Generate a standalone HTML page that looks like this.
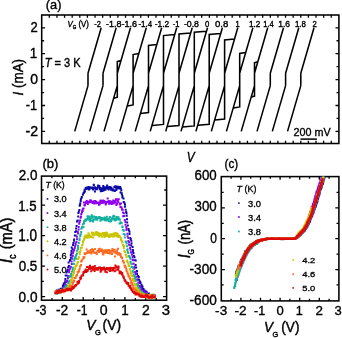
<!DOCTYPE html>
<html><head><meta charset="utf-8"><style>
html,body{margin:0;padding:0;background:#fff;width:342px;height:338px;overflow:hidden}
svg{display:block;will-change:transform}
text{font-family:"Liberation Sans", sans-serif;fill:#000;stroke:#000;stroke-width:0.38px}
</style></head><body>
<svg width="342" height="338" viewBox="0 0 342 338">
<rect x="41.7" y="15.0" width="297.2" height="128.5" fill="none" stroke="#000" stroke-width="1.55"/>
<path d="M41.7,131.40h3.4M338.9,131.40h-3.4M41.7,118.45h2.4M338.9,118.45h-2.4M41.7,105.50h3.4M338.9,105.50h-3.4M41.7,92.55h2.4M338.9,92.55h-2.4M41.7,79.60h3.4M338.9,79.60h-3.4M41.7,66.65h2.4M338.9,66.65h-2.4M41.7,53.70h3.4M338.9,53.70h-3.4M41.7,40.75h2.4M338.9,40.75h-2.4M41.7,27.80h3.4M338.9,27.80h-3.4M49.32,15.0v2.8M49.32,143.5v-2.8M56.94,15.0v2.8M56.94,143.5v-2.8M64.56,15.0v2.8M64.56,143.5v-2.8M72.18,15.0v2.8M72.18,143.5v-2.8M79.80,15.0v2.8M79.80,143.5v-2.8M87.42,15.0v2.8M87.42,143.5v-2.8M95.04,15.0v2.8M95.04,143.5v-2.8M102.66,15.0v2.8M102.66,143.5v-2.8M110.28,15.0v2.8M110.28,143.5v-2.8M117.90,15.0v2.8M117.90,143.5v-2.8M125.52,15.0v2.8M125.52,143.5v-2.8M133.14,15.0v2.8M133.14,143.5v-2.8M140.76,15.0v2.8M140.76,143.5v-2.8M148.38,15.0v2.8M148.38,143.5v-2.8M156.00,15.0v2.8M156.00,143.5v-2.8M163.62,15.0v2.8M163.62,143.5v-2.8M171.24,15.0v2.8M171.24,143.5v-2.8M178.86,15.0v2.8M178.86,143.5v-2.8M186.48,15.0v2.8M186.48,143.5v-2.8M194.10,15.0v2.8M194.10,143.5v-2.8M201.72,15.0v2.8M201.72,143.5v-2.8M209.34,15.0v2.8M209.34,143.5v-2.8M216.96,15.0v2.8M216.96,143.5v-2.8M224.58,15.0v2.8M224.58,143.5v-2.8M232.20,15.0v2.8M232.20,143.5v-2.8M239.82,15.0v2.8M239.82,143.5v-2.8M247.44,15.0v2.8M247.44,143.5v-2.8M255.06,15.0v2.8M255.06,143.5v-2.8M262.68,15.0v2.8M262.68,143.5v-2.8M270.30,15.0v2.8M270.30,143.5v-2.8M277.92,15.0v2.8M277.92,143.5v-2.8M285.54,15.0v2.8M285.54,143.5v-2.8M293.16,15.0v2.8M293.16,143.5v-2.8M300.78,15.0v2.8M300.78,143.5v-2.8M308.40,15.0v2.8M308.40,143.5v-2.8M316.02,15.0v2.8M316.02,143.5v-2.8M323.64,15.0v2.8M323.64,143.5v-2.8M331.26,15.0v2.8M331.26,143.5v-2.8" stroke="#000" stroke-width="1.3" fill="none"/>
<path d="M300.5,139.1H316.9" stroke="#000" stroke-width="1.5"/>
<path d="M101.19,27.7L88.00,73.2M74.72,131.4L88.00,85.6M88.00,73.2V85.6M116.19,27.7L103.00,73.2M89.72,131.4L103.00,85.6M103.00,73.2V85.6M130.50,27.7L117.30,73.2M104.02,131.4L117.30,85.6M120.66,60.60L117.30,61.60V97.20L113.94,98.20M146.29,27.7L133.10,73.2M119.82,131.4L133.10,85.6M138.49,53.60L133.10,54.60V104.90L127.50,105.90M161.69,27.7L148.50,73.2M135.22,131.4L148.50,85.6M156.56,44.40L148.50,45.40V112.60L140.67,113.60M176.69,27.7L163.50,73.2M150.22,131.4L163.50,85.6M174.40,34.60L163.50,35.60V124.40L152.25,125.40M192.19,27.7L179.00,73.2M165.72,131.4L179.00,85.6M190.37,33.00L179.00,34.00V125.60L167.40,126.60M207.50,27.7L194.30,73.2M181.02,131.4L194.30,85.6M206.16,31.30L194.30,32.30V125.90L182.61,126.90M222.39,27.7L209.20,73.2M195.92,131.4L209.20,85.6M220.45,33.40L209.20,34.40V124.30L197.98,125.30M237.79,27.7L224.60,73.2M211.32,131.4L224.60,85.6M234.23,39.00L224.60,40.00V119.10L214.88,120.10M252.89,27.7L239.70,73.2M226.42,131.4L239.70,85.6M245.41,52.50L239.70,53.50V106.90L233.52,107.90M267.69,27.7L254.50,73.2M241.22,131.4L254.50,85.6M257.52,61.80L254.50,62.80V96.10L251.46,97.10M283.50,27.7L270.30,73.2M257.02,131.4L270.30,85.6M270.30,73.2V85.6M298.80,27.7L285.60,73.2M272.32,131.4L285.60,85.6M285.60,73.2V85.6M314.00,27.7L300.80,73.2M287.52,131.4L300.80,85.6M300.80,73.2V85.6" stroke="#000" stroke-width="1.55" fill="none" stroke-linejoin="miter"/>
<rect x="41.5" y="176.1" width="125.1" height="124.1" fill="none" stroke="#000" stroke-width="1.55"/>
<path d="M51.92,176.1v2.2M51.92,300.2v-2.2M62.35,176.1v3.2M62.35,300.2v-3.2M72.78,176.1v2.2M72.78,300.2v-2.2M83.20,176.1v3.2M83.20,300.2v-3.2M93.62,176.1v2.2M93.62,300.2v-2.2M104.05,176.1v3.2M104.05,300.2v-3.2M114.48,176.1v2.2M114.48,300.2v-2.2M124.90,176.1v3.2M124.90,300.2v-3.2M135.32,176.1v2.2M135.32,300.2v-2.2M145.75,176.1v3.2M145.75,300.2v-3.2M156.18,176.1v2.2M156.18,300.2v-2.2M41.5,296.55h3.6M166.6,296.55h-3.6M41.5,281.32h2.4M166.6,281.32h-2.4M41.5,266.10h3.6M166.6,266.10h-3.6M41.5,250.88h2.4M166.6,250.88h-2.4M41.5,235.65h3.6M166.6,235.65h-3.6M41.5,220.43h2.4M166.6,220.43h-2.4M41.5,205.20h3.6M166.6,205.20h-3.6M41.5,189.98h2.4M166.6,189.98h-2.4" stroke="#000" stroke-width="1.3" fill="none"/>
<circle cx="47.5" cy="198.90" r="0.95" fill="#0a0aa6"/>
<circle cx="47.5" cy="213.02" r="0.95" fill="#9000f0"/>
<circle cx="47.5" cy="227.14" r="0.95" fill="#12b09e"/>
<circle cx="47.5" cy="241.26" r="0.95" fill="#c8c400"/>
<circle cx="47.5" cy="255.38" r="0.95" fill="#ff6a22"/>
<circle cx="47.5" cy="269.50" r="0.95" fill="#dd0808"/>
<path fill="#0a0aa6" d="M54.8 291.2h2.0v2.0h-2.0zM55.1 291.9h2.0v2.0h-2.0zM55.2 291.2h2.0v2.0h-2.0zM55.8 289.5h2.0v2.0h-2.0zM56.3 290.8h2.0v2.0h-2.0zM56.5 289.8h2.0v2.0h-2.0zM56.7 290.0h2.0v2.0h-2.0zM57.3 290.5h2.0v2.0h-2.0zM57.4 291.0h2.0v2.0h-2.0zM58.2 290.9h2.0v2.0h-2.0zM58.6 289.4h2.0v2.0h-2.0zM58.7 288.9h2.0v2.0h-2.0zM59.5 288.6h2.0v2.0h-2.0zM59.7 287.7h2.0v2.0h-2.0zM59.8 288.1h2.0v2.0h-2.0zM60.2 287.8h2.0v2.0h-2.0zM61.4 287.8h2.0v2.0h-2.0zM61.8 287.6h2.0v2.0h-2.0zM61.9 284.9h2.0v2.0h-2.0zM62.5 283.9h2.0v2.0h-2.0zM62.8 282.6h2.0v2.0h-2.0zM63.1 282.9h2.0v2.0h-2.0zM63.6 282.3h2.0v2.0h-2.0zM64.3 281.0h2.0v2.0h-2.0zM64.2 280.2h2.0v2.0h-2.0zM64.4 278.0h2.0v2.0h-2.0zM64.7 274.4h2.0v2.0h-2.0zM65.6 274.4h2.0v2.0h-2.0zM65.6 271.4h2.0v2.0h-2.0zM66.4 270.0h2.0v2.0h-2.0zM66.8 269.0h2.0v2.0h-2.0zM67.1 266.5h2.0v2.0h-2.0zM67.9 265.1h2.0v2.0h-2.0zM67.6 261.6h2.0v2.0h-2.0zM68.9 259.7h2.0v2.0h-2.0zM69.1 259.0h2.0v2.0h-2.0zM69.9 256.8h2.0v2.0h-2.0zM69.8 254.2h2.0v2.0h-2.0zM70.3 252.3h2.0v2.0h-2.0zM70.5 250.1h2.0v2.0h-2.0zM70.7 246.4h2.0v2.0h-2.0zM71.5 248.3h2.0v2.0h-2.0zM72.1 243.9h2.0v2.0h-2.0zM72.4 242.1h2.0v2.0h-2.0zM73.1 239.8h2.0v2.0h-2.0zM73.1 238.5h2.0v2.0h-2.0zM73.8 234.5h2.0v2.0h-2.0zM74.6 234.5h2.0v2.0h-2.0zM74.3 231.1h2.0v2.0h-2.0zM75.0 230.3h2.0v2.0h-2.0zM75.1 227.6h2.0v2.0h-2.0zM75.6 225.0h2.0v2.0h-2.0zM76.0 220.4h2.0v2.0h-2.0zM76.7 219.4h2.0v2.0h-2.0zM77.2 215.4h2.0v2.0h-2.0zM77.4 212.1h2.0v2.0h-2.0zM77.8 210.7h2.0v2.0h-2.0zM78.4 209.0h2.0v2.0h-2.0zM78.7 204.8h2.0v2.0h-2.0zM79.0 203.8h2.0v2.0h-2.0zM79.3 202.3h2.0v2.0h-2.0zM79.7 200.1h2.0v2.0h-2.0zM79.9 198.3h2.0v2.0h-2.0zM80.8 195.9h2.0v2.0h-2.0zM80.6 196.7h2.0v2.0h-2.0zM81.9 193.8h2.0v2.0h-2.0zM81.9 193.5h2.0v2.0h-2.0zM82.6 192.0h2.0v2.0h-2.0zM83.1 191.5h2.0v2.0h-2.0zM83.5 190.0h2.0v2.0h-2.0zM83.6 188.8h2.0v2.0h-2.0zM83.9 190.4h2.0v2.0h-2.0zM84.7 188.0h2.0v2.0h-2.0zM84.7 186.9h2.0v2.0h-2.0zM85.6 186.7h2.0v2.0h-2.0zM85.6 187.5h2.0v2.0h-2.0zM86.4 187.8h2.0v2.0h-2.0zM86.3 186.5h2.0v2.0h-2.0zM86.9 186.7h2.0v2.0h-2.0zM87.7 188.4h2.0v2.0h-2.0zM87.6 186.1h2.0v2.0h-2.0zM88.4 187.2h2.0v2.0h-2.0zM88.6 188.2h2.0v2.0h-2.0zM88.6 186.3h2.0v2.0h-2.0zM89.7 186.8h2.0v2.0h-2.0zM89.6 186.5h2.0v2.0h-2.0zM90.1 186.8h2.0v2.0h-2.0zM90.9 186.4h2.0v2.0h-2.0zM91.0 187.0h2.0v2.0h-2.0zM91.8 188.1h2.0v2.0h-2.0zM92.1 188.6h2.0v2.0h-2.0zM92.3 186.5h2.0v2.0h-2.0zM92.9 183.8h2.0v2.0h-2.0zM92.7 184.1h2.0v2.0h-2.0zM93.9 190.5h2.0v2.0h-2.0zM94.0 186.3h2.0v2.0h-2.0zM94.0 187.3h2.0v2.0h-2.0zM94.7 188.2h2.0v2.0h-2.0zM95.6 187.6h2.0v2.0h-2.0zM95.8 187.2h2.0v2.0h-2.0zM96.1 188.3h2.0v2.0h-2.0zM96.5 187.1h2.0v2.0h-2.0zM96.8 185.4h2.0v2.0h-2.0zM97.2 184.5h2.0v2.0h-2.0zM97.6 185.7h2.0v2.0h-2.0zM98.3 184.9h2.0v2.0h-2.0zM98.9 186.7h2.0v2.0h-2.0zM98.8 188.2h2.0v2.0h-2.0zM99.8 190.2h2.0v2.0h-2.0zM99.8 188.3h2.0v2.0h-2.0zM100.8 187.3h2.0v2.0h-2.0zM100.8 189.8h2.0v2.0h-2.0zM101.3 187.8h2.0v2.0h-2.0zM101.5 189.9h2.0v2.0h-2.0zM102.4 186.0h2.0v2.0h-2.0zM102.2 184.9h2.0v2.0h-2.0zM102.8 187.2h2.0v2.0h-2.0zM102.9 189.3h2.0v2.0h-2.0zM103.7 186.2h2.0v2.0h-2.0zM104.4 187.5h2.0v2.0h-2.0zM104.6 188.7h2.0v2.0h-2.0zM104.9 187.3h2.0v2.0h-2.0zM105.4 186.6h2.0v2.0h-2.0zM105.8 186.9h2.0v2.0h-2.0zM106.1 184.4h2.0v2.0h-2.0zM106.7 185.8h2.0v2.0h-2.0zM107.2 187.8h2.0v2.0h-2.0zM107.7 188.5h2.0v2.0h-2.0zM107.7 188.5h2.0v2.0h-2.0zM108.5 186.8h2.0v2.0h-2.0zM108.9 185.9h2.0v2.0h-2.0zM108.9 187.6h2.0v2.0h-2.0zM109.6 186.5h2.0v2.0h-2.0zM110.2 188.7h2.0v2.0h-2.0zM110.1 187.0h2.0v2.0h-2.0zM110.4 186.6h2.0v2.0h-2.0zM111.3 188.6h2.0v2.0h-2.0zM111.6 189.5h2.0v2.0h-2.0zM112.2 189.2h2.0v2.0h-2.0zM112.5 188.3h2.0v2.0h-2.0zM112.8 189.5h2.0v2.0h-2.0zM113.4 185.9h2.0v2.0h-2.0zM113.9 190.0h2.0v2.0h-2.0zM114.0 186.0h2.0v2.0h-2.0zM114.3 185.2h2.0v2.0h-2.0zM115.2 187.4h2.0v2.0h-2.0zM115.7 185.4h2.0v2.0h-2.0zM115.3 188.9h2.0v2.0h-2.0zM115.8 186.7h2.0v2.0h-2.0zM116.3 187.5h2.0v2.0h-2.0zM117.2 185.7h2.0v2.0h-2.0zM117.4 186.5h2.0v2.0h-2.0zM117.8 187.2h2.0v2.0h-2.0zM118.3 187.0h2.0v2.0h-2.0zM118.6 187.6h2.0v2.0h-2.0zM119.2 186.1h2.0v2.0h-2.0zM119.9 187.5h2.0v2.0h-2.0zM119.5 191.5h2.0v2.0h-2.0zM120.3 189.3h2.0v2.0h-2.0zM120.7 192.3h2.0v2.0h-2.0zM120.9 193.6h2.0v2.0h-2.0zM121.5 195.2h2.0v2.0h-2.0zM121.4 196.4h2.0v2.0h-2.0zM122.5 197.4h2.0v2.0h-2.0zM122.7 201.1h2.0v2.0h-2.0zM123.4 201.7h2.0v2.0h-2.0zM124.0 203.6h2.0v2.0h-2.0zM123.9 205.8h2.0v2.0h-2.0zM124.7 208.7h2.0v2.0h-2.0zM125.2 211.1h2.0v2.0h-2.0zM125.5 212.3h2.0v2.0h-2.0zM125.7 214.7h2.0v2.0h-2.0zM126.0 218.3h2.0v2.0h-2.0zM126.2 221.6h2.0v2.0h-2.0zM126.8 224.5h2.0v2.0h-2.0zM127.5 228.0h2.0v2.0h-2.0zM127.8 229.2h2.0v2.0h-2.0zM128.5 230.7h2.0v2.0h-2.0zM128.5 233.1h2.0v2.0h-2.0zM129.3 237.1h2.0v2.0h-2.0zM129.7 237.9h2.0v2.0h-2.0zM130.3 239.8h2.0v2.0h-2.0zM130.5 242.2h2.0v2.0h-2.0zM130.2 244.5h2.0v2.0h-2.0zM131.6 246.1h2.0v2.0h-2.0zM131.9 249.1h2.0v2.0h-2.0zM131.9 250.6h2.0v2.0h-2.0zM132.5 252.2h2.0v2.0h-2.0zM132.9 255.1h2.0v2.0h-2.0zM133.5 256.2h2.0v2.0h-2.0zM134.1 259.3h2.0v2.0h-2.0zM134.7 259.5h2.0v2.0h-2.0zM134.6 264.0h2.0v2.0h-2.0zM135.0 266.5h2.0v2.0h-2.0zM135.1 266.6h2.0v2.0h-2.0zM135.8 270.1h2.0v2.0h-2.0zM136.0 270.4h2.0v2.0h-2.0zM136.0 273.0h2.0v2.0h-2.0zM137.1 274.9h2.0v2.0h-2.0zM137.8 275.9h2.0v2.0h-2.0zM137.3 278.4h2.0v2.0h-2.0zM138.1 278.8h2.0v2.0h-2.0zM138.9 280.5h2.0v2.0h-2.0zM139.5 281.5h2.0v2.0h-2.0zM139.1 281.9h2.0v2.0h-2.0zM140.5 283.8h2.0v2.0h-2.0zM140.6 285.0h2.0v2.0h-2.0zM140.7 285.7h2.0v2.0h-2.0zM141.5 285.4h2.0v2.0h-2.0zM141.8 287.7h2.0v2.0h-2.0zM141.9 289.2h2.0v2.0h-2.0zM142.5 288.0h2.0v2.0h-2.0zM143.0 289.9h2.0v2.0h-2.0zM143.6 289.4h2.0v2.0h-2.0zM143.6 289.4h2.0v2.0h-2.0zM144.1 290.9h2.0v2.0h-2.0zM144.9 291.2h2.0v2.0h-2.0zM145.3 290.4h2.0v2.0h-2.0zM145.3 291.6h2.0v2.0h-2.0zM145.7 291.5h2.0v2.0h-2.0zM145.8 292.3h2.0v2.0h-2.0zM147.0 293.0h2.0v2.0h-2.0zM146.7 293.7h2.0v2.0h-2.0zM147.9 293.4h2.0v2.0h-2.0zM147.8 292.5h2.0v2.0h-2.0zM148.3 294.1h2.0v2.0h-2.0zM148.7 294.7h2.0v2.0h-2.0zM148.8 294.6h2.0v2.0h-2.0zM149.5 294.9h2.0v2.0h-2.0zM149.7 295.2h2.0v2.0h-2.0zM150.9 294.0h2.0v2.0h-2.0zM150.7 294.9h2.0v2.0h-2.0zM151.2 294.4h2.0v2.0h-2.0zM152.0 295.4h2.0v2.0h-2.0zM151.9 295.7h2.0v2.0h-2.0zM152.2 295.5h2.0v2.0h-2.0zM153.0 295.3h2.0v2.0h-2.0zM153.5 294.1h2.0v2.0h-2.0zM153.4 295.2h2.0v2.0h-2.0z"/>
<path fill="#9000f0" d="M54.2 291.4h2.0v2.0h-2.0zM55.1 291.4h2.0v2.0h-2.0zM55.3 291.1h2.0v2.0h-2.0zM55.7 291.7h2.0v2.0h-2.0zM55.9 290.9h2.0v2.0h-2.0zM56.8 291.3h2.0v2.0h-2.0zM56.9 292.0h2.0v2.0h-2.0zM57.8 291.5h2.0v2.0h-2.0zM57.9 290.1h2.0v2.0h-2.0zM58.3 290.1h2.0v2.0h-2.0zM58.2 290.0h2.0v2.0h-2.0zM59.2 289.9h2.0v2.0h-2.0zM59.7 290.9h2.0v2.0h-2.0zM59.5 289.1h2.0v2.0h-2.0zM60.2 289.6h2.0v2.0h-2.0zM60.8 289.4h2.0v2.0h-2.0zM61.1 289.6h2.0v2.0h-2.0zM61.7 288.2h2.0v2.0h-2.0zM61.9 288.0h2.0v2.0h-2.0zM61.9 287.0h2.0v2.0h-2.0zM62.7 286.1h2.0v2.0h-2.0zM63.1 287.0h2.0v2.0h-2.0zM63.1 286.7h2.0v2.0h-2.0zM63.9 284.8h2.0v2.0h-2.0zM64.3 283.3h2.0v2.0h-2.0zM64.7 284.0h2.0v2.0h-2.0zM65.3 280.6h2.0v2.0h-2.0zM65.5 281.0h2.0v2.0h-2.0zM66.1 280.0h2.0v2.0h-2.0zM66.9 277.5h2.0v2.0h-2.0zM67.0 275.6h2.0v2.0h-2.0zM67.2 275.4h2.0v2.0h-2.0zM67.6 274.9h2.0v2.0h-2.0zM68.1 271.2h2.0v2.0h-2.0zM68.3 269.5h2.0v2.0h-2.0zM69.1 267.4h2.0v2.0h-2.0zM69.6 266.1h2.0v2.0h-2.0zM69.8 265.8h2.0v2.0h-2.0zM70.8 262.9h2.0v2.0h-2.0zM70.6 260.5h2.0v2.0h-2.0zM70.9 257.8h2.0v2.0h-2.0zM71.4 255.4h2.0v2.0h-2.0zM71.8 254.6h2.0v2.0h-2.0zM71.9 252.0h2.0v2.0h-2.0zM72.6 250.3h2.0v2.0h-2.0zM72.9 249.1h2.0v2.0h-2.0zM73.7 247.3h2.0v2.0h-2.0zM74.1 245.3h2.0v2.0h-2.0zM74.7 243.4h2.0v2.0h-2.0zM74.6 242.2h2.0v2.0h-2.0zM75.5 240.9h2.0v2.0h-2.0zM76.0 238.3h2.0v2.0h-2.0zM75.9 235.7h2.0v2.0h-2.0zM77.1 232.5h2.0v2.0h-2.0zM76.8 230.7h2.0v2.0h-2.0zM77.6 228.6h2.0v2.0h-2.0zM77.7 225.9h2.0v2.0h-2.0zM78.2 222.8h2.0v2.0h-2.0zM78.5 221.1h2.0v2.0h-2.0zM79.1 219.5h2.0v2.0h-2.0zM79.6 216.7h2.0v2.0h-2.0zM80.0 215.4h2.0v2.0h-2.0zM80.3 213.0h2.0v2.0h-2.0zM81.0 211.2h2.0v2.0h-2.0zM81.2 209.8h2.0v2.0h-2.0zM81.7 210.1h2.0v2.0h-2.0zM81.9 207.7h2.0v2.0h-2.0zM82.6 207.6h2.0v2.0h-2.0zM82.9 201.5h2.0v2.0h-2.0zM83.4 203.9h2.0v2.0h-2.0zM83.7 204.4h2.0v2.0h-2.0zM83.9 203.9h2.0v2.0h-2.0zM84.6 202.0h2.0v2.0h-2.0zM84.7 201.9h2.0v2.0h-2.0zM85.1 200.9h2.0v2.0h-2.0zM85.7 200.1h2.0v2.0h-2.0zM86.4 201.3h2.0v2.0h-2.0zM86.3 200.5h2.0v2.0h-2.0zM87.1 201.6h2.0v2.0h-2.0zM86.8 202.9h2.0v2.0h-2.0zM87.8 201.4h2.0v2.0h-2.0zM88.3 200.7h2.0v2.0h-2.0zM88.7 201.1h2.0v2.0h-2.0zM89.2 199.3h2.0v2.0h-2.0zM89.4 200.5h2.0v2.0h-2.0zM89.9 199.6h2.0v2.0h-2.0zM89.8 200.2h2.0v2.0h-2.0zM90.7 200.9h2.0v2.0h-2.0zM91.5 202.0h2.0v2.0h-2.0zM91.5 200.7h2.0v2.0h-2.0zM92.5 202.0h2.0v2.0h-2.0zM92.6 200.2h2.0v2.0h-2.0zM93.2 202.4h2.0v2.0h-2.0zM93.2 200.5h2.0v2.0h-2.0zM93.3 201.4h2.0v2.0h-2.0zM93.8 200.3h2.0v2.0h-2.0zM94.4 200.0h2.0v2.0h-2.0zM95.0 202.2h2.0v2.0h-2.0zM95.1 201.0h2.0v2.0h-2.0zM95.9 201.4h2.0v2.0h-2.0zM95.8 201.6h2.0v2.0h-2.0zM96.3 201.6h2.0v2.0h-2.0zM97.0 202.1h2.0v2.0h-2.0zM97.4 201.4h2.0v2.0h-2.0zM97.9 203.7h2.0v2.0h-2.0zM98.2 201.6h2.0v2.0h-2.0zM99.2 201.1h2.0v2.0h-2.0zM98.7 203.2h2.0v2.0h-2.0zM99.3 200.2h2.0v2.0h-2.0zM99.7 199.4h2.0v2.0h-2.0zM100.5 202.0h2.0v2.0h-2.0zM100.9 199.9h2.0v2.0h-2.0zM101.1 200.6h2.0v2.0h-2.0zM101.5 201.9h2.0v2.0h-2.0zM102.2 199.4h2.0v2.0h-2.0zM102.5 201.2h2.0v2.0h-2.0zM103.1 200.1h2.0v2.0h-2.0zM103.2 201.5h2.0v2.0h-2.0zM104.3 200.8h2.0v2.0h-2.0zM104.4 200.9h2.0v2.0h-2.0zM104.7 203.5h2.0v2.0h-2.0zM104.7 203.3h2.0v2.0h-2.0zM105.3 202.2h2.0v2.0h-2.0zM105.9 201.0h2.0v2.0h-2.0zM106.1 201.0h2.0v2.0h-2.0zM106.7 197.5h2.0v2.0h-2.0zM107.5 200.3h2.0v2.0h-2.0zM107.6 199.9h2.0v2.0h-2.0zM108.3 200.8h2.0v2.0h-2.0zM108.0 202.8h2.0v2.0h-2.0zM108.2 201.1h2.0v2.0h-2.0zM109.4 202.4h2.0v2.0h-2.0zM109.6 201.9h2.0v2.0h-2.0zM109.6 200.3h2.0v2.0h-2.0zM110.2 200.9h2.0v2.0h-2.0zM110.7 202.9h2.0v2.0h-2.0zM111.1 201.4h2.0v2.0h-2.0zM111.8 202.2h2.0v2.0h-2.0zM112.2 199.6h2.0v2.0h-2.0zM112.2 201.4h2.0v2.0h-2.0zM112.6 202.5h2.0v2.0h-2.0zM113.5 201.0h2.0v2.0h-2.0zM113.7 200.0h2.0v2.0h-2.0zM114.1 201.8h2.0v2.0h-2.0zM114.7 201.1h2.0v2.0h-2.0zM114.8 199.1h2.0v2.0h-2.0zM114.8 198.2h2.0v2.0h-2.0zM115.4 203.9h2.0v2.0h-2.0zM116.1 202.8h2.0v2.0h-2.0zM116.4 198.3h2.0v2.0h-2.0zM116.9 199.7h2.0v2.0h-2.0zM117.2 201.1h2.0v2.0h-2.0zM117.8 198.3h2.0v2.0h-2.0zM118.8 203.1h2.0v2.0h-2.0zM118.8 202.5h2.0v2.0h-2.0zM118.9 203.6h2.0v2.0h-2.0zM119.5 206.0h2.0v2.0h-2.0zM120.0 202.6h2.0v2.0h-2.0zM120.6 206.4h2.0v2.0h-2.0zM121.1 208.7h2.0v2.0h-2.0zM121.0 208.5h2.0v2.0h-2.0zM121.7 208.7h2.0v2.0h-2.0zM122.1 211.5h2.0v2.0h-2.0zM122.8 212.3h2.0v2.0h-2.0zM122.2 215.3h2.0v2.0h-2.0zM123.2 214.9h2.0v2.0h-2.0zM123.8 218.9h2.0v2.0h-2.0zM124.4 221.0h2.0v2.0h-2.0zM124.5 223.8h2.0v2.0h-2.0zM125.3 226.0h2.0v2.0h-2.0zM125.6 227.7h2.0v2.0h-2.0zM125.5 229.1h2.0v2.0h-2.0zM126.4 232.8h2.0v2.0h-2.0zM126.6 235.2h2.0v2.0h-2.0zM127.3 237.1h2.0v2.0h-2.0zM127.4 240.0h2.0v2.0h-2.0zM127.9 241.1h2.0v2.0h-2.0zM128.0 243.4h2.0v2.0h-2.0zM128.6 244.2h2.0v2.0h-2.0zM129.1 247.0h2.0v2.0h-2.0zM129.6 248.8h2.0v2.0h-2.0zM130.0 251.2h2.0v2.0h-2.0zM130.5 251.4h2.0v2.0h-2.0zM130.9 253.7h2.0v2.0h-2.0zM131.6 256.1h2.0v2.0h-2.0zM131.7 258.6h2.0v2.0h-2.0zM132.1 259.3h2.0v2.0h-2.0zM132.2 262.8h2.0v2.0h-2.0zM132.6 262.8h2.0v2.0h-2.0zM133.4 265.9h2.0v2.0h-2.0zM133.3 267.8h2.0v2.0h-2.0zM134.1 271.0h2.0v2.0h-2.0zM134.5 271.9h2.0v2.0h-2.0zM135.0 273.0h2.0v2.0h-2.0zM135.0 275.7h2.0v2.0h-2.0zM135.6 275.7h2.0v2.0h-2.0zM135.7 278.6h2.0v2.0h-2.0zM136.3 278.8h2.0v2.0h-2.0zM137.2 281.4h2.0v2.0h-2.0zM137.6 281.8h2.0v2.0h-2.0zM137.2 284.3h2.0v2.0h-2.0zM138.2 284.9h2.0v2.0h-2.0zM138.9 285.5h2.0v2.0h-2.0zM138.9 285.6h2.0v2.0h-2.0zM139.5 286.3h2.0v2.0h-2.0zM140.2 287.9h2.0v2.0h-2.0zM140.6 289.6h2.0v2.0h-2.0zM140.3 288.3h2.0v2.0h-2.0zM141.2 289.6h2.0v2.0h-2.0zM141.5 290.8h2.0v2.0h-2.0zM142.1 290.9h2.0v2.0h-2.0zM141.9 291.2h2.0v2.0h-2.0zM143.1 290.3h2.0v2.0h-2.0zM143.5 292.2h2.0v2.0h-2.0zM143.3 290.6h2.0v2.0h-2.0zM144.0 292.7h2.0v2.0h-2.0zM144.5 292.2h2.0v2.0h-2.0zM145.3 293.9h2.0v2.0h-2.0zM145.6 293.3h2.0v2.0h-2.0zM145.6 291.7h2.0v2.0h-2.0zM146.4 293.9h2.0v2.0h-2.0zM146.8 293.9h2.0v2.0h-2.0zM147.7 294.1h2.0v2.0h-2.0zM147.5 293.9h2.0v2.0h-2.0zM148.0 294.5h2.0v2.0h-2.0zM148.2 295.9h2.0v2.0h-2.0zM148.4 294.2h2.0v2.0h-2.0zM149.1 294.8h2.0v2.0h-2.0zM150.2 295.2h2.0v2.0h-2.0zM150.0 294.4h2.0v2.0h-2.0zM150.4 295.6h2.0v2.0h-2.0zM150.8 295.3h2.0v2.0h-2.0zM151.8 295.0h2.0v2.0h-2.0zM152.1 294.2h2.0v2.0h-2.0zM152.8 294.2h2.0v2.0h-2.0zM152.1 295.8h2.0v2.0h-2.0zM152.9 295.2h2.0v2.0h-2.0zM153.1 295.4h2.0v2.0h-2.0zM154.1 295.0h2.0v2.0h-2.0z"/>
<path fill="#12b09e" d="M54.4 291.2h2.0v2.0h-2.0zM54.8 290.4h2.0v2.0h-2.0zM55.4 291.5h2.0v2.0h-2.0zM56.2 292.8h2.0v2.0h-2.0zM56.3 291.2h2.0v2.0h-2.0zM56.7 290.8h2.0v2.0h-2.0zM57.4 291.9h2.0v2.0h-2.0zM57.5 290.4h2.0v2.0h-2.0zM57.5 288.4h2.0v2.0h-2.0zM58.2 290.1h2.0v2.0h-2.0zM59.1 291.6h2.0v2.0h-2.0zM59.1 291.6h2.0v2.0h-2.0zM59.5 290.4h2.0v2.0h-2.0zM60.2 290.9h2.0v2.0h-2.0zM60.0 289.9h2.0v2.0h-2.0zM60.8 290.8h2.0v2.0h-2.0zM61.3 290.6h2.0v2.0h-2.0zM61.4 289.3h2.0v2.0h-2.0zM61.7 290.7h2.0v2.0h-2.0zM62.3 288.8h2.0v2.0h-2.0zM62.7 287.5h2.0v2.0h-2.0zM63.4 288.3h2.0v2.0h-2.0zM63.7 288.2h2.0v2.0h-2.0zM64.0 287.0h2.0v2.0h-2.0zM64.4 286.9h2.0v2.0h-2.0zM64.9 285.1h2.0v2.0h-2.0zM64.6 285.4h2.0v2.0h-2.0zM65.4 285.7h2.0v2.0h-2.0zM66.0 284.7h2.0v2.0h-2.0zM66.5 284.5h2.0v2.0h-2.0zM67.2 282.0h2.0v2.0h-2.0zM67.7 281.8h2.0v2.0h-2.0zM68.0 280.7h2.0v2.0h-2.0zM68.5 279.8h2.0v2.0h-2.0zM68.6 276.1h2.0v2.0h-2.0zM68.7 275.4h2.0v2.0h-2.0zM70.1 275.4h2.0v2.0h-2.0zM70.0 273.5h2.0v2.0h-2.0zM70.3 273.1h2.0v2.0h-2.0zM71.0 270.8h2.0v2.0h-2.0zM71.8 269.0h2.0v2.0h-2.0zM71.6 267.8h2.0v2.0h-2.0zM71.9 266.8h2.0v2.0h-2.0zM72.4 262.8h2.0v2.0h-2.0zM72.9 263.0h2.0v2.0h-2.0zM73.3 259.7h2.0v2.0h-2.0zM73.3 258.1h2.0v2.0h-2.0zM74.2 256.1h2.0v2.0h-2.0zM75.0 257.5h2.0v2.0h-2.0zM75.0 254.8h2.0v2.0h-2.0zM75.2 254.3h2.0v2.0h-2.0zM75.9 252.6h2.0v2.0h-2.0zM75.9 249.8h2.0v2.0h-2.0zM76.9 248.2h2.0v2.0h-2.0zM77.1 246.6h2.0v2.0h-2.0zM77.0 244.7h2.0v2.0h-2.0zM77.8 241.9h2.0v2.0h-2.0zM78.5 239.2h2.0v2.0h-2.0zM78.6 237.6h2.0v2.0h-2.0zM79.2 234.9h2.0v2.0h-2.0zM79.5 233.6h2.0v2.0h-2.0zM79.8 233.3h2.0v2.0h-2.0zM80.2 231.1h2.0v2.0h-2.0zM80.3 227.8h2.0v2.0h-2.0zM81.0 226.4h2.0v2.0h-2.0zM81.5 225.7h2.0v2.0h-2.0zM81.8 223.2h2.0v2.0h-2.0zM82.5 226.3h2.0v2.0h-2.0zM83.0 222.5h2.0v2.0h-2.0zM82.9 220.4h2.0v2.0h-2.0zM83.7 220.0h2.0v2.0h-2.0zM84.1 219.7h2.0v2.0h-2.0zM84.4 218.6h2.0v2.0h-2.0zM85.2 218.8h2.0v2.0h-2.0zM85.3 219.6h2.0v2.0h-2.0zM85.5 219.1h2.0v2.0h-2.0zM86.2 218.1h2.0v2.0h-2.0zM86.5 215.3h2.0v2.0h-2.0zM87.1 216.2h2.0v2.0h-2.0zM86.6 217.4h2.0v2.0h-2.0zM87.8 217.4h2.0v2.0h-2.0zM88.3 219.1h2.0v2.0h-2.0zM88.4 215.4h2.0v2.0h-2.0zM89.3 218.3h2.0v2.0h-2.0zM89.2 220.2h2.0v2.0h-2.0zM90.2 217.1h2.0v2.0h-2.0zM90.5 215.8h2.0v2.0h-2.0zM90.8 214.2h2.0v2.0h-2.0zM91.1 219.4h2.0v2.0h-2.0zM91.7 216.6h2.0v2.0h-2.0zM92.1 220.4h2.0v2.0h-2.0zM92.4 218.7h2.0v2.0h-2.0zM92.8 215.4h2.0v2.0h-2.0zM93.2 218.5h2.0v2.0h-2.0zM94.2 218.5h2.0v2.0h-2.0zM94.3 216.3h2.0v2.0h-2.0zM94.3 218.5h2.0v2.0h-2.0zM94.4 217.2h2.0v2.0h-2.0zM95.0 216.0h2.0v2.0h-2.0zM95.8 217.4h2.0v2.0h-2.0zM96.3 218.7h2.0v2.0h-2.0zM97.1 216.5h2.0v2.0h-2.0zM97.5 217.0h2.0v2.0h-2.0zM97.4 216.9h2.0v2.0h-2.0zM97.7 216.3h2.0v2.0h-2.0zM98.4 217.3h2.0v2.0h-2.0zM98.7 215.9h2.0v2.0h-2.0zM99.4 219.7h2.0v2.0h-2.0zM99.4 217.3h2.0v2.0h-2.0zM100.1 218.7h2.0v2.0h-2.0zM100.5 217.0h2.0v2.0h-2.0zM101.1 217.7h2.0v2.0h-2.0zM101.3 217.9h2.0v2.0h-2.0zM101.9 217.2h2.0v2.0h-2.0zM101.9 218.5h2.0v2.0h-2.0zM102.3 217.9h2.0v2.0h-2.0zM102.5 218.5h2.0v2.0h-2.0zM103.6 216.4h2.0v2.0h-2.0zM103.9 219.0h2.0v2.0h-2.0zM103.9 219.2h2.0v2.0h-2.0zM104.5 218.0h2.0v2.0h-2.0zM104.4 216.9h2.0v2.0h-2.0zM105.4 219.5h2.0v2.0h-2.0zM106.3 217.9h2.0v2.0h-2.0zM106.0 217.9h2.0v2.0h-2.0zM105.9 215.8h2.0v2.0h-2.0zM107.7 220.3h2.0v2.0h-2.0zM107.4 218.4h2.0v2.0h-2.0zM107.6 217.8h2.0v2.0h-2.0zM107.9 217.8h2.0v2.0h-2.0zM108.9 216.1h2.0v2.0h-2.0zM108.9 216.6h2.0v2.0h-2.0zM109.4 220.4h2.0v2.0h-2.0zM110.0 219.1h2.0v2.0h-2.0zM110.1 219.9h2.0v2.0h-2.0zM110.9 217.3h2.0v2.0h-2.0zM110.9 217.4h2.0v2.0h-2.0zM112.1 218.5h2.0v2.0h-2.0zM111.8 216.2h2.0v2.0h-2.0zM112.4 214.8h2.0v2.0h-2.0zM112.6 217.6h2.0v2.0h-2.0zM113.3 215.3h2.0v2.0h-2.0zM113.5 217.7h2.0v2.0h-2.0zM114.1 219.4h2.0v2.0h-2.0zM114.9 217.5h2.0v2.0h-2.0zM114.8 218.9h2.0v2.0h-2.0zM115.6 216.1h2.0v2.0h-2.0zM116.1 218.5h2.0v2.0h-2.0zM116.4 216.9h2.0v2.0h-2.0zM116.8 217.0h2.0v2.0h-2.0zM117.0 218.2h2.0v2.0h-2.0zM117.5 216.3h2.0v2.0h-2.0zM118.1 217.9h2.0v2.0h-2.0zM118.4 218.5h2.0v2.0h-2.0zM118.6 222.6h2.0v2.0h-2.0zM118.9 218.7h2.0v2.0h-2.0zM119.6 221.3h2.0v2.0h-2.0zM120.2 222.1h2.0v2.0h-2.0zM120.3 222.2h2.0v2.0h-2.0zM120.7 222.3h2.0v2.0h-2.0zM121.3 225.5h2.0v2.0h-2.0zM121.6 226.0h2.0v2.0h-2.0zM121.9 228.7h2.0v2.0h-2.0zM122.6 229.2h2.0v2.0h-2.0zM122.8 229.7h2.0v2.0h-2.0zM122.7 233.0h2.0v2.0h-2.0zM123.9 233.8h2.0v2.0h-2.0zM123.9 236.5h2.0v2.0h-2.0zM124.7 240.4h2.0v2.0h-2.0zM125.3 241.3h2.0v2.0h-2.0zM125.7 242.4h2.0v2.0h-2.0zM126.1 245.3h2.0v2.0h-2.0zM126.6 248.3h2.0v2.0h-2.0zM126.3 249.0h2.0v2.0h-2.0zM126.8 250.9h2.0v2.0h-2.0zM127.3 252.1h2.0v2.0h-2.0zM127.8 254.9h2.0v2.0h-2.0zM128.3 255.6h2.0v2.0h-2.0zM129.0 256.4h2.0v2.0h-2.0zM129.5 258.0h2.0v2.0h-2.0zM129.5 261.6h2.0v2.0h-2.0zM129.6 260.8h2.0v2.0h-2.0zM130.4 263.3h2.0v2.0h-2.0zM130.6 265.9h2.0v2.0h-2.0zM131.1 266.0h2.0v2.0h-2.0zM132.2 267.0h2.0v2.0h-2.0zM131.7 269.8h2.0v2.0h-2.0zM132.3 271.5h2.0v2.0h-2.0zM132.8 274.1h2.0v2.0h-2.0zM133.2 274.9h2.0v2.0h-2.0zM134.0 275.4h2.0v2.0h-2.0zM134.0 277.2h2.0v2.0h-2.0zM134.5 278.7h2.0v2.0h-2.0zM134.7 280.1h2.0v2.0h-2.0zM135.6 283.7h2.0v2.0h-2.0zM135.7 283.1h2.0v2.0h-2.0zM136.2 283.9h2.0v2.0h-2.0zM137.0 285.3h2.0v2.0h-2.0zM137.1 285.8h2.0v2.0h-2.0zM137.4 287.3h2.0v2.0h-2.0zM137.8 287.0h2.0v2.0h-2.0zM138.1 287.8h2.0v2.0h-2.0zM138.4 288.5h2.0v2.0h-2.0zM138.9 289.8h2.0v2.0h-2.0zM139.8 290.0h2.0v2.0h-2.0zM139.7 290.3h2.0v2.0h-2.0zM140.6 290.8h2.0v2.0h-2.0zM140.9 290.7h2.0v2.0h-2.0zM141.1 292.4h2.0v2.0h-2.0zM141.5 292.4h2.0v2.0h-2.0zM142.0 292.1h2.0v2.0h-2.0zM142.6 292.9h2.0v2.0h-2.0zM142.8 293.5h2.0v2.0h-2.0zM143.0 293.1h2.0v2.0h-2.0zM143.4 294.0h2.0v2.0h-2.0zM144.1 294.3h2.0v2.0h-2.0zM144.6 293.9h2.0v2.0h-2.0zM144.7 293.7h2.0v2.0h-2.0zM145.7 292.8h2.0v2.0h-2.0zM145.6 295.3h2.0v2.0h-2.0zM146.3 295.0h2.0v2.0h-2.0zM146.6 294.3h2.0v2.0h-2.0zM147.8 296.7h2.0v2.0h-2.0zM147.7 294.3h2.0v2.0h-2.0zM147.9 295.5h2.0v2.0h-2.0zM148.2 294.3h2.0v2.0h-2.0zM148.7 294.2h2.0v2.0h-2.0zM149.1 294.0h2.0v2.0h-2.0zM149.1 294.1h2.0v2.0h-2.0zM150.1 294.2h2.0v2.0h-2.0zM150.6 295.6h2.0v2.0h-2.0zM151.0 295.5h2.0v2.0h-2.0zM151.5 294.7h2.0v2.0h-2.0zM152.0 293.8h2.0v2.0h-2.0zM152.2 293.7h2.0v2.0h-2.0zM152.6 295.4h2.0v2.0h-2.0zM152.6 295.5h2.0v2.0h-2.0zM153.0 295.4h2.0v2.0h-2.0zM153.6 295.7h2.0v2.0h-2.0z"/>
<path fill="#c8c400" d="M54.2 291.8h2.0v2.0h-2.0zM54.9 291.2h2.0v2.0h-2.0zM55.5 290.3h2.0v2.0h-2.0zM55.6 290.5h2.0v2.0h-2.0zM55.8 291.3h2.0v2.0h-2.0zM56.7 291.7h2.0v2.0h-2.0zM56.9 291.1h2.0v2.0h-2.0zM57.8 291.3h2.0v2.0h-2.0zM58.1 290.8h2.0v2.0h-2.0zM58.5 290.7h2.0v2.0h-2.0zM58.3 291.3h2.0v2.0h-2.0zM59.0 289.7h2.0v2.0h-2.0zM59.7 290.3h2.0v2.0h-2.0zM60.0 289.9h2.0v2.0h-2.0zM60.1 291.2h2.0v2.0h-2.0zM60.9 290.2h2.0v2.0h-2.0zM61.2 289.7h2.0v2.0h-2.0zM61.6 290.6h2.0v2.0h-2.0zM61.8 289.2h2.0v2.0h-2.0zM62.6 290.2h2.0v2.0h-2.0zM62.9 288.5h2.0v2.0h-2.0zM63.0 289.5h2.0v2.0h-2.0zM63.4 289.4h2.0v2.0h-2.0zM64.2 289.0h2.0v2.0h-2.0zM64.8 288.6h2.0v2.0h-2.0zM64.6 289.5h2.0v2.0h-2.0zM65.6 287.4h2.0v2.0h-2.0zM65.8 288.7h2.0v2.0h-2.0zM66.1 288.4h2.0v2.0h-2.0zM66.8 287.0h2.0v2.0h-2.0zM66.7 287.4h2.0v2.0h-2.0zM67.3 285.8h2.0v2.0h-2.0zM67.5 284.4h2.0v2.0h-2.0zM67.6 285.0h2.0v2.0h-2.0zM69.0 282.9h2.0v2.0h-2.0zM69.0 282.5h2.0v2.0h-2.0zM69.1 283.3h2.0v2.0h-2.0zM70.4 281.1h2.0v2.0h-2.0zM70.2 278.9h2.0v2.0h-2.0zM70.9 278.1h2.0v2.0h-2.0zM70.9 276.9h2.0v2.0h-2.0zM71.8 276.3h2.0v2.0h-2.0zM71.9 274.1h2.0v2.0h-2.0zM72.5 271.5h2.0v2.0h-2.0zM73.0 272.2h2.0v2.0h-2.0zM73.2 270.0h2.0v2.0h-2.0zM73.9 268.0h2.0v2.0h-2.0zM74.2 267.9h2.0v2.0h-2.0zM74.4 266.1h2.0v2.0h-2.0zM74.8 264.9h2.0v2.0h-2.0zM75.5 264.4h2.0v2.0h-2.0zM75.7 264.0h2.0v2.0h-2.0zM76.3 262.5h2.0v2.0h-2.0zM77.0 260.9h2.0v2.0h-2.0zM76.8 258.0h2.0v2.0h-2.0zM77.3 257.7h2.0v2.0h-2.0zM78.0 256.2h2.0v2.0h-2.0zM78.8 253.3h2.0v2.0h-2.0zM78.3 251.2h2.0v2.0h-2.0zM79.0 251.1h2.0v2.0h-2.0zM79.5 249.3h2.0v2.0h-2.0zM79.8 247.1h2.0v2.0h-2.0zM80.9 246.5h2.0v2.0h-2.0zM81.3 244.1h2.0v2.0h-2.0zM81.5 243.6h2.0v2.0h-2.0zM81.9 240.8h2.0v2.0h-2.0zM82.1 241.3h2.0v2.0h-2.0zM82.1 240.2h2.0v2.0h-2.0zM83.0 238.7h2.0v2.0h-2.0zM83.2 238.1h2.0v2.0h-2.0zM83.5 236.1h2.0v2.0h-2.0zM84.3 235.6h2.0v2.0h-2.0zM84.6 234.5h2.0v2.0h-2.0zM84.8 236.5h2.0v2.0h-2.0zM85.5 235.3h2.0v2.0h-2.0zM85.8 236.8h2.0v2.0h-2.0zM86.3 236.1h2.0v2.0h-2.0zM86.6 234.4h2.0v2.0h-2.0zM87.4 232.3h2.0v2.0h-2.0zM87.4 235.1h2.0v2.0h-2.0zM87.8 236.5h2.0v2.0h-2.0zM88.4 234.7h2.0v2.0h-2.0zM88.7 233.8h2.0v2.0h-2.0zM89.0 235.3h2.0v2.0h-2.0zM89.5 235.3h2.0v2.0h-2.0zM90.0 236.0h2.0v2.0h-2.0zM91.0 232.1h2.0v2.0h-2.0zM91.1 231.5h2.0v2.0h-2.0zM91.6 232.5h2.0v2.0h-2.0zM91.7 233.7h2.0v2.0h-2.0zM91.9 236.4h2.0v2.0h-2.0zM92.0 232.0h2.0v2.0h-2.0zM92.8 233.2h2.0v2.0h-2.0zM93.3 234.2h2.0v2.0h-2.0zM93.4 233.6h2.0v2.0h-2.0zM93.6 233.8h2.0v2.0h-2.0zM94.5 231.5h2.0v2.0h-2.0zM94.7 232.4h2.0v2.0h-2.0zM95.6 231.0h2.0v2.0h-2.0zM95.8 233.2h2.0v2.0h-2.0zM96.0 233.1h2.0v2.0h-2.0zM96.5 233.9h2.0v2.0h-2.0zM97.4 233.1h2.0v2.0h-2.0zM97.5 232.0h2.0v2.0h-2.0zM97.8 232.7h2.0v2.0h-2.0zM97.9 234.4h2.0v2.0h-2.0zM98.4 235.5h2.0v2.0h-2.0zM99.0 233.8h2.0v2.0h-2.0zM99.8 233.0h2.0v2.0h-2.0zM99.9 232.7h2.0v2.0h-2.0zM100.3 234.3h2.0v2.0h-2.0zM100.5 232.8h2.0v2.0h-2.0zM101.1 235.8h2.0v2.0h-2.0zM101.9 232.1h2.0v2.0h-2.0zM101.5 232.8h2.0v2.0h-2.0zM102.6 233.9h2.0v2.0h-2.0zM103.3 232.1h2.0v2.0h-2.0zM103.4 235.0h2.0v2.0h-2.0zM103.6 235.9h2.0v2.0h-2.0zM104.3 234.2h2.0v2.0h-2.0zM104.1 233.4h2.0v2.0h-2.0zM105.0 233.8h2.0v2.0h-2.0zM105.2 231.5h2.0v2.0h-2.0zM105.6 234.9h2.0v2.0h-2.0zM106.1 232.2h2.0v2.0h-2.0zM106.7 233.5h2.0v2.0h-2.0zM107.3 234.9h2.0v2.0h-2.0zM107.9 236.0h2.0v2.0h-2.0zM107.6 234.6h2.0v2.0h-2.0zM108.0 234.7h2.0v2.0h-2.0zM108.5 234.9h2.0v2.0h-2.0zM109.1 235.4h2.0v2.0h-2.0zM109.4 233.2h2.0v2.0h-2.0zM109.7 233.4h2.0v2.0h-2.0zM110.3 233.3h2.0v2.0h-2.0zM110.8 235.2h2.0v2.0h-2.0zM111.0 233.9h2.0v2.0h-2.0zM111.7 233.7h2.0v2.0h-2.0zM111.9 235.5h2.0v2.0h-2.0zM112.4 232.8h2.0v2.0h-2.0zM113.4 232.5h2.0v2.0h-2.0zM113.4 235.5h2.0v2.0h-2.0zM114.0 234.2h2.0v2.0h-2.0zM113.8 232.8h2.0v2.0h-2.0zM114.5 232.1h2.0v2.0h-2.0zM114.9 234.1h2.0v2.0h-2.0zM115.1 233.4h2.0v2.0h-2.0zM116.1 234.2h2.0v2.0h-2.0zM116.0 235.2h2.0v2.0h-2.0zM116.4 232.6h2.0v2.0h-2.0zM117.1 234.3h2.0v2.0h-2.0zM117.4 235.7h2.0v2.0h-2.0zM117.8 236.1h2.0v2.0h-2.0zM118.3 234.8h2.0v2.0h-2.0zM118.8 235.4h2.0v2.0h-2.0zM118.8 235.4h2.0v2.0h-2.0zM119.9 237.2h2.0v2.0h-2.0zM119.9 238.5h2.0v2.0h-2.0zM120.2 239.0h2.0v2.0h-2.0zM120.8 239.7h2.0v2.0h-2.0zM121.4 241.4h2.0v2.0h-2.0zM121.3 241.6h2.0v2.0h-2.0zM122.0 244.0h2.0v2.0h-2.0zM122.6 246.2h2.0v2.0h-2.0zM123.1 245.1h2.0v2.0h-2.0zM122.8 247.3h2.0v2.0h-2.0zM123.4 250.0h2.0v2.0h-2.0zM124.1 250.9h2.0v2.0h-2.0zM124.6 253.5h2.0v2.0h-2.0zM125.3 254.6h2.0v2.0h-2.0zM125.6 256.0h2.0v2.0h-2.0zM126.1 259.6h2.0v2.0h-2.0zM125.8 259.7h2.0v2.0h-2.0zM126.5 261.0h2.0v2.0h-2.0zM127.3 262.5h2.0v2.0h-2.0zM127.6 264.7h2.0v2.0h-2.0zM127.6 264.0h2.0v2.0h-2.0zM128.1 265.0h2.0v2.0h-2.0zM128.9 267.8h2.0v2.0h-2.0zM128.7 268.6h2.0v2.0h-2.0zM129.7 270.5h2.0v2.0h-2.0zM129.8 271.7h2.0v2.0h-2.0zM130.4 272.7h2.0v2.0h-2.0zM130.5 274.6h2.0v2.0h-2.0zM131.5 275.1h2.0v2.0h-2.0zM131.7 278.6h2.0v2.0h-2.0zM131.8 277.4h2.0v2.0h-2.0zM132.1 278.3h2.0v2.0h-2.0zM133.3 279.8h2.0v2.0h-2.0zM132.6 280.6h2.0v2.0h-2.0zM133.5 282.8h2.0v2.0h-2.0zM134.5 283.6h2.0v2.0h-2.0zM134.9 284.5h2.0v2.0h-2.0zM134.7 287.0h2.0v2.0h-2.0zM135.5 287.2h2.0v2.0h-2.0zM135.6 286.8h2.0v2.0h-2.0zM136.4 288.9h2.0v2.0h-2.0zM136.8 289.8h2.0v2.0h-2.0zM137.0 290.0h2.0v2.0h-2.0zM137.4 288.5h2.0v2.0h-2.0zM137.7 290.6h2.0v2.0h-2.0zM138.7 290.8h2.0v2.0h-2.0zM138.4 291.0h2.0v2.0h-2.0zM139.5 291.5h2.0v2.0h-2.0zM139.5 292.8h2.0v2.0h-2.0zM139.8 293.1h2.0v2.0h-2.0zM140.0 293.4h2.0v2.0h-2.0zM140.8 292.6h2.0v2.0h-2.0zM140.9 294.9h2.0v2.0h-2.0zM141.3 294.0h2.0v2.0h-2.0zM142.0 293.6h2.0v2.0h-2.0zM142.1 293.6h2.0v2.0h-2.0zM142.8 294.5h2.0v2.0h-2.0zM143.2 294.5h2.0v2.0h-2.0zM143.7 294.9h2.0v2.0h-2.0zM143.9 293.3h2.0v2.0h-2.0zM144.6 295.9h2.0v2.0h-2.0zM145.2 295.5h2.0v2.0h-2.0zM145.8 294.2h2.0v2.0h-2.0zM145.4 294.9h2.0v2.0h-2.0zM146.4 293.9h2.0v2.0h-2.0zM146.7 294.2h2.0v2.0h-2.0zM147.1 295.4h2.0v2.0h-2.0zM147.7 296.5h2.0v2.0h-2.0zM147.7 295.7h2.0v2.0h-2.0zM148.1 295.0h2.0v2.0h-2.0zM148.6 294.7h2.0v2.0h-2.0zM149.4 293.6h2.0v2.0h-2.0zM149.6 294.9h2.0v2.0h-2.0zM149.8 295.4h2.0v2.0h-2.0zM150.2 296.9h2.0v2.0h-2.0zM150.7 296.1h2.0v2.0h-2.0zM150.7 295.4h2.0v2.0h-2.0zM151.5 296.4h2.0v2.0h-2.0zM152.3 295.8h2.0v2.0h-2.0zM152.4 293.6h2.0v2.0h-2.0zM152.9 295.0h2.0v2.0h-2.0zM153.7 295.3h2.0v2.0h-2.0zM153.9 295.4h2.0v2.0h-2.0z"/>
<path fill="#ff6a22" d="M54.3 291.4h2.0v2.0h-2.0zM54.8 290.5h2.0v2.0h-2.0zM55.0 290.2h2.0v2.0h-2.0zM56.1 290.8h2.0v2.0h-2.0zM56.2 291.5h2.0v2.0h-2.0zM56.7 289.9h2.0v2.0h-2.0zM56.9 291.5h2.0v2.0h-2.0zM57.2 290.6h2.0v2.0h-2.0zM57.8 291.1h2.0v2.0h-2.0zM58.6 291.6h2.0v2.0h-2.0zM58.6 291.1h2.0v2.0h-2.0zM59.4 290.5h2.0v2.0h-2.0zM60.0 290.8h2.0v2.0h-2.0zM60.1 289.0h2.0v2.0h-2.0zM60.0 291.3h2.0v2.0h-2.0zM60.8 290.4h2.0v2.0h-2.0zM61.5 289.7h2.0v2.0h-2.0zM61.6 289.7h2.0v2.0h-2.0zM61.5 289.7h2.0v2.0h-2.0zM62.0 289.1h2.0v2.0h-2.0zM62.6 291.3h2.0v2.0h-2.0zM62.9 290.1h2.0v2.0h-2.0zM63.7 289.8h2.0v2.0h-2.0zM64.2 289.1h2.0v2.0h-2.0zM64.5 289.8h2.0v2.0h-2.0zM64.8 288.4h2.0v2.0h-2.0zM64.8 289.3h2.0v2.0h-2.0zM66.2 288.9h2.0v2.0h-2.0zM66.1 288.4h2.0v2.0h-2.0zM66.9 287.9h2.0v2.0h-2.0zM66.7 287.6h2.0v2.0h-2.0zM67.6 289.2h2.0v2.0h-2.0zM67.9 287.7h2.0v2.0h-2.0zM68.4 288.9h2.0v2.0h-2.0zM69.0 286.1h2.0v2.0h-2.0zM69.2 285.1h2.0v2.0h-2.0zM69.9 286.4h2.0v2.0h-2.0zM69.3 285.2h2.0v2.0h-2.0zM70.4 286.4h2.0v2.0h-2.0zM71.2 285.0h2.0v2.0h-2.0zM71.5 282.7h2.0v2.0h-2.0zM71.5 283.3h2.0v2.0h-2.0zM71.9 281.7h2.0v2.0h-2.0zM72.5 280.9h2.0v2.0h-2.0zM72.9 279.9h2.0v2.0h-2.0zM72.5 280.0h2.0v2.0h-2.0zM73.3 279.5h2.0v2.0h-2.0zM73.7 277.0h2.0v2.0h-2.0zM74.6 277.0h2.0v2.0h-2.0zM75.2 275.1h2.0v2.0h-2.0zM75.7 274.3h2.0v2.0h-2.0zM76.0 274.1h2.0v2.0h-2.0zM76.1 273.9h2.0v2.0h-2.0zM76.7 271.7h2.0v2.0h-2.0zM76.8 271.3h2.0v2.0h-2.0zM76.8 271.0h2.0v2.0h-2.0zM78.2 270.5h2.0v2.0h-2.0zM77.8 269.4h2.0v2.0h-2.0zM78.6 268.1h2.0v2.0h-2.0zM78.9 265.7h2.0v2.0h-2.0zM79.5 265.1h2.0v2.0h-2.0zM80.0 263.9h2.0v2.0h-2.0zM80.1 260.5h2.0v2.0h-2.0zM80.6 260.3h2.0v2.0h-2.0zM80.8 259.6h2.0v2.0h-2.0zM81.6 258.2h2.0v2.0h-2.0zM82.6 256.3h2.0v2.0h-2.0zM82.7 257.1h2.0v2.0h-2.0zM82.7 256.1h2.0v2.0h-2.0zM83.4 256.3h2.0v2.0h-2.0zM83.6 252.2h2.0v2.0h-2.0zM83.9 253.1h2.0v2.0h-2.0zM84.2 253.2h2.0v2.0h-2.0zM84.4 252.3h2.0v2.0h-2.0zM85.6 248.4h2.0v2.0h-2.0zM85.6 252.3h2.0v2.0h-2.0zM86.2 251.8h2.0v2.0h-2.0zM87.1 250.5h2.0v2.0h-2.0zM86.5 251.3h2.0v2.0h-2.0zM87.5 250.2h2.0v2.0h-2.0zM88.0 251.8h2.0v2.0h-2.0zM88.0 250.9h2.0v2.0h-2.0zM88.3 250.8h2.0v2.0h-2.0zM89.5 251.2h2.0v2.0h-2.0zM89.6 248.9h2.0v2.0h-2.0zM90.0 250.4h2.0v2.0h-2.0zM90.4 252.4h2.0v2.0h-2.0zM90.6 251.7h2.0v2.0h-2.0zM91.0 248.3h2.0v2.0h-2.0zM91.6 250.5h2.0v2.0h-2.0zM91.9 249.1h2.0v2.0h-2.0zM92.5 249.9h2.0v2.0h-2.0zM92.7 250.9h2.0v2.0h-2.0zM93.5 252.1h2.0v2.0h-2.0zM94.0 251.9h2.0v2.0h-2.0zM93.9 248.1h2.0v2.0h-2.0zM94.2 252.0h2.0v2.0h-2.0zM95.3 251.4h2.0v2.0h-2.0zM95.1 251.8h2.0v2.0h-2.0zM95.8 253.0h2.0v2.0h-2.0zM96.5 250.0h2.0v2.0h-2.0zM96.6 250.2h2.0v2.0h-2.0zM97.7 250.7h2.0v2.0h-2.0zM97.6 248.3h2.0v2.0h-2.0zM97.8 251.1h2.0v2.0h-2.0zM98.2 250.7h2.0v2.0h-2.0zM98.5 249.9h2.0v2.0h-2.0zM98.8 247.8h2.0v2.0h-2.0zM99.7 249.6h2.0v2.0h-2.0zM100.3 249.2h2.0v2.0h-2.0zM100.4 250.1h2.0v2.0h-2.0zM101.1 248.4h2.0v2.0h-2.0zM101.4 250.6h2.0v2.0h-2.0zM101.7 252.4h2.0v2.0h-2.0zM102.3 253.6h2.0v2.0h-2.0zM102.7 251.5h2.0v2.0h-2.0zM102.7 249.9h2.0v2.0h-2.0zM103.7 249.3h2.0v2.0h-2.0zM104.2 251.8h2.0v2.0h-2.0zM103.9 250.0h2.0v2.0h-2.0zM104.6 250.9h2.0v2.0h-2.0zM104.7 249.5h2.0v2.0h-2.0zM105.5 251.1h2.0v2.0h-2.0zM106.3 250.2h2.0v2.0h-2.0zM106.4 249.3h2.0v2.0h-2.0zM106.4 251.9h2.0v2.0h-2.0zM107.0 252.1h2.0v2.0h-2.0zM107.9 249.6h2.0v2.0h-2.0zM107.7 249.1h2.0v2.0h-2.0zM108.8 250.6h2.0v2.0h-2.0zM108.8 250.3h2.0v2.0h-2.0zM108.8 252.5h2.0v2.0h-2.0zM109.5 251.2h2.0v2.0h-2.0zM109.9 249.8h2.0v2.0h-2.0zM111.0 253.0h2.0v2.0h-2.0zM110.4 250.0h2.0v2.0h-2.0zM111.4 248.1h2.0v2.0h-2.0zM111.6 250.8h2.0v2.0h-2.0zM111.5 249.8h2.0v2.0h-2.0zM112.5 249.1h2.0v2.0h-2.0zM112.7 249.5h2.0v2.0h-2.0zM113.7 251.4h2.0v2.0h-2.0zM114.0 255.4h2.0v2.0h-2.0zM113.7 248.8h2.0v2.0h-2.0zM114.4 250.9h2.0v2.0h-2.0zM114.6 251.3h2.0v2.0h-2.0zM115.4 252.5h2.0v2.0h-2.0zM115.9 250.9h2.0v2.0h-2.0zM116.1 249.4h2.0v2.0h-2.0zM117.0 247.7h2.0v2.0h-2.0zM117.0 253.4h2.0v2.0h-2.0zM117.6 251.9h2.0v2.0h-2.0zM118.3 253.2h2.0v2.0h-2.0zM118.8 252.7h2.0v2.0h-2.0zM119.2 253.9h2.0v2.0h-2.0zM119.3 252.8h2.0v2.0h-2.0zM119.6 253.5h2.0v2.0h-2.0zM119.9 255.4h2.0v2.0h-2.0zM120.3 256.1h2.0v2.0h-2.0zM121.0 256.8h2.0v2.0h-2.0zM121.1 257.2h2.0v2.0h-2.0zM121.9 259.7h2.0v2.0h-2.0zM121.9 260.1h2.0v2.0h-2.0zM122.4 260.4h2.0v2.0h-2.0zM122.9 261.8h2.0v2.0h-2.0zM123.5 264.5h2.0v2.0h-2.0zM123.9 264.6h2.0v2.0h-2.0zM124.0 265.8h2.0v2.0h-2.0zM124.6 266.1h2.0v2.0h-2.0zM125.1 267.6h2.0v2.0h-2.0zM125.6 268.8h2.0v2.0h-2.0zM125.6 269.9h2.0v2.0h-2.0zM126.5 271.6h2.0v2.0h-2.0zM126.5 272.4h2.0v2.0h-2.0zM127.3 273.2h2.0v2.0h-2.0zM127.4 274.7h2.0v2.0h-2.0zM127.7 275.4h2.0v2.0h-2.0zM128.1 275.5h2.0v2.0h-2.0zM128.8 277.0h2.0v2.0h-2.0zM129.2 277.8h2.0v2.0h-2.0zM129.4 278.6h2.0v2.0h-2.0zM130.2 281.9h2.0v2.0h-2.0zM130.3 280.0h2.0v2.0h-2.0zM131.0 282.2h2.0v2.0h-2.0zM131.2 283.7h2.0v2.0h-2.0zM131.8 284.3h2.0v2.0h-2.0zM132.4 284.9h2.0v2.0h-2.0zM132.3 286.5h2.0v2.0h-2.0zM132.9 287.7h2.0v2.0h-2.0zM133.2 287.5h2.0v2.0h-2.0zM133.5 287.7h2.0v2.0h-2.0zM134.6 289.9h2.0v2.0h-2.0zM134.3 289.6h2.0v2.0h-2.0zM135.0 289.3h2.0v2.0h-2.0zM135.5 291.2h2.0v2.0h-2.0zM136.0 290.2h2.0v2.0h-2.0zM136.6 291.5h2.0v2.0h-2.0zM136.6 292.5h2.0v2.0h-2.0zM136.8 291.9h2.0v2.0h-2.0zM137.6 292.1h2.0v2.0h-2.0zM138.0 292.1h2.0v2.0h-2.0zM138.0 291.6h2.0v2.0h-2.0zM138.6 293.5h2.0v2.0h-2.0zM139.3 293.4h2.0v2.0h-2.0zM139.8 294.4h2.0v2.0h-2.0zM140.0 293.1h2.0v2.0h-2.0zM140.5 295.0h2.0v2.0h-2.0zM140.6 293.9h2.0v2.0h-2.0zM141.1 294.8h2.0v2.0h-2.0zM141.7 295.4h2.0v2.0h-2.0zM142.1 293.7h2.0v2.0h-2.0zM142.5 295.2h2.0v2.0h-2.0zM143.3 294.8h2.0v2.0h-2.0zM143.4 295.2h2.0v2.0h-2.0zM144.0 295.3h2.0v2.0h-2.0zM144.3 295.7h2.0v2.0h-2.0zM144.7 295.4h2.0v2.0h-2.0zM144.9 296.2h2.0v2.0h-2.0zM145.6 294.4h2.0v2.0h-2.0zM146.4 296.0h2.0v2.0h-2.0zM146.2 294.9h2.0v2.0h-2.0zM146.4 295.6h2.0v2.0h-2.0zM147.4 294.2h2.0v2.0h-2.0zM147.2 294.3h2.0v2.0h-2.0zM147.4 296.8h2.0v2.0h-2.0zM148.2 296.5h2.0v2.0h-2.0zM148.3 296.3h2.0v2.0h-2.0zM149.0 295.1h2.0v2.0h-2.0zM149.8 295.2h2.0v2.0h-2.0zM149.8 296.1h2.0v2.0h-2.0zM150.0 294.6h2.0v2.0h-2.0zM150.5 295.8h2.0v2.0h-2.0zM151.1 295.7h2.0v2.0h-2.0zM151.5 295.4h2.0v2.0h-2.0zM151.8 294.7h2.0v2.0h-2.0zM152.6 295.6h2.0v2.0h-2.0zM152.7 296.2h2.0v2.0h-2.0zM153.2 295.6h2.0v2.0h-2.0zM153.5 295.0h2.0v2.0h-2.0z"/>
<path fill="#dd0808" d="M54.6 292.5h2.0v2.0h-2.0zM54.7 291.9h2.0v2.0h-2.0zM55.6 291.5h2.0v2.0h-2.0zM55.8 290.6h2.0v2.0h-2.0zM56.0 290.9h2.0v2.0h-2.0zM56.8 289.8h2.0v2.0h-2.0zM57.2 291.6h2.0v2.0h-2.0zM57.2 291.9h2.0v2.0h-2.0zM58.2 291.3h2.0v2.0h-2.0zM58.2 289.3h2.0v2.0h-2.0zM59.0 291.0h2.0v2.0h-2.0zM59.4 291.0h2.0v2.0h-2.0zM59.7 291.2h2.0v2.0h-2.0zM60.3 291.0h2.0v2.0h-2.0zM60.1 290.3h2.0v2.0h-2.0zM60.1 290.2h2.0v2.0h-2.0zM61.3 290.1h2.0v2.0h-2.0zM61.3 288.4h2.0v2.0h-2.0zM62.3 289.2h2.0v2.0h-2.0zM62.3 289.4h2.0v2.0h-2.0zM62.6 289.8h2.0v2.0h-2.0zM62.9 289.6h2.0v2.0h-2.0zM63.7 290.1h2.0v2.0h-2.0zM63.7 290.3h2.0v2.0h-2.0zM64.6 289.6h2.0v2.0h-2.0zM65.0 289.0h2.0v2.0h-2.0zM65.3 288.2h2.0v2.0h-2.0zM65.5 288.4h2.0v2.0h-2.0zM66.3 288.8h2.0v2.0h-2.0zM66.4 287.8h2.0v2.0h-2.0zM67.0 287.7h2.0v2.0h-2.0zM67.0 289.3h2.0v2.0h-2.0zM67.7 288.2h2.0v2.0h-2.0zM68.3 288.2h2.0v2.0h-2.0zM68.7 288.1h2.0v2.0h-2.0zM69.0 289.1h2.0v2.0h-2.0zM69.6 288.5h2.0v2.0h-2.0zM70.1 288.9h2.0v2.0h-2.0zM70.0 289.6h2.0v2.0h-2.0zM70.8 287.4h2.0v2.0h-2.0zM71.4 286.2h2.0v2.0h-2.0zM71.3 288.1h2.0v2.0h-2.0zM72.0 287.1h2.0v2.0h-2.0zM72.3 286.2h2.0v2.0h-2.0zM72.6 286.9h2.0v2.0h-2.0zM73.0 286.0h2.0v2.0h-2.0zM73.8 285.6h2.0v2.0h-2.0zM73.8 285.1h2.0v2.0h-2.0zM74.7 284.1h2.0v2.0h-2.0zM74.8 284.6h2.0v2.0h-2.0zM75.1 284.6h2.0v2.0h-2.0zM75.4 283.7h2.0v2.0h-2.0zM76.6 282.8h2.0v2.0h-2.0zM76.5 281.0h2.0v2.0h-2.0zM77.0 281.0h2.0v2.0h-2.0zM76.9 280.8h2.0v2.0h-2.0zM77.5 280.4h2.0v2.0h-2.0zM78.2 280.1h2.0v2.0h-2.0zM78.0 281.8h2.0v2.0h-2.0zM79.4 278.2h2.0v2.0h-2.0zM79.2 277.1h2.0v2.0h-2.0zM80.1 277.2h2.0v2.0h-2.0zM79.8 276.3h2.0v2.0h-2.0zM80.6 274.7h2.0v2.0h-2.0zM80.7 274.5h2.0v2.0h-2.0zM81.9 274.6h2.0v2.0h-2.0zM82.1 273.4h2.0v2.0h-2.0zM82.4 271.2h2.0v2.0h-2.0zM82.8 271.7h2.0v2.0h-2.0zM83.3 270.6h2.0v2.0h-2.0zM84.1 270.3h2.0v2.0h-2.0zM84.4 269.4h2.0v2.0h-2.0zM84.4 271.0h2.0v2.0h-2.0zM84.7 268.4h2.0v2.0h-2.0zM85.3 271.1h2.0v2.0h-2.0zM85.8 269.4h2.0v2.0h-2.0zM86.0 266.1h2.0v2.0h-2.0zM86.5 269.9h2.0v2.0h-2.0zM86.9 268.9h2.0v2.0h-2.0zM87.6 266.2h2.0v2.0h-2.0zM87.8 267.3h2.0v2.0h-2.0zM88.2 266.4h2.0v2.0h-2.0zM88.7 265.3h2.0v2.0h-2.0zM89.3 268.0h2.0v2.0h-2.0zM89.0 264.7h2.0v2.0h-2.0zM89.6 267.2h2.0v2.0h-2.0zM90.2 270.3h2.0v2.0h-2.0zM90.3 266.6h2.0v2.0h-2.0zM91.6 268.5h2.0v2.0h-2.0zM91.5 266.0h2.0v2.0h-2.0zM92.0 266.9h2.0v2.0h-2.0zM92.2 268.7h2.0v2.0h-2.0zM92.7 266.0h2.0v2.0h-2.0zM93.1 268.1h2.0v2.0h-2.0zM93.6 270.1h2.0v2.0h-2.0zM93.8 265.1h2.0v2.0h-2.0zM94.8 268.0h2.0v2.0h-2.0zM94.9 267.2h2.0v2.0h-2.0zM95.4 267.0h2.0v2.0h-2.0zM95.5 268.0h2.0v2.0h-2.0zM95.7 268.6h2.0v2.0h-2.0zM96.5 267.7h2.0v2.0h-2.0zM96.6 268.8h2.0v2.0h-2.0zM96.9 268.7h2.0v2.0h-2.0zM97.5 267.0h2.0v2.0h-2.0zM98.0 266.6h2.0v2.0h-2.0zM98.8 266.9h2.0v2.0h-2.0zM99.0 266.6h2.0v2.0h-2.0zM99.6 270.8h2.0v2.0h-2.0zM99.5 268.9h2.0v2.0h-2.0zM100.4 269.6h2.0v2.0h-2.0zM100.8 267.0h2.0v2.0h-2.0zM101.4 266.9h2.0v2.0h-2.0zM101.6 268.4h2.0v2.0h-2.0zM101.9 268.3h2.0v2.0h-2.0zM102.5 268.1h2.0v2.0h-2.0zM102.9 268.6h2.0v2.0h-2.0zM103.2 266.6h2.0v2.0h-2.0zM103.4 267.1h2.0v2.0h-2.0zM104.5 269.1h2.0v2.0h-2.0zM104.8 268.1h2.0v2.0h-2.0zM104.3 270.8h2.0v2.0h-2.0zM105.3 268.0h2.0v2.0h-2.0zM105.9 271.3h2.0v2.0h-2.0zM106.0 267.0h2.0v2.0h-2.0zM106.7 267.0h2.0v2.0h-2.0zM106.9 267.8h2.0v2.0h-2.0zM107.3 266.9h2.0v2.0h-2.0zM107.5 268.7h2.0v2.0h-2.0zM108.6 267.8h2.0v2.0h-2.0zM108.5 268.6h2.0v2.0h-2.0zM109.0 269.9h2.0v2.0h-2.0zM109.5 266.7h2.0v2.0h-2.0zM110.2 267.0h2.0v2.0h-2.0zM110.2 269.2h2.0v2.0h-2.0zM110.7 267.0h2.0v2.0h-2.0zM111.2 269.5h2.0v2.0h-2.0zM111.9 267.3h2.0v2.0h-2.0zM112.1 269.2h2.0v2.0h-2.0zM111.7 267.2h2.0v2.0h-2.0zM112.8 266.8h2.0v2.0h-2.0zM113.7 270.3h2.0v2.0h-2.0zM113.7 267.3h2.0v2.0h-2.0zM114.4 264.4h2.0v2.0h-2.0zM114.5 269.4h2.0v2.0h-2.0zM115.2 265.4h2.0v2.0h-2.0zM115.3 265.6h2.0v2.0h-2.0zM115.6 266.2h2.0v2.0h-2.0zM116.3 268.4h2.0v2.0h-2.0zM116.7 268.5h2.0v2.0h-2.0zM117.1 268.7h2.0v2.0h-2.0zM117.6 265.6h2.0v2.0h-2.0zM117.5 267.4h2.0v2.0h-2.0zM118.5 270.3h2.0v2.0h-2.0zM118.6 272.2h2.0v2.0h-2.0zM119.4 270.7h2.0v2.0h-2.0zM119.4 272.0h2.0v2.0h-2.0zM120.0 271.2h2.0v2.0h-2.0zM120.6 273.0h2.0v2.0h-2.0zM121.1 271.9h2.0v2.0h-2.0zM121.3 272.7h2.0v2.0h-2.0zM121.5 274.0h2.0v2.0h-2.0zM122.1 275.5h2.0v2.0h-2.0zM122.7 276.2h2.0v2.0h-2.0zM122.7 275.8h2.0v2.0h-2.0zM122.9 276.9h2.0v2.0h-2.0zM123.5 278.7h2.0v2.0h-2.0zM123.9 279.8h2.0v2.0h-2.0zM124.3 279.5h2.0v2.0h-2.0zM124.6 280.6h2.0v2.0h-2.0zM125.5 282.1h2.0v2.0h-2.0zM126.1 281.6h2.0v2.0h-2.0zM126.1 282.7h2.0v2.0h-2.0zM127.0 281.9h2.0v2.0h-2.0zM127.2 282.3h2.0v2.0h-2.0zM127.6 284.7h2.0v2.0h-2.0zM127.3 282.9h2.0v2.0h-2.0zM128.8 284.7h2.0v2.0h-2.0zM128.7 286.4h2.0v2.0h-2.0zM129.2 284.8h2.0v2.0h-2.0zM129.7 286.8h2.0v2.0h-2.0zM130.1 287.7h2.0v2.0h-2.0zM130.6 288.2h2.0v2.0h-2.0zM130.7 289.3h2.0v2.0h-2.0zM130.6 289.2h2.0v2.0h-2.0zM131.5 289.2h2.0v2.0h-2.0zM131.7 290.8h2.0v2.0h-2.0zM132.2 290.9h2.0v2.0h-2.0zM133.3 290.8h2.0v2.0h-2.0zM133.1 292.1h2.0v2.0h-2.0zM133.6 292.2h2.0v2.0h-2.0zM133.6 292.0h2.0v2.0h-2.0zM134.5 292.3h2.0v2.0h-2.0zM134.5 293.4h2.0v2.0h-2.0zM135.6 292.6h2.0v2.0h-2.0zM135.9 293.3h2.0v2.0h-2.0zM136.2 293.1h2.0v2.0h-2.0zM136.3 293.3h2.0v2.0h-2.0zM136.4 293.4h2.0v2.0h-2.0zM137.8 293.3h2.0v2.0h-2.0zM137.6 293.4h2.0v2.0h-2.0zM138.4 294.6h2.0v2.0h-2.0zM138.8 295.2h2.0v2.0h-2.0zM139.5 294.7h2.0v2.0h-2.0zM139.4 295.1h2.0v2.0h-2.0zM140.2 294.4h2.0v2.0h-2.0zM140.0 295.1h2.0v2.0h-2.0zM140.4 296.0h2.0v2.0h-2.0zM140.9 295.0h2.0v2.0h-2.0zM141.3 295.2h2.0v2.0h-2.0zM142.2 295.5h2.0v2.0h-2.0zM142.7 296.1h2.0v2.0h-2.0zM142.7 295.3h2.0v2.0h-2.0zM143.3 295.6h2.0v2.0h-2.0zM143.5 296.0h2.0v2.0h-2.0zM143.6 295.2h2.0v2.0h-2.0zM144.8 293.6h2.0v2.0h-2.0zM145.5 294.5h2.0v2.0h-2.0zM145.4 294.9h2.0v2.0h-2.0zM145.9 295.6h2.0v2.0h-2.0zM146.0 294.4h2.0v2.0h-2.0zM146.5 294.2h2.0v2.0h-2.0zM147.4 296.3h2.0v2.0h-2.0zM147.6 295.9h2.0v2.0h-2.0zM148.1 296.5h2.0v2.0h-2.0zM148.6 295.9h2.0v2.0h-2.0zM148.5 296.7h2.0v2.0h-2.0zM149.2 296.2h2.0v2.0h-2.0zM149.5 296.2h2.0v2.0h-2.0zM149.8 295.5h2.0v2.0h-2.0zM150.4 295.4h2.0v2.0h-2.0zM151.0 296.7h2.0v2.0h-2.0zM151.0 296.3h2.0v2.0h-2.0zM151.4 294.3h2.0v2.0h-2.0zM152.2 295.6h2.0v2.0h-2.0zM152.4 296.0h2.0v2.0h-2.0zM152.8 295.8h2.0v2.0h-2.0zM153.6 296.4h2.0v2.0h-2.0zM153.9 295.5h2.0v2.0h-2.0z"/>
<rect x="221.3" y="176.6" width="117.59999999999997" height="124.29999999999998" fill="none" stroke="#000" stroke-width="1.55"/>
<path d="M231.10,176.6v2.2M231.10,300.9v-2.2M240.90,176.6v3.2M240.90,300.9v-3.2M250.70,176.6v2.2M250.70,300.9v-2.2M260.50,176.6v3.2M260.50,300.9v-3.2M270.30,176.6v2.2M270.30,300.9v-2.2M280.10,176.6v3.2M280.10,300.9v-3.2M289.90,176.6v2.2M289.90,300.9v-2.2M299.70,176.6v3.2M299.70,300.9v-3.2M309.50,176.6v2.2M309.50,300.9v-2.2M319.30,176.6v3.2M319.30,300.9v-3.2M329.10,176.6v2.2M329.10,300.9v-2.2M221.3,284.96h2.4M338.9,284.96h-2.4M221.3,269.54h3.6M338.9,269.54h-3.6M221.3,254.12h2.4M338.9,254.12h-2.4M221.3,238.70h3.6M338.9,238.70h-3.6M221.3,223.28h2.4M338.9,223.28h-2.4M221.3,207.86h3.6M338.9,207.86h-3.6M221.3,192.44h2.4M338.9,192.44h-2.4" stroke="#000" stroke-width="1.3" fill="none"/>
<circle cx="238.9" cy="203.1" r="0.95" fill="#0a0aa6"/>
<circle cx="238.9" cy="217.0" r="0.95" fill="#9000f0"/>
<circle cx="238.9" cy="231.5" r="0.95" fill="#12b09e"/>
<circle cx="293.2" cy="260.1" r="0.95" fill="#c8c400"/>
<circle cx="293.2" cy="274.2" r="0.95" fill="#ff6a22"/>
<circle cx="293.2" cy="287.9" r="0.95" fill="#dd0808"/>
<path fill="#0a0aa6" d="M234.9 273.5h1.9v1.9h-1.9zM235.3 273.1h1.9v1.9h-1.9zM235.4 272.7h1.9v1.9h-1.9zM235.1 272.7h1.9v1.9h-1.9zM236.0 272.6h1.9v1.9h-1.9zM235.5 272.1h1.9v1.9h-1.9zM235.9 271.4h1.9v1.9h-1.9zM235.3 270.8h1.9v1.9h-1.9zM235.8 270.6h1.9v1.9h-1.9zM235.9 271.1h1.9v1.9h-1.9zM236.0 269.9h1.9v1.9h-1.9zM236.2 270.3h1.9v1.9h-1.9zM236.8 269.8h1.9v1.9h-1.9zM236.4 269.0h1.9v1.9h-1.9zM236.3 268.6h1.9v1.9h-1.9zM236.9 268.8h1.9v1.9h-1.9zM236.9 267.9h1.9v1.9h-1.9zM236.9 267.7h1.9v1.9h-1.9zM237.4 267.7h1.9v1.9h-1.9zM237.1 267.4h1.9v1.9h-1.9zM237.3 267.1h1.9v1.9h-1.9zM237.3 266.9h1.9v1.9h-1.9zM237.5 266.8h1.9v1.9h-1.9zM237.8 266.5h1.9v1.9h-1.9zM237.6 265.9h1.9v1.9h-1.9zM237.3 265.3h1.9v1.9h-1.9zM237.9 264.4h1.9v1.9h-1.9zM238.4 265.4h1.9v1.9h-1.9zM238.3 265.7h1.9v1.9h-1.9zM237.9 264.5h1.9v1.9h-1.9zM238.5 264.0h1.9v1.9h-1.9zM238.9 264.4h1.9v1.9h-1.9zM238.8 263.3h1.9v1.9h-1.9zM238.9 263.5h1.9v1.9h-1.9zM239.0 262.6h1.9v1.9h-1.9zM238.8 263.3h1.9v1.9h-1.9zM239.2 262.6h1.9v1.9h-1.9zM239.3 261.3h1.9v1.9h-1.9zM239.8 261.5h1.9v1.9h-1.9zM239.2 262.0h1.9v1.9h-1.9zM240.0 262.0h1.9v1.9h-1.9zM239.6 261.0h1.9v1.9h-1.9zM240.0 261.1h1.9v1.9h-1.9zM239.5 261.3h1.9v1.9h-1.9zM239.6 260.6h1.9v1.9h-1.9zM240.3 260.5h1.9v1.9h-1.9zM240.4 260.3h1.9v1.9h-1.9zM240.5 259.3h1.9v1.9h-1.9zM240.4 260.0h1.9v1.9h-1.9zM240.2 259.5h1.9v1.9h-1.9zM240.7 258.2h1.9v1.9h-1.9zM240.7 258.8h1.9v1.9h-1.9zM240.3 258.8h1.9v1.9h-1.9zM241.5 258.0h1.9v1.9h-1.9zM241.2 257.9h1.9v1.9h-1.9zM241.6 257.2h1.9v1.9h-1.9zM241.4 257.5h1.9v1.9h-1.9zM241.2 257.2h1.9v1.9h-1.9zM241.7 257.2h1.9v1.9h-1.9zM241.6 256.6h1.9v1.9h-1.9zM242.1 256.3h1.9v1.9h-1.9zM241.8 256.5h1.9v1.9h-1.9zM242.2 255.9h1.9v1.9h-1.9zM242.3 255.8h1.9v1.9h-1.9zM242.5 255.0h1.9v1.9h-1.9zM242.8 255.0h1.9v1.9h-1.9zM242.7 254.9h1.9v1.9h-1.9zM242.5 254.6h1.9v1.9h-1.9zM243.0 253.7h1.9v1.9h-1.9zM243.0 254.0h1.9v1.9h-1.9zM243.3 253.7h1.9v1.9h-1.9zM243.3 253.9h1.9v1.9h-1.9zM243.1 253.1h1.9v1.9h-1.9zM243.4 253.4h1.9v1.9h-1.9zM244.0 253.0h1.9v1.9h-1.9zM243.7 252.5h1.9v1.9h-1.9zM243.9 253.2h1.9v1.9h-1.9zM244.0 252.1h1.9v1.9h-1.9zM244.5 252.1h1.9v1.9h-1.9zM244.2 251.6h1.9v1.9h-1.9zM244.6 251.6h1.9v1.9h-1.9zM244.0 250.6h1.9v1.9h-1.9zM244.7 251.1h1.9v1.9h-1.9zM244.8 251.3h1.9v1.9h-1.9zM245.2 251.5h1.9v1.9h-1.9zM244.7 250.6h1.9v1.9h-1.9zM244.8 250.9h1.9v1.9h-1.9zM244.8 250.7h1.9v1.9h-1.9zM244.8 250.7h1.9v1.9h-1.9zM245.7 249.4h1.9v1.9h-1.9zM245.5 249.7h1.9v1.9h-1.9zM245.2 250.1h1.9v1.9h-1.9zM245.5 250.0h1.9v1.9h-1.9zM246.0 250.1h1.9v1.9h-1.9zM245.9 249.6h1.9v1.9h-1.9zM246.1 248.9h1.9v1.9h-1.9zM246.5 248.9h1.9v1.9h-1.9zM246.2 248.8h1.9v1.9h-1.9zM246.1 249.0h1.9v1.9h-1.9zM247.0 247.8h1.9v1.9h-1.9zM246.7 248.1h1.9v1.9h-1.9zM246.6 248.4h1.9v1.9h-1.9zM247.4 248.0h1.9v1.9h-1.9zM247.0 248.4h1.9v1.9h-1.9zM247.1 247.3h1.9v1.9h-1.9zM247.1 247.7h1.9v1.9h-1.9zM247.4 247.3h1.9v1.9h-1.9zM247.4 247.2h1.9v1.9h-1.9zM247.6 247.6h1.9v1.9h-1.9zM247.7 246.3h1.9v1.9h-1.9zM248.3 246.7h1.9v1.9h-1.9zM248.0 246.6h1.9v1.9h-1.9zM248.1 245.5h1.9v1.9h-1.9zM248.2 246.7h1.9v1.9h-1.9zM248.6 245.7h1.9v1.9h-1.9zM248.4 246.1h1.9v1.9h-1.9zM249.1 245.9h1.9v1.9h-1.9zM248.7 245.4h1.9v1.9h-1.9zM248.7 245.3h1.9v1.9h-1.9zM248.9 245.0h1.9v1.9h-1.9zM248.9 244.9h1.9v1.9h-1.9zM249.4 245.5h1.9v1.9h-1.9zM249.2 245.0h1.9v1.9h-1.9zM249.6 245.1h1.9v1.9h-1.9zM249.4 243.8h1.9v1.9h-1.9zM249.2 245.1h1.9v1.9h-1.9zM249.7 244.4h1.9v1.9h-1.9zM249.4 244.9h1.9v1.9h-1.9zM249.7 244.6h1.9v1.9h-1.9zM250.1 244.2h1.9v1.9h-1.9zM249.9 244.5h1.9v1.9h-1.9zM250.0 244.0h1.9v1.9h-1.9zM250.4 244.6h1.9v1.9h-1.9zM250.5 244.2h1.9v1.9h-1.9zM250.8 243.0h1.9v1.9h-1.9zM250.6 243.8h1.9v1.9h-1.9zM250.7 244.2h1.9v1.9h-1.9zM250.9 244.0h1.9v1.9h-1.9zM251.4 243.6h1.9v1.9h-1.9zM251.4 244.2h1.9v1.9h-1.9zM251.6 243.5h1.9v1.9h-1.9zM251.1 243.1h1.9v1.9h-1.9zM251.6 243.5h1.9v1.9h-1.9zM251.8 243.2h1.9v1.9h-1.9zM251.6 243.4h1.9v1.9h-1.9zM252.2 243.0h1.9v1.9h-1.9zM252.1 243.3h1.9v1.9h-1.9zM252.1 243.1h1.9v1.9h-1.9zM252.6 242.5h1.9v1.9h-1.9zM252.4 242.4h1.9v1.9h-1.9zM252.3 241.9h1.9v1.9h-1.9zM252.8 243.5h1.9v1.9h-1.9zM252.7 243.1h1.9v1.9h-1.9zM253.2 242.2h1.9v1.9h-1.9zM253.3 242.1h1.9v1.9h-1.9zM252.6 242.6h1.9v1.9h-1.9zM253.2 242.0h1.9v1.9h-1.9zM253.6 242.4h1.9v1.9h-1.9zM253.5 242.1h1.9v1.9h-1.9zM253.7 241.5h1.9v1.9h-1.9zM254.0 241.6h1.9v1.9h-1.9zM254.0 242.1h1.9v1.9h-1.9zM254.3 240.9h1.9v1.9h-1.9zM254.0 241.4h1.9v1.9h-1.9zM254.1 241.4h1.9v1.9h-1.9zM254.5 241.4h1.9v1.9h-1.9zM255.2 241.4h1.9v1.9h-1.9zM254.8 240.9h1.9v1.9h-1.9zM254.8 241.0h1.9v1.9h-1.9zM255.2 240.6h1.9v1.9h-1.9zM255.1 240.6h1.9v1.9h-1.9zM254.9 241.1h1.9v1.9h-1.9zM255.4 240.9h1.9v1.9h-1.9zM256.0 241.2h1.9v1.9h-1.9zM255.7 240.7h1.9v1.9h-1.9zM255.7 240.5h1.9v1.9h-1.9zM255.6 240.7h1.9v1.9h-1.9zM256.2 240.7h1.9v1.9h-1.9zM256.7 240.1h1.9v1.9h-1.9zM256.5 240.2h1.9v1.9h-1.9zM256.9 240.1h1.9v1.9h-1.9zM257.1 240.8h1.9v1.9h-1.9zM257.3 240.7h1.9v1.9h-1.9zM257.0 240.0h1.9v1.9h-1.9zM256.7 240.0h1.9v1.9h-1.9zM256.8 239.6h1.9v1.9h-1.9zM257.7 240.1h1.9v1.9h-1.9zM257.2 240.4h1.9v1.9h-1.9zM257.3 239.5h1.9v1.9h-1.9zM258.1 240.2h1.9v1.9h-1.9zM257.8 239.9h1.9v1.9h-1.9zM257.6 239.9h1.9v1.9h-1.9zM258.0 239.9h1.9v1.9h-1.9zM258.1 239.5h1.9v1.9h-1.9zM258.5 239.7h1.9v1.9h-1.9zM258.4 239.2h1.9v1.9h-1.9zM258.7 239.9h1.9v1.9h-1.9zM258.9 239.1h1.9v1.9h-1.9zM258.9 239.5h1.9v1.9h-1.9zM259.4 239.4h1.9v1.9h-1.9zM259.0 239.8h1.9v1.9h-1.9zM258.9 239.2h1.9v1.9h-1.9zM259.1 239.6h1.9v1.9h-1.9zM259.3 239.5h1.9v1.9h-1.9zM259.4 239.6h1.9v1.9h-1.9zM259.9 239.1h1.9v1.9h-1.9zM260.0 239.3h1.9v1.9h-1.9zM260.0 239.0h1.9v1.9h-1.9zM260.6 239.2h1.9v1.9h-1.9zM260.1 239.2h1.9v1.9h-1.9zM260.4 238.8h1.9v1.9h-1.9zM260.8 238.7h1.9v1.9h-1.9zM260.8 238.6h1.9v1.9h-1.9zM260.4 239.3h1.9v1.9h-1.9zM260.5 239.0h1.9v1.9h-1.9zM261.1 239.3h1.9v1.9h-1.9zM261.6 239.2h1.9v1.9h-1.9zM261.4 239.2h1.9v1.9h-1.9zM261.6 238.6h1.9v1.9h-1.9zM261.6 238.7h1.9v1.9h-1.9zM262.3 239.1h1.9v1.9h-1.9zM261.6 239.2h1.9v1.9h-1.9zM261.6 238.9h1.9v1.9h-1.9zM261.7 238.7h1.9v1.9h-1.9zM262.2 238.5h1.9v1.9h-1.9zM262.4 238.9h1.9v1.9h-1.9zM262.8 238.9h1.9v1.9h-1.9zM262.6 238.8h1.9v1.9h-1.9zM262.4 238.5h1.9v1.9h-1.9zM263.1 238.4h1.9v1.9h-1.9zM262.7 238.8h1.9v1.9h-1.9zM263.0 238.3h1.9v1.9h-1.9zM263.0 238.4h1.9v1.9h-1.9zM262.9 238.4h1.9v1.9h-1.9zM263.5 238.4h1.9v1.9h-1.9zM263.5 238.3h1.9v1.9h-1.9zM263.6 238.5h1.9v1.9h-1.9zM263.8 238.3h1.9v1.9h-1.9zM263.8 238.5h1.9v1.9h-1.9zM263.9 238.1h1.9v1.9h-1.9zM264.3 238.4h1.9v1.9h-1.9zM264.2 238.2h1.9v1.9h-1.9zM264.7 238.5h1.9v1.9h-1.9zM264.6 238.2h1.9v1.9h-1.9zM264.8 238.5h1.9v1.9h-1.9zM264.6 238.3h1.9v1.9h-1.9zM264.3 238.1h1.9v1.9h-1.9zM265.1 238.2h1.9v1.9h-1.9zM264.8 238.2h1.9v1.9h-1.9zM265.4 238.2h1.9v1.9h-1.9zM265.3 238.0h1.9v1.9h-1.9zM265.4 238.1h1.9v1.9h-1.9zM265.6 238.0h1.9v1.9h-1.9zM265.9 238.2h1.9v1.9h-1.9zM265.9 238.2h1.9v1.9h-1.9zM265.5 238.4h1.9v1.9h-1.9zM265.9 237.9h1.9v1.9h-1.9zM266.3 238.1h1.9v1.9h-1.9zM266.4 237.7h1.9v1.9h-1.9zM266.4 237.7h1.9v1.9h-1.9zM266.8 237.8h1.9v1.9h-1.9zM266.1 237.7h1.9v1.9h-1.9zM266.9 237.7h1.9v1.9h-1.9zM267.1 237.6h1.9v1.9h-1.9zM267.0 238.0h1.9v1.9h-1.9zM267.2 237.7h1.9v1.9h-1.9zM267.1 238.0h1.9v1.9h-1.9zM267.6 237.9h1.9v1.9h-1.9zM267.7 237.8h1.9v1.9h-1.9zM267.7 237.8h1.9v1.9h-1.9zM267.7 237.9h1.9v1.9h-1.9zM267.7 238.1h1.9v1.9h-1.9zM268.2 237.7h1.9v1.9h-1.9zM268.5 238.0h1.9v1.9h-1.9zM268.3 237.6h1.9v1.9h-1.9zM268.4 237.8h1.9v1.9h-1.9zM268.3 237.5h1.9v1.9h-1.9zM268.4 237.8h1.9v1.9h-1.9zM268.7 237.9h1.9v1.9h-1.9zM268.5 237.9h1.9v1.9h-1.9zM268.8 237.8h1.9v1.9h-1.9zM269.1 238.0h1.9v1.9h-1.9zM269.3 237.7h1.9v1.9h-1.9zM269.4 237.5h1.9v1.9h-1.9zM269.4 237.8h1.9v1.9h-1.9zM269.6 237.7h1.9v1.9h-1.9zM269.7 237.8h1.9v1.9h-1.9zM269.9 237.6h1.9v1.9h-1.9zM270.1 237.8h1.9v1.9h-1.9zM269.7 237.7h1.9v1.9h-1.9zM270.4 238.0h1.9v1.9h-1.9zM270.2 237.6h1.9v1.9h-1.9zM270.3 237.9h1.9v1.9h-1.9zM270.8 237.8h1.9v1.9h-1.9zM270.5 238.0h1.9v1.9h-1.9zM270.8 237.6h1.9v1.9h-1.9zM270.8 237.9h1.9v1.9h-1.9zM270.9 237.8h1.9v1.9h-1.9zM270.9 237.8h1.9v1.9h-1.9zM271.6 237.9h1.9v1.9h-1.9zM271.2 237.6h1.9v1.9h-1.9zM271.8 237.9h1.9v1.9h-1.9zM271.2 238.0h1.9v1.9h-1.9zM271.6 237.7h1.9v1.9h-1.9zM271.8 237.5h1.9v1.9h-1.9zM271.6 238.0h1.9v1.9h-1.9zM271.9 237.8h1.9v1.9h-1.9zM272.5 237.8h1.9v1.9h-1.9zM272.2 237.8h1.9v1.9h-1.9zM272.8 237.8h1.9v1.9h-1.9zM272.4 238.0h1.9v1.9h-1.9zM273.0 237.6h1.9v1.9h-1.9zM272.8 238.1h1.9v1.9h-1.9zM272.5 237.5h1.9v1.9h-1.9zM273.1 237.7h1.9v1.9h-1.9zM272.7 238.0h1.9v1.9h-1.9zM273.2 237.8h1.9v1.9h-1.9zM273.6 237.8h1.9v1.9h-1.9zM273.2 238.1h1.9v1.9h-1.9zM273.8 237.8h1.9v1.9h-1.9zM273.6 237.6h1.9v1.9h-1.9zM274.0 237.6h1.9v1.9h-1.9zM274.4 237.5h1.9v1.9h-1.9zM274.2 237.6h1.9v1.9h-1.9zM273.9 237.9h1.9v1.9h-1.9zM274.3 237.9h1.9v1.9h-1.9zM274.1 237.7h1.9v1.9h-1.9zM274.4 237.8h1.9v1.9h-1.9zM274.8 237.7h1.9v1.9h-1.9zM274.5 237.8h1.9v1.9h-1.9zM274.4 237.7h1.9v1.9h-1.9zM275.3 237.7h1.9v1.9h-1.9zM275.3 237.7h1.9v1.9h-1.9zM275.0 237.8h1.9v1.9h-1.9zM275.4 237.7h1.9v1.9h-1.9zM275.5 238.0h1.9v1.9h-1.9zM275.6 237.8h1.9v1.9h-1.9zM275.5 237.9h1.9v1.9h-1.9zM275.6 237.8h1.9v1.9h-1.9zM275.8 237.9h1.9v1.9h-1.9zM276.1 237.9h1.9v1.9h-1.9zM276.2 237.8h1.9v1.9h-1.9zM276.7 237.6h1.9v1.9h-1.9zM276.1 237.9h1.9v1.9h-1.9zM276.5 237.8h1.9v1.9h-1.9zM276.0 237.7h1.9v1.9h-1.9zM277.0 237.8h1.9v1.9h-1.9zM276.8 237.7h1.9v1.9h-1.9zM276.8 237.7h1.9v1.9h-1.9zM277.1 237.5h1.9v1.9h-1.9zM277.5 237.6h1.9v1.9h-1.9zM277.6 237.9h1.9v1.9h-1.9zM277.2 237.7h1.9v1.9h-1.9zM277.6 237.9h1.9v1.9h-1.9zM277.4 237.8h1.9v1.9h-1.9zM278.0 237.7h1.9v1.9h-1.9zM278.0 237.7h1.9v1.9h-1.9zM277.9 237.6h1.9v1.9h-1.9zM277.9 237.9h1.9v1.9h-1.9zM278.4 237.8h1.9v1.9h-1.9zM278.2 237.8h1.9v1.9h-1.9zM278.7 237.6h1.9v1.9h-1.9zM278.3 237.6h1.9v1.9h-1.9zM278.7 237.8h1.9v1.9h-1.9zM279.3 237.9h1.9v1.9h-1.9zM278.3 237.8h1.9v1.9h-1.9zM279.0 237.9h1.9v1.9h-1.9zM278.9 237.5h1.9v1.9h-1.9zM279.0 237.8h1.9v1.9h-1.9zM279.3 237.8h1.9v1.9h-1.9zM280.0 237.6h1.9v1.9h-1.9zM279.5 237.8h1.9v1.9h-1.9zM280.0 237.6h1.9v1.9h-1.9zM279.9 237.6h1.9v1.9h-1.9zM280.4 237.9h1.9v1.9h-1.9zM280.6 238.0h1.9v1.9h-1.9zM280.4 237.9h1.9v1.9h-1.9zM280.5 237.8h1.9v1.9h-1.9zM280.4 237.7h1.9v1.9h-1.9zM280.7 237.8h1.9v1.9h-1.9zM281.0 237.8h1.9v1.9h-1.9zM280.9 238.0h1.9v1.9h-1.9zM280.8 237.6h1.9v1.9h-1.9zM281.7 237.6h1.9v1.9h-1.9zM281.0 238.0h1.9v1.9h-1.9zM281.3 237.7h1.9v1.9h-1.9zM281.4 237.7h1.9v1.9h-1.9zM281.3 237.5h1.9v1.9h-1.9zM281.4 237.6h1.9v1.9h-1.9zM281.6 237.6h1.9v1.9h-1.9zM282.1 237.8h1.9v1.9h-1.9zM281.8 238.0h1.9v1.9h-1.9zM282.6 237.5h1.9v1.9h-1.9zM282.0 238.0h1.9v1.9h-1.9zM282.4 237.7h1.9v1.9h-1.9zM282.4 237.7h1.9v1.9h-1.9zM282.8 237.8h1.9v1.9h-1.9zM282.7 237.7h1.9v1.9h-1.9zM282.7 237.9h1.9v1.9h-1.9zM282.8 237.7h1.9v1.9h-1.9zM283.1 237.8h1.9v1.9h-1.9zM282.9 238.2h1.9v1.9h-1.9zM283.5 238.0h1.9v1.9h-1.9zM283.1 237.5h1.9v1.9h-1.9zM283.6 237.7h1.9v1.9h-1.9zM283.4 238.0h1.9v1.9h-1.9zM283.5 237.5h1.9v1.9h-1.9zM284.4 237.8h1.9v1.9h-1.9zM283.7 237.9h1.9v1.9h-1.9zM283.9 237.7h1.9v1.9h-1.9zM284.2 237.7h1.9v1.9h-1.9zM284.8 237.6h1.9v1.9h-1.9zM284.3 237.6h1.9v1.9h-1.9zM284.6 237.6h1.9v1.9h-1.9zM284.7 238.0h1.9v1.9h-1.9zM285.3 237.7h1.9v1.9h-1.9zM285.0 237.7h1.9v1.9h-1.9zM285.0 237.9h1.9v1.9h-1.9zM284.7 237.6h1.9v1.9h-1.9zM285.1 237.6h1.9v1.9h-1.9zM285.3 237.8h1.9v1.9h-1.9zM285.5 238.2h1.9v1.9h-1.9zM286.0 237.6h1.9v1.9h-1.9zM285.7 237.7h1.9v1.9h-1.9zM285.9 237.8h1.9v1.9h-1.9zM286.2 237.8h1.9v1.9h-1.9zM286.5 237.7h1.9v1.9h-1.9zM286.3 237.8h1.9v1.9h-1.9zM286.4 237.8h1.9v1.9h-1.9zM286.6 237.9h1.9v1.9h-1.9zM286.7 237.8h1.9v1.9h-1.9zM286.6 237.7h1.9v1.9h-1.9zM287.1 237.9h1.9v1.9h-1.9zM286.9 238.0h1.9v1.9h-1.9zM287.0 238.0h1.9v1.9h-1.9zM287.4 237.8h1.9v1.9h-1.9zM287.4 237.7h1.9v1.9h-1.9zM287.3 237.7h1.9v1.9h-1.9zM287.7 237.8h1.9v1.9h-1.9zM287.6 237.8h1.9v1.9h-1.9zM287.5 237.7h1.9v1.9h-1.9zM287.6 237.9h1.9v1.9h-1.9zM288.2 237.7h1.9v1.9h-1.9zM288.0 238.0h1.9v1.9h-1.9zM288.3 237.6h1.9v1.9h-1.9zM288.2 237.7h1.9v1.9h-1.9zM288.4 237.6h1.9v1.9h-1.9zM288.7 237.7h1.9v1.9h-1.9zM289.2 237.9h1.9v1.9h-1.9zM288.4 237.6h1.9v1.9h-1.9zM288.9 237.5h1.9v1.9h-1.9zM288.7 238.0h1.9v1.9h-1.9zM289.0 237.6h1.9v1.9h-1.9zM289.4 237.8h1.9v1.9h-1.9zM289.4 237.9h1.9v1.9h-1.9zM289.4 237.9h1.9v1.9h-1.9zM290.0 237.7h1.9v1.9h-1.9zM289.8 237.7h1.9v1.9h-1.9zM289.8 237.6h1.9v1.9h-1.9zM290.0 237.6h1.9v1.9h-1.9zM289.9 237.6h1.9v1.9h-1.9zM290.3 237.6h1.9v1.9h-1.9zM290.6 237.5h1.9v1.9h-1.9zM290.2 237.7h1.9v1.9h-1.9zM290.5 237.6h1.9v1.9h-1.9zM291.3 237.7h1.9v1.9h-1.9zM290.5 237.8h1.9v1.9h-1.9zM291.4 238.0h1.9v1.9h-1.9zM291.0 237.7h1.9v1.9h-1.9zM291.7 237.8h1.9v1.9h-1.9zM291.4 237.5h1.9v1.9h-1.9zM291.3 237.8h1.9v1.9h-1.9zM291.0 237.8h1.9v1.9h-1.9zM291.6 237.7h1.9v1.9h-1.9zM291.8 237.8h1.9v1.9h-1.9zM292.2 237.5h1.9v1.9h-1.9zM292.2 237.7h1.9v1.9h-1.9zM292.1 237.8h1.9v1.9h-1.9zM292.2 237.9h1.9v1.9h-1.9zM292.2 237.8h1.9v1.9h-1.9zM292.4 237.4h1.9v1.9h-1.9zM292.3 237.9h1.9v1.9h-1.9zM292.7 237.8h1.9v1.9h-1.9zM292.9 237.6h1.9v1.9h-1.9zM293.7 237.9h1.9v1.9h-1.9zM292.9 237.7h1.9v1.9h-1.9zM293.3 237.3h1.9v1.9h-1.9zM293.0 237.8h1.9v1.9h-1.9zM293.8 237.8h1.9v1.9h-1.9zM293.4 237.6h1.9v1.9h-1.9zM293.8 237.5h1.9v1.9h-1.9zM293.8 237.5h1.9v1.9h-1.9zM293.5 237.0h1.9v1.9h-1.9zM294.0 237.7h1.9v1.9h-1.9zM294.0 237.2h1.9v1.9h-1.9zM294.4 237.1h1.9v1.9h-1.9zM294.6 237.1h1.9v1.9h-1.9zM294.5 237.0h1.9v1.9h-1.9zM294.9 237.3h1.9v1.9h-1.9zM295.3 237.0h1.9v1.9h-1.9zM294.8 237.0h1.9v1.9h-1.9zM295.4 236.7h1.9v1.9h-1.9zM295.5 237.3h1.9v1.9h-1.9zM295.8 236.4h1.9v1.9h-1.9zM295.6 236.3h1.9v1.9h-1.9zM295.5 237.1h1.9v1.9h-1.9zM295.9 236.3h1.9v1.9h-1.9zM296.2 236.1h1.9v1.9h-1.9zM296.7 236.5h1.9v1.9h-1.9zM296.4 236.4h1.9v1.9h-1.9zM296.8 236.2h1.9v1.9h-1.9zM296.2 235.8h1.9v1.9h-1.9zM297.3 235.7h1.9v1.9h-1.9zM296.9 235.5h1.9v1.9h-1.9zM297.3 235.5h1.9v1.9h-1.9zM297.2 235.8h1.9v1.9h-1.9zM297.2 235.6h1.9v1.9h-1.9zM297.8 235.4h1.9v1.9h-1.9zM298.0 235.2h1.9v1.9h-1.9zM298.0 235.6h1.9v1.9h-1.9zM298.1 235.1h1.9v1.9h-1.9zM298.2 234.5h1.9v1.9h-1.9zM298.6 234.3h1.9v1.9h-1.9zM298.8 234.9h1.9v1.9h-1.9zM298.9 234.4h1.9v1.9h-1.9zM298.6 234.1h1.9v1.9h-1.9zM299.7 233.8h1.9v1.9h-1.9zM299.4 234.1h1.9v1.9h-1.9zM299.4 233.5h1.9v1.9h-1.9zM299.2 233.7h1.9v1.9h-1.9zM299.7 233.6h1.9v1.9h-1.9zM300.0 233.2h1.9v1.9h-1.9zM299.6 233.5h1.9v1.9h-1.9zM300.0 232.4h1.9v1.9h-1.9zM300.4 233.3h1.9v1.9h-1.9zM300.6 232.9h1.9v1.9h-1.9zM300.5 232.4h1.9v1.9h-1.9zM300.1 233.2h1.9v1.9h-1.9zM300.4 231.7h1.9v1.9h-1.9zM300.5 232.3h1.9v1.9h-1.9zM300.7 231.8h1.9v1.9h-1.9zM301.1 232.1h1.9v1.9h-1.9zM301.4 231.8h1.9v1.9h-1.9zM301.6 232.0h1.9v1.9h-1.9zM301.3 231.6h1.9v1.9h-1.9zM301.6 231.6h1.9v1.9h-1.9zM301.1 231.4h1.9v1.9h-1.9zM301.4 231.3h1.9v1.9h-1.9zM301.4 231.2h1.9v1.9h-1.9zM302.4 230.8h1.9v1.9h-1.9zM302.5 230.8h1.9v1.9h-1.9zM301.9 230.8h1.9v1.9h-1.9zM302.7 230.1h1.9v1.9h-1.9zM302.2 231.2h1.9v1.9h-1.9zM302.4 230.5h1.9v1.9h-1.9zM302.1 230.4h1.9v1.9h-1.9zM302.3 229.9h1.9v1.9h-1.9zM303.1 229.3h1.9v1.9h-1.9zM302.8 230.6h1.9v1.9h-1.9zM303.3 229.9h1.9v1.9h-1.9zM303.4 229.7h1.9v1.9h-1.9zM303.6 228.9h1.9v1.9h-1.9zM303.7 229.2h1.9v1.9h-1.9zM303.4 229.1h1.9v1.9h-1.9zM303.1 229.1h1.9v1.9h-1.9zM303.5 229.5h1.9v1.9h-1.9zM303.7 229.4h1.9v1.9h-1.9zM304.2 229.5h1.9v1.9h-1.9zM304.2 228.6h1.9v1.9h-1.9zM303.9 228.0h1.9v1.9h-1.9zM304.3 227.8h1.9v1.9h-1.9zM304.4 227.8h1.9v1.9h-1.9zM304.5 228.2h1.9v1.9h-1.9zM304.7 227.8h1.9v1.9h-1.9zM304.9 228.0h1.9v1.9h-1.9zM304.8 227.2h1.9v1.9h-1.9zM304.9 227.0h1.9v1.9h-1.9zM305.2 227.0h1.9v1.9h-1.9zM305.4 226.0h1.9v1.9h-1.9zM305.1 226.4h1.9v1.9h-1.9zM305.7 226.5h1.9v1.9h-1.9zM305.9 226.5h1.9v1.9h-1.9zM305.7 225.6h1.9v1.9h-1.9zM305.6 225.9h1.9v1.9h-1.9zM305.5 225.9h1.9v1.9h-1.9zM306.5 225.7h1.9v1.9h-1.9zM306.6 225.6h1.9v1.9h-1.9zM306.3 225.7h1.9v1.9h-1.9zM306.3 225.3h1.9v1.9h-1.9zM306.0 224.5h1.9v1.9h-1.9zM306.4 224.4h1.9v1.9h-1.9zM306.6 224.0h1.9v1.9h-1.9zM307.2 223.7h1.9v1.9h-1.9zM307.2 223.8h1.9v1.9h-1.9zM307.1 222.4h1.9v1.9h-1.9zM306.8 222.5h1.9v1.9h-1.9zM307.5 223.6h1.9v1.9h-1.9zM307.6 222.2h1.9v1.9h-1.9zM307.9 222.5h1.9v1.9h-1.9zM307.5 222.2h1.9v1.9h-1.9zM307.9 221.4h1.9v1.9h-1.9zM308.0 221.8h1.9v1.9h-1.9zM308.3 221.6h1.9v1.9h-1.9zM308.1 220.8h1.9v1.9h-1.9zM308.6 221.2h1.9v1.9h-1.9zM308.9 220.9h1.9v1.9h-1.9zM308.5 220.0h1.9v1.9h-1.9zM309.2 220.0h1.9v1.9h-1.9zM309.2 219.8h1.9v1.9h-1.9zM308.6 219.3h1.9v1.9h-1.9zM309.2 219.8h1.9v1.9h-1.9zM309.2 219.4h1.9v1.9h-1.9zM309.6 218.5h1.9v1.9h-1.9zM309.5 218.6h1.9v1.9h-1.9zM309.1 218.5h1.9v1.9h-1.9zM309.7 217.5h1.9v1.9h-1.9zM309.6 217.4h1.9v1.9h-1.9zM309.7 217.4h1.9v1.9h-1.9zM310.2 216.9h1.9v1.9h-1.9zM310.0 217.3h1.9v1.9h-1.9zM310.3 216.7h1.9v1.9h-1.9zM309.9 216.5h1.9v1.9h-1.9zM310.3 216.2h1.9v1.9h-1.9zM310.5 216.2h1.9v1.9h-1.9zM310.7 215.9h1.9v1.9h-1.9zM310.8 215.1h1.9v1.9h-1.9zM310.7 215.5h1.9v1.9h-1.9zM311.2 215.2h1.9v1.9h-1.9zM311.4 214.4h1.9v1.9h-1.9zM311.0 214.2h1.9v1.9h-1.9zM311.5 213.6h1.9v1.9h-1.9zM311.1 213.8h1.9v1.9h-1.9zM311.2 213.0h1.9v1.9h-1.9zM311.1 212.4h1.9v1.9h-1.9zM312.3 212.7h1.9v1.9h-1.9zM312.0 212.3h1.9v1.9h-1.9zM311.9 211.6h1.9v1.9h-1.9zM312.8 211.3h1.9v1.9h-1.9zM312.3 210.7h1.9v1.9h-1.9zM312.5 211.1h1.9v1.9h-1.9zM312.5 210.6h1.9v1.9h-1.9zM312.8 210.3h1.9v1.9h-1.9zM312.8 209.9h1.9v1.9h-1.9zM312.7 210.3h1.9v1.9h-1.9zM313.2 208.5h1.9v1.9h-1.9zM313.8 208.4h1.9v1.9h-1.9zM313.4 208.4h1.9v1.9h-1.9zM313.3 208.4h1.9v1.9h-1.9zM313.6 207.6h1.9v1.9h-1.9zM313.5 206.6h1.9v1.9h-1.9zM313.7 207.6h1.9v1.9h-1.9zM314.0 206.5h1.9v1.9h-1.9zM313.9 205.9h1.9v1.9h-1.9zM314.1 205.7h1.9v1.9h-1.9zM314.2 205.6h1.9v1.9h-1.9zM314.6 205.4h1.9v1.9h-1.9zM314.3 205.3h1.9v1.9h-1.9zM314.8 205.9h1.9v1.9h-1.9zM314.5 204.5h1.9v1.9h-1.9zM314.5 204.5h1.9v1.9h-1.9zM315.2 204.4h1.9v1.9h-1.9zM315.2 204.0h1.9v1.9h-1.9zM314.9 203.1h1.9v1.9h-1.9zM315.3 203.2h1.9v1.9h-1.9zM315.5 202.8h1.9v1.9h-1.9zM315.2 201.1h1.9v1.9h-1.9zM316.1 201.4h1.9v1.9h-1.9zM316.0 201.7h1.9v1.9h-1.9zM316.3 201.1h1.9v1.9h-1.9zM316.1 200.2h1.9v1.9h-1.9zM316.6 200.1h1.9v1.9h-1.9zM316.0 200.1h1.9v1.9h-1.9zM316.6 198.3h1.9v1.9h-1.9zM316.0 198.8h1.9v1.9h-1.9zM317.0 198.1h1.9v1.9h-1.9zM316.3 198.7h1.9v1.9h-1.9zM316.4 198.1h1.9v1.9h-1.9zM316.7 197.6h1.9v1.9h-1.9zM317.2 197.0h1.9v1.9h-1.9zM317.4 196.3h1.9v1.9h-1.9zM317.3 195.7h1.9v1.9h-1.9zM317.4 195.3h1.9v1.9h-1.9zM317.7 195.6h1.9v1.9h-1.9zM317.6 194.8h1.9v1.9h-1.9zM317.9 194.5h1.9v1.9h-1.9zM317.4 193.9h1.9v1.9h-1.9zM318.0 193.6h1.9v1.9h-1.9zM318.4 193.8h1.9v1.9h-1.9zM318.1 193.1h1.9v1.9h-1.9zM318.6 193.0h1.9v1.9h-1.9zM318.7 192.3h1.9v1.9h-1.9zM318.8 191.7h1.9v1.9h-1.9zM318.7 191.3h1.9v1.9h-1.9zM318.9 191.1h1.9v1.9h-1.9zM318.9 190.1h1.9v1.9h-1.9zM319.1 189.5h1.9v1.9h-1.9zM319.2 189.7h1.9v1.9h-1.9zM319.2 189.5h1.9v1.9h-1.9zM319.5 188.7h1.9v1.9h-1.9zM319.0 188.9h1.9v1.9h-1.9zM320.0 188.3h1.9v1.9h-1.9zM319.4 188.5h1.9v1.9h-1.9zM320.0 187.4h1.9v1.9h-1.9zM319.4 187.5h1.9v1.9h-1.9zM320.7 186.8h1.9v1.9h-1.9zM320.1 186.5h1.9v1.9h-1.9zM320.5 186.0h1.9v1.9h-1.9zM320.3 185.5h1.9v1.9h-1.9zM320.7 185.1h1.9v1.9h-1.9zM320.4 185.6h1.9v1.9h-1.9zM320.7 183.3h1.9v1.9h-1.9zM321.0 184.5h1.9v1.9h-1.9zM320.9 183.6h1.9v1.9h-1.9zM321.4 183.4h1.9v1.9h-1.9zM321.6 183.4h1.9v1.9h-1.9zM321.4 183.7h1.9v1.9h-1.9zM321.7 181.8h1.9v1.9h-1.9zM321.9 182.6h1.9v1.9h-1.9zM322.0 182.9h1.9v1.9h-1.9zM322.1 182.0h1.9v1.9h-1.9zM322.0 180.9h1.9v1.9h-1.9zM322.0 180.7h1.9v1.9h-1.9zM322.4 180.6h1.9v1.9h-1.9zM322.6 180.3h1.9v1.9h-1.9zM322.2 179.0h1.9v1.9h-1.9zM322.6 179.9h1.9v1.9h-1.9zM322.6 178.7h1.9v1.9h-1.9zM322.7 179.1h1.9v1.9h-1.9zM323.1 178.0h1.9v1.9h-1.9zM323.1 177.8h1.9v1.9h-1.9zM323.1 177.9h1.9v1.9h-1.9zM323.3 177.5h1.9v1.9h-1.9zM323.0 177.3h1.9v1.9h-1.9zM323.6 176.5h1.9v1.9h-1.9z"/>
<path fill="#9000f0" d="M234.8 279.0h1.9v1.9h-1.9zM236.0 279.1h1.9v1.9h-1.9zM234.9 279.2h1.9v1.9h-1.9zM235.7 277.7h1.9v1.9h-1.9zM235.9 277.3h1.9v1.9h-1.9zM235.5 277.0h1.9v1.9h-1.9zM236.1 276.8h1.9v1.9h-1.9zM236.3 276.1h1.9v1.9h-1.9zM236.3 275.4h1.9v1.9h-1.9zM236.6 276.2h1.9v1.9h-1.9zM236.4 275.3h1.9v1.9h-1.9zM237.3 274.0h1.9v1.9h-1.9zM236.4 275.3h1.9v1.9h-1.9zM237.2 274.4h1.9v1.9h-1.9zM236.8 273.4h1.9v1.9h-1.9zM237.0 273.4h1.9v1.9h-1.9zM237.1 272.4h1.9v1.9h-1.9zM237.0 272.7h1.9v1.9h-1.9zM237.4 272.2h1.9v1.9h-1.9zM237.1 271.7h1.9v1.9h-1.9zM237.7 271.6h1.9v1.9h-1.9zM238.0 270.9h1.9v1.9h-1.9zM238.2 270.5h1.9v1.9h-1.9zM238.2 270.9h1.9v1.9h-1.9zM238.4 269.7h1.9v1.9h-1.9zM238.3 269.8h1.9v1.9h-1.9zM238.8 269.4h1.9v1.9h-1.9zM238.5 268.7h1.9v1.9h-1.9zM238.2 268.8h1.9v1.9h-1.9zM238.6 267.8h1.9v1.9h-1.9zM239.1 267.9h1.9v1.9h-1.9zM239.4 267.7h1.9v1.9h-1.9zM239.0 268.0h1.9v1.9h-1.9zM239.2 267.6h1.9v1.9h-1.9zM239.6 266.2h1.9v1.9h-1.9zM239.1 266.2h1.9v1.9h-1.9zM239.8 266.0h1.9v1.9h-1.9zM240.2 266.4h1.9v1.9h-1.9zM240.1 265.9h1.9v1.9h-1.9zM240.2 265.7h1.9v1.9h-1.9zM240.1 265.1h1.9v1.9h-1.9zM239.9 264.9h1.9v1.9h-1.9zM240.0 263.9h1.9v1.9h-1.9zM240.4 264.2h1.9v1.9h-1.9zM240.4 264.4h1.9v1.9h-1.9zM240.9 264.5h1.9v1.9h-1.9zM240.6 263.8h1.9v1.9h-1.9zM241.0 263.7h1.9v1.9h-1.9zM241.0 262.8h1.9v1.9h-1.9zM240.9 262.7h1.9v1.9h-1.9zM241.5 262.6h1.9v1.9h-1.9zM241.1 261.8h1.9v1.9h-1.9zM241.9 261.9h1.9v1.9h-1.9zM242.0 261.4h1.9v1.9h-1.9zM241.5 260.6h1.9v1.9h-1.9zM242.1 260.6h1.9v1.9h-1.9zM241.9 261.1h1.9v1.9h-1.9zM242.1 260.5h1.9v1.9h-1.9zM241.8 260.8h1.9v1.9h-1.9zM242.2 260.5h1.9v1.9h-1.9zM242.2 260.3h1.9v1.9h-1.9zM242.6 259.4h1.9v1.9h-1.9zM242.2 259.7h1.9v1.9h-1.9zM242.2 259.6h1.9v1.9h-1.9zM242.8 259.2h1.9v1.9h-1.9zM243.2 259.2h1.9v1.9h-1.9zM242.7 258.3h1.9v1.9h-1.9zM243.2 257.7h1.9v1.9h-1.9zM243.4 257.6h1.9v1.9h-1.9zM243.9 257.1h1.9v1.9h-1.9zM243.6 257.7h1.9v1.9h-1.9zM243.5 257.3h1.9v1.9h-1.9zM244.1 256.5h1.9v1.9h-1.9zM243.9 256.4h1.9v1.9h-1.9zM244.3 256.3h1.9v1.9h-1.9zM243.7 256.3h1.9v1.9h-1.9zM243.8 255.3h1.9v1.9h-1.9zM243.9 255.0h1.9v1.9h-1.9zM244.5 255.2h1.9v1.9h-1.9zM244.7 254.3h1.9v1.9h-1.9zM244.8 254.9h1.9v1.9h-1.9zM244.4 254.5h1.9v1.9h-1.9zM244.9 253.8h1.9v1.9h-1.9zM244.9 253.8h1.9v1.9h-1.9zM245.1 253.8h1.9v1.9h-1.9zM245.3 253.4h1.9v1.9h-1.9zM245.4 253.2h1.9v1.9h-1.9zM245.9 253.5h1.9v1.9h-1.9zM245.9 252.4h1.9v1.9h-1.9zM246.2 252.4h1.9v1.9h-1.9zM245.6 252.2h1.9v1.9h-1.9zM246.2 252.2h1.9v1.9h-1.9zM246.2 251.6h1.9v1.9h-1.9zM246.5 251.7h1.9v1.9h-1.9zM246.4 251.8h1.9v1.9h-1.9zM246.8 251.2h1.9v1.9h-1.9zM246.6 251.3h1.9v1.9h-1.9zM246.7 251.0h1.9v1.9h-1.9zM247.0 250.6h1.9v1.9h-1.9zM247.0 249.8h1.9v1.9h-1.9zM247.0 251.0h1.9v1.9h-1.9zM247.1 249.9h1.9v1.9h-1.9zM246.9 250.6h1.9v1.9h-1.9zM247.5 250.5h1.9v1.9h-1.9zM247.9 249.8h1.9v1.9h-1.9zM248.0 249.5h1.9v1.9h-1.9zM247.8 249.1h1.9v1.9h-1.9zM247.8 249.6h1.9v1.9h-1.9zM248.2 248.9h1.9v1.9h-1.9zM248.5 249.1h1.9v1.9h-1.9zM248.0 248.5h1.9v1.9h-1.9zM248.2 248.7h1.9v1.9h-1.9zM248.5 248.1h1.9v1.9h-1.9zM248.6 248.5h1.9v1.9h-1.9zM248.9 248.2h1.9v1.9h-1.9zM248.8 247.6h1.9v1.9h-1.9zM248.8 247.8h1.9v1.9h-1.9zM249.1 248.2h1.9v1.9h-1.9zM249.4 247.3h1.9v1.9h-1.9zM249.1 246.3h1.9v1.9h-1.9zM249.0 246.9h1.9v1.9h-1.9zM249.8 247.6h1.9v1.9h-1.9zM249.8 247.0h1.9v1.9h-1.9zM249.8 246.7h1.9v1.9h-1.9zM250.0 246.1h1.9v1.9h-1.9zM249.8 246.9h1.9v1.9h-1.9zM250.2 247.0h1.9v1.9h-1.9zM250.6 247.1h1.9v1.9h-1.9zM250.6 245.6h1.9v1.9h-1.9zM251.0 245.5h1.9v1.9h-1.9zM250.8 245.6h1.9v1.9h-1.9zM250.6 245.8h1.9v1.9h-1.9zM250.6 245.7h1.9v1.9h-1.9zM251.1 245.1h1.9v1.9h-1.9zM250.9 245.1h1.9v1.9h-1.9zM251.2 245.2h1.9v1.9h-1.9zM251.0 244.9h1.9v1.9h-1.9zM251.1 244.5h1.9v1.9h-1.9zM251.4 244.8h1.9v1.9h-1.9zM251.9 244.6h1.9v1.9h-1.9zM251.9 245.1h1.9v1.9h-1.9zM251.9 244.3h1.9v1.9h-1.9zM252.1 244.7h1.9v1.9h-1.9zM252.0 244.3h1.9v1.9h-1.9zM252.3 244.1h1.9v1.9h-1.9zM252.3 244.1h1.9v1.9h-1.9zM252.6 244.3h1.9v1.9h-1.9zM252.4 243.5h1.9v1.9h-1.9zM252.3 244.3h1.9v1.9h-1.9zM253.0 243.1h1.9v1.9h-1.9zM252.8 243.5h1.9v1.9h-1.9zM252.7 244.1h1.9v1.9h-1.9zM253.2 243.9h1.9v1.9h-1.9zM253.9 243.5h1.9v1.9h-1.9zM253.2 242.8h1.9v1.9h-1.9zM254.0 243.6h1.9v1.9h-1.9zM253.5 243.1h1.9v1.9h-1.9zM253.8 243.8h1.9v1.9h-1.9zM254.3 242.8h1.9v1.9h-1.9zM254.4 243.2h1.9v1.9h-1.9zM254.1 243.2h1.9v1.9h-1.9zM254.6 243.0h1.9v1.9h-1.9zM254.4 243.1h1.9v1.9h-1.9zM254.0 242.7h1.9v1.9h-1.9zM254.6 243.1h1.9v1.9h-1.9zM254.5 242.0h1.9v1.9h-1.9zM255.0 242.2h1.9v1.9h-1.9zM255.1 242.2h1.9v1.9h-1.9zM254.7 242.4h1.9v1.9h-1.9zM255.4 241.9h1.9v1.9h-1.9zM255.2 241.5h1.9v1.9h-1.9zM255.9 242.2h1.9v1.9h-1.9zM255.7 241.7h1.9v1.9h-1.9zM255.6 242.2h1.9v1.9h-1.9zM256.4 241.3h1.9v1.9h-1.9zM256.0 242.0h1.9v1.9h-1.9zM256.1 241.6h1.9v1.9h-1.9zM256.2 242.3h1.9v1.9h-1.9zM256.3 241.2h1.9v1.9h-1.9zM256.0 240.9h1.9v1.9h-1.9zM255.9 241.4h1.9v1.9h-1.9zM256.7 241.3h1.9v1.9h-1.9zM257.0 241.5h1.9v1.9h-1.9zM256.8 240.6h1.9v1.9h-1.9zM257.2 241.2h1.9v1.9h-1.9zM257.0 240.1h1.9v1.9h-1.9zM257.3 240.5h1.9v1.9h-1.9zM256.6 240.7h1.9v1.9h-1.9zM257.5 241.0h1.9v1.9h-1.9zM257.2 240.8h1.9v1.9h-1.9zM257.4 240.4h1.9v1.9h-1.9zM257.2 240.8h1.9v1.9h-1.9zM257.2 240.7h1.9v1.9h-1.9zM257.7 240.0h1.9v1.9h-1.9zM257.6 240.2h1.9v1.9h-1.9zM257.7 239.7h1.9v1.9h-1.9zM257.9 240.0h1.9v1.9h-1.9zM258.2 239.8h1.9v1.9h-1.9zM257.9 239.5h1.9v1.9h-1.9zM258.3 239.9h1.9v1.9h-1.9zM258.3 239.8h1.9v1.9h-1.9zM258.6 240.0h1.9v1.9h-1.9zM258.8 240.1h1.9v1.9h-1.9zM258.8 239.4h1.9v1.9h-1.9zM259.0 239.6h1.9v1.9h-1.9zM258.9 239.8h1.9v1.9h-1.9zM258.7 239.5h1.9v1.9h-1.9zM259.2 239.8h1.9v1.9h-1.9zM259.1 239.7h1.9v1.9h-1.9zM259.8 239.7h1.9v1.9h-1.9zM259.8 239.5h1.9v1.9h-1.9zM259.7 239.7h1.9v1.9h-1.9zM259.6 239.0h1.9v1.9h-1.9zM260.1 239.2h1.9v1.9h-1.9zM260.0 239.4h1.9v1.9h-1.9zM260.4 239.8h1.9v1.9h-1.9zM260.0 239.5h1.9v1.9h-1.9zM260.2 239.5h1.9v1.9h-1.9zM260.5 239.5h1.9v1.9h-1.9zM260.3 239.3h1.9v1.9h-1.9zM260.8 239.3h1.9v1.9h-1.9zM261.0 239.2h1.9v1.9h-1.9zM260.6 238.8h1.9v1.9h-1.9zM260.7 239.3h1.9v1.9h-1.9zM261.2 238.8h1.9v1.9h-1.9zM261.1 239.0h1.9v1.9h-1.9zM261.2 238.7h1.9v1.9h-1.9zM261.3 239.3h1.9v1.9h-1.9zM261.6 239.1h1.9v1.9h-1.9zM261.5 239.2h1.9v1.9h-1.9zM261.6 239.0h1.9v1.9h-1.9zM262.3 238.8h1.9v1.9h-1.9zM262.0 239.0h1.9v1.9h-1.9zM262.0 238.4h1.9v1.9h-1.9zM262.1 238.5h1.9v1.9h-1.9zM262.7 238.7h1.9v1.9h-1.9zM262.6 238.9h1.9v1.9h-1.9zM262.3 238.9h1.9v1.9h-1.9zM262.9 239.0h1.9v1.9h-1.9zM262.7 238.5h1.9v1.9h-1.9zM262.7 238.5h1.9v1.9h-1.9zM262.9 238.4h1.9v1.9h-1.9zM263.4 238.5h1.9v1.9h-1.9zM263.3 238.6h1.9v1.9h-1.9zM263.3 238.5h1.9v1.9h-1.9zM263.5 238.3h1.9v1.9h-1.9zM263.4 238.7h1.9v1.9h-1.9zM263.8 238.3h1.9v1.9h-1.9zM263.5 238.5h1.9v1.9h-1.9zM263.6 238.3h1.9v1.9h-1.9zM263.9 238.2h1.9v1.9h-1.9zM264.1 238.4h1.9v1.9h-1.9zM264.1 238.4h1.9v1.9h-1.9zM264.4 238.4h1.9v1.9h-1.9zM264.1 238.6h1.9v1.9h-1.9zM264.4 238.2h1.9v1.9h-1.9zM264.4 238.3h1.9v1.9h-1.9zM265.2 238.3h1.9v1.9h-1.9zM264.1 238.2h1.9v1.9h-1.9zM264.9 238.1h1.9v1.9h-1.9zM265.2 238.1h1.9v1.9h-1.9zM265.3 238.2h1.9v1.9h-1.9zM265.4 238.2h1.9v1.9h-1.9zM265.6 238.0h1.9v1.9h-1.9zM265.4 238.0h1.9v1.9h-1.9zM265.6 238.1h1.9v1.9h-1.9zM265.7 238.1h1.9v1.9h-1.9zM265.8 237.5h1.9v1.9h-1.9zM266.1 238.1h1.9v1.9h-1.9zM265.6 237.6h1.9v1.9h-1.9zM266.6 238.0h1.9v1.9h-1.9zM266.1 238.0h1.9v1.9h-1.9zM266.4 237.7h1.9v1.9h-1.9zM266.2 238.1h1.9v1.9h-1.9zM266.6 237.8h1.9v1.9h-1.9zM266.9 237.9h1.9v1.9h-1.9zM267.1 237.6h1.9v1.9h-1.9zM267.2 238.0h1.9v1.9h-1.9zM267.3 237.8h1.9v1.9h-1.9zM267.2 237.6h1.9v1.9h-1.9zM267.2 237.9h1.9v1.9h-1.9zM267.3 237.8h1.9v1.9h-1.9zM267.5 238.1h1.9v1.9h-1.9zM268.1 237.9h1.9v1.9h-1.9zM268.0 237.9h1.9v1.9h-1.9zM268.1 237.8h1.9v1.9h-1.9zM268.0 237.7h1.9v1.9h-1.9zM267.9 237.9h1.9v1.9h-1.9zM268.2 237.7h1.9v1.9h-1.9zM268.3 237.8h1.9v1.9h-1.9zM268.7 237.5h1.9v1.9h-1.9zM268.3 237.6h1.9v1.9h-1.9zM268.2 238.0h1.9v1.9h-1.9zM268.8 237.4h1.9v1.9h-1.9zM269.2 237.9h1.9v1.9h-1.9zM269.0 237.5h1.9v1.9h-1.9zM269.4 237.7h1.9v1.9h-1.9zM269.6 237.9h1.9v1.9h-1.9zM269.6 238.1h1.9v1.9h-1.9zM269.9 237.7h1.9v1.9h-1.9zM269.9 237.6h1.9v1.9h-1.9zM270.1 237.7h1.9v1.9h-1.9zM270.2 238.2h1.9v1.9h-1.9zM270.1 237.8h1.9v1.9h-1.9zM270.3 237.5h1.9v1.9h-1.9zM270.4 237.7h1.9v1.9h-1.9zM270.9 237.6h1.9v1.9h-1.9zM270.5 237.7h1.9v1.9h-1.9zM270.7 237.6h1.9v1.9h-1.9zM270.9 237.9h1.9v1.9h-1.9zM271.1 237.7h1.9v1.9h-1.9zM270.5 237.8h1.9v1.9h-1.9zM271.1 237.6h1.9v1.9h-1.9zM271.1 237.9h1.9v1.9h-1.9zM271.0 237.7h1.9v1.9h-1.9zM271.4 237.7h1.9v1.9h-1.9zM271.9 237.6h1.9v1.9h-1.9zM271.6 237.7h1.9v1.9h-1.9zM271.4 237.8h1.9v1.9h-1.9zM271.9 237.9h1.9v1.9h-1.9zM271.9 237.5h1.9v1.9h-1.9zM272.3 237.6h1.9v1.9h-1.9zM272.3 237.6h1.9v1.9h-1.9zM272.8 237.8h1.9v1.9h-1.9zM272.6 238.1h1.9v1.9h-1.9zM272.6 237.9h1.9v1.9h-1.9zM272.8 237.7h1.9v1.9h-1.9zM273.1 237.7h1.9v1.9h-1.9zM273.3 237.8h1.9v1.9h-1.9zM273.3 237.8h1.9v1.9h-1.9zM272.9 237.7h1.9v1.9h-1.9zM273.7 238.2h1.9v1.9h-1.9zM273.6 237.8h1.9v1.9h-1.9zM273.6 237.8h1.9v1.9h-1.9zM273.8 237.7h1.9v1.9h-1.9zM274.2 237.8h1.9v1.9h-1.9zM273.9 237.8h1.9v1.9h-1.9zM273.9 237.8h1.9v1.9h-1.9zM274.5 237.8h1.9v1.9h-1.9zM274.3 237.9h1.9v1.9h-1.9zM273.7 237.8h1.9v1.9h-1.9zM274.3 237.6h1.9v1.9h-1.9zM274.6 237.9h1.9v1.9h-1.9zM274.8 238.0h1.9v1.9h-1.9zM275.3 237.6h1.9v1.9h-1.9zM274.7 237.9h1.9v1.9h-1.9zM275.0 238.0h1.9v1.9h-1.9zM275.4 237.7h1.9v1.9h-1.9zM276.1 238.0h1.9v1.9h-1.9zM275.1 237.6h1.9v1.9h-1.9zM275.9 237.5h1.9v1.9h-1.9zM275.9 237.8h1.9v1.9h-1.9zM275.5 238.0h1.9v1.9h-1.9zM276.0 237.6h1.9v1.9h-1.9zM276.4 238.0h1.9v1.9h-1.9zM276.2 237.7h1.9v1.9h-1.9zM276.3 237.8h1.9v1.9h-1.9zM276.4 237.8h1.9v1.9h-1.9zM276.4 237.8h1.9v1.9h-1.9zM277.3 237.9h1.9v1.9h-1.9zM277.1 238.0h1.9v1.9h-1.9zM276.9 237.6h1.9v1.9h-1.9zM276.9 237.9h1.9v1.9h-1.9zM277.1 237.9h1.9v1.9h-1.9zM277.5 237.9h1.9v1.9h-1.9zM277.2 237.8h1.9v1.9h-1.9zM277.7 237.7h1.9v1.9h-1.9zM277.3 237.6h1.9v1.9h-1.9zM277.7 237.6h1.9v1.9h-1.9zM277.6 237.8h1.9v1.9h-1.9zM278.0 237.7h1.9v1.9h-1.9zM277.7 237.6h1.9v1.9h-1.9zM277.9 237.8h1.9v1.9h-1.9zM278.2 237.5h1.9v1.9h-1.9zM278.3 237.9h1.9v1.9h-1.9zM278.7 237.6h1.9v1.9h-1.9zM278.9 238.2h1.9v1.9h-1.9zM278.6 237.9h1.9v1.9h-1.9zM279.3 237.8h1.9v1.9h-1.9zM278.5 237.6h1.9v1.9h-1.9zM279.2 237.8h1.9v1.9h-1.9zM279.1 237.9h1.9v1.9h-1.9zM279.3 237.6h1.9v1.9h-1.9zM279.6 237.5h1.9v1.9h-1.9zM280.3 237.8h1.9v1.9h-1.9zM279.9 237.8h1.9v1.9h-1.9zM280.2 237.9h1.9v1.9h-1.9zM280.2 237.7h1.9v1.9h-1.9zM279.5 237.6h1.9v1.9h-1.9zM280.2 237.6h1.9v1.9h-1.9zM279.8 237.8h1.9v1.9h-1.9zM280.6 237.6h1.9v1.9h-1.9zM280.5 237.7h1.9v1.9h-1.9zM280.3 237.9h1.9v1.9h-1.9zM281.0 237.8h1.9v1.9h-1.9zM280.9 237.7h1.9v1.9h-1.9zM281.2 238.0h1.9v1.9h-1.9zM281.3 237.9h1.9v1.9h-1.9zM281.5 237.7h1.9v1.9h-1.9zM281.3 237.7h1.9v1.9h-1.9zM281.2 237.7h1.9v1.9h-1.9zM281.3 237.8h1.9v1.9h-1.9zM282.1 237.8h1.9v1.9h-1.9zM281.6 237.9h1.9v1.9h-1.9zM282.0 238.1h1.9v1.9h-1.9zM281.6 237.8h1.9v1.9h-1.9zM282.0 237.7h1.9v1.9h-1.9zM282.1 237.8h1.9v1.9h-1.9zM282.2 237.7h1.9v1.9h-1.9zM282.5 238.3h1.9v1.9h-1.9zM283.0 237.7h1.9v1.9h-1.9zM282.4 237.6h1.9v1.9h-1.9zM282.7 237.6h1.9v1.9h-1.9zM282.6 237.7h1.9v1.9h-1.9zM283.4 237.8h1.9v1.9h-1.9zM283.5 237.8h1.9v1.9h-1.9zM283.6 237.8h1.9v1.9h-1.9zM283.7 237.9h1.9v1.9h-1.9zM283.8 237.7h1.9v1.9h-1.9zM283.4 237.9h1.9v1.9h-1.9zM283.9 237.9h1.9v1.9h-1.9zM283.7 237.8h1.9v1.9h-1.9zM284.1 237.9h1.9v1.9h-1.9zM284.4 237.8h1.9v1.9h-1.9zM284.1 237.9h1.9v1.9h-1.9zM284.4 237.9h1.9v1.9h-1.9zM284.6 237.6h1.9v1.9h-1.9zM284.6 237.5h1.9v1.9h-1.9zM285.2 237.6h1.9v1.9h-1.9zM284.7 237.6h1.9v1.9h-1.9zM284.6 238.0h1.9v1.9h-1.9zM285.2 237.9h1.9v1.9h-1.9zM285.5 237.9h1.9v1.9h-1.9zM285.7 237.6h1.9v1.9h-1.9zM286.0 237.8h1.9v1.9h-1.9zM285.8 237.8h1.9v1.9h-1.9zM285.7 237.8h1.9v1.9h-1.9zM286.0 237.5h1.9v1.9h-1.9zM286.3 237.7h1.9v1.9h-1.9zM285.9 237.8h1.9v1.9h-1.9zM286.1 237.9h1.9v1.9h-1.9zM286.4 237.7h1.9v1.9h-1.9zM286.1 237.7h1.9v1.9h-1.9zM286.6 238.0h1.9v1.9h-1.9zM286.6 237.9h1.9v1.9h-1.9zM287.0 238.1h1.9v1.9h-1.9zM287.1 237.8h1.9v1.9h-1.9zM286.8 237.6h1.9v1.9h-1.9zM287.2 237.9h1.9v1.9h-1.9zM287.0 237.8h1.9v1.9h-1.9zM287.2 237.8h1.9v1.9h-1.9zM287.4 237.6h1.9v1.9h-1.9zM287.7 237.6h1.9v1.9h-1.9zM287.9 237.7h1.9v1.9h-1.9zM287.5 237.4h1.9v1.9h-1.9zM287.8 238.0h1.9v1.9h-1.9zM288.1 237.7h1.9v1.9h-1.9zM288.0 237.7h1.9v1.9h-1.9zM288.7 237.9h1.9v1.9h-1.9zM288.2 237.4h1.9v1.9h-1.9zM288.7 237.9h1.9v1.9h-1.9zM288.5 237.7h1.9v1.9h-1.9zM289.0 237.9h1.9v1.9h-1.9zM288.6 237.8h1.9v1.9h-1.9zM288.8 237.8h1.9v1.9h-1.9zM288.8 237.7h1.9v1.9h-1.9zM289.3 237.9h1.9v1.9h-1.9zM289.6 237.5h1.9v1.9h-1.9zM289.6 237.4h1.9v1.9h-1.9zM289.1 237.8h1.9v1.9h-1.9zM289.8 237.6h1.9v1.9h-1.9zM289.9 237.6h1.9v1.9h-1.9zM289.8 237.7h1.9v1.9h-1.9zM290.1 237.6h1.9v1.9h-1.9zM289.9 237.8h1.9v1.9h-1.9zM290.4 237.3h1.9v1.9h-1.9zM290.7 237.6h1.9v1.9h-1.9zM290.5 237.9h1.9v1.9h-1.9zM290.5 237.7h1.9v1.9h-1.9zM291.0 237.7h1.9v1.9h-1.9zM290.2 237.7h1.9v1.9h-1.9zM291.1 237.9h1.9v1.9h-1.9zM291.7 237.6h1.9v1.9h-1.9zM290.9 237.8h1.9v1.9h-1.9zM291.3 237.7h1.9v1.9h-1.9zM291.9 237.6h1.9v1.9h-1.9zM291.8 237.7h1.9v1.9h-1.9zM291.3 237.7h1.9v1.9h-1.9zM292.2 237.5h1.9v1.9h-1.9zM292.3 237.8h1.9v1.9h-1.9zM292.0 237.8h1.9v1.9h-1.9zM292.1 237.7h1.9v1.9h-1.9zM292.2 237.9h1.9v1.9h-1.9zM292.3 237.8h1.9v1.9h-1.9zM292.3 237.7h1.9v1.9h-1.9zM292.8 237.8h1.9v1.9h-1.9zM292.8 237.7h1.9v1.9h-1.9zM292.4 237.6h1.9v1.9h-1.9zM293.0 238.0h1.9v1.9h-1.9zM292.9 237.7h1.9v1.9h-1.9zM293.3 237.4h1.9v1.9h-1.9zM292.8 237.6h1.9v1.9h-1.9zM293.7 237.6h1.9v1.9h-1.9zM293.5 237.7h1.9v1.9h-1.9zM293.3 237.4h1.9v1.9h-1.9zM293.7 237.8h1.9v1.9h-1.9zM294.4 237.3h1.9v1.9h-1.9zM293.7 237.2h1.9v1.9h-1.9zM294.5 237.4h1.9v1.9h-1.9zM294.1 237.3h1.9v1.9h-1.9zM294.3 237.0h1.9v1.9h-1.9zM294.6 237.1h1.9v1.9h-1.9zM294.6 237.3h1.9v1.9h-1.9zM294.8 237.1h1.9v1.9h-1.9zM294.8 236.8h1.9v1.9h-1.9zM295.2 237.1h1.9v1.9h-1.9zM295.3 236.5h1.9v1.9h-1.9zM295.0 236.6h1.9v1.9h-1.9zM295.7 236.4h1.9v1.9h-1.9zM295.5 236.2h1.9v1.9h-1.9zM295.6 236.7h1.9v1.9h-1.9zM295.4 236.5h1.9v1.9h-1.9zM295.8 236.3h1.9v1.9h-1.9zM295.7 236.0h1.9v1.9h-1.9zM296.1 236.3h1.9v1.9h-1.9zM295.6 236.0h1.9v1.9h-1.9zM296.5 235.7h1.9v1.9h-1.9zM296.1 235.4h1.9v1.9h-1.9zM296.2 235.4h1.9v1.9h-1.9zM296.7 235.2h1.9v1.9h-1.9zM296.6 235.6h1.9v1.9h-1.9zM296.8 235.1h1.9v1.9h-1.9zM297.2 235.0h1.9v1.9h-1.9zM296.7 234.9h1.9v1.9h-1.9zM297.0 235.1h1.9v1.9h-1.9zM297.1 234.2h1.9v1.9h-1.9zM297.0 234.5h1.9v1.9h-1.9zM297.2 234.5h1.9v1.9h-1.9zM297.2 234.7h1.9v1.9h-1.9zM298.2 234.2h1.9v1.9h-1.9zM298.0 234.1h1.9v1.9h-1.9zM297.7 234.4h1.9v1.9h-1.9zM297.9 234.3h1.9v1.9h-1.9zM298.5 233.9h1.9v1.9h-1.9zM298.6 233.1h1.9v1.9h-1.9zM298.2 233.2h1.9v1.9h-1.9zM298.1 232.9h1.9v1.9h-1.9zM298.6 232.7h1.9v1.9h-1.9zM298.7 232.6h1.9v1.9h-1.9zM298.9 232.9h1.9v1.9h-1.9zM299.1 232.7h1.9v1.9h-1.9zM299.1 232.8h1.9v1.9h-1.9zM299.5 232.2h1.9v1.9h-1.9zM299.1 232.4h1.9v1.9h-1.9zM299.3 232.1h1.9v1.9h-1.9zM299.4 231.6h1.9v1.9h-1.9zM299.5 232.0h1.9v1.9h-1.9zM299.4 231.1h1.9v1.9h-1.9zM299.3 231.9h1.9v1.9h-1.9zM300.0 231.8h1.9v1.9h-1.9zM299.9 231.5h1.9v1.9h-1.9zM300.4 231.2h1.9v1.9h-1.9zM300.6 231.1h1.9v1.9h-1.9zM300.5 231.2h1.9v1.9h-1.9zM300.6 230.5h1.9v1.9h-1.9zM300.6 231.5h1.9v1.9h-1.9zM300.7 231.5h1.9v1.9h-1.9zM300.9 230.4h1.9v1.9h-1.9zM301.3 230.2h1.9v1.9h-1.9zM300.7 229.9h1.9v1.9h-1.9zM301.0 230.8h1.9v1.9h-1.9zM301.2 230.6h1.9v1.9h-1.9zM300.9 229.7h1.9v1.9h-1.9zM302.0 229.4h1.9v1.9h-1.9zM301.8 229.8h1.9v1.9h-1.9zM302.0 229.1h1.9v1.9h-1.9zM302.0 229.6h1.9v1.9h-1.9zM302.1 229.2h1.9v1.9h-1.9zM302.1 228.9h1.9v1.9h-1.9zM302.1 229.0h1.9v1.9h-1.9zM302.4 228.3h1.9v1.9h-1.9zM302.2 228.7h1.9v1.9h-1.9zM302.7 228.8h1.9v1.9h-1.9zM302.8 228.6h1.9v1.9h-1.9zM303.1 227.2h1.9v1.9h-1.9zM303.4 227.7h1.9v1.9h-1.9zM303.3 227.9h1.9v1.9h-1.9zM303.0 227.9h1.9v1.9h-1.9zM302.9 227.6h1.9v1.9h-1.9zM303.8 227.3h1.9v1.9h-1.9zM303.9 227.3h1.9v1.9h-1.9zM304.0 226.7h1.9v1.9h-1.9zM303.9 225.6h1.9v1.9h-1.9zM304.1 226.4h1.9v1.9h-1.9zM303.8 226.1h1.9v1.9h-1.9zM303.9 226.1h1.9v1.9h-1.9zM304.5 226.0h1.9v1.9h-1.9zM304.9 225.9h1.9v1.9h-1.9zM304.5 225.4h1.9v1.9h-1.9zM304.3 224.7h1.9v1.9h-1.9zM304.5 224.6h1.9v1.9h-1.9zM304.6 224.9h1.9v1.9h-1.9zM304.9 224.8h1.9v1.9h-1.9zM305.0 224.6h1.9v1.9h-1.9zM305.0 224.3h1.9v1.9h-1.9zM305.0 225.0h1.9v1.9h-1.9zM305.5 224.0h1.9v1.9h-1.9zM305.6 223.0h1.9v1.9h-1.9zM306.0 223.3h1.9v1.9h-1.9zM305.5 223.4h1.9v1.9h-1.9zM305.8 222.9h1.9v1.9h-1.9zM305.7 222.3h1.9v1.9h-1.9zM306.2 222.2h1.9v1.9h-1.9zM306.3 221.5h1.9v1.9h-1.9zM306.8 221.3h1.9v1.9h-1.9zM306.4 221.3h1.9v1.9h-1.9zM306.6 221.1h1.9v1.9h-1.9zM306.4 220.5h1.9v1.9h-1.9zM306.8 220.2h1.9v1.9h-1.9zM307.4 219.8h1.9v1.9h-1.9zM307.0 219.6h1.9v1.9h-1.9zM307.5 219.5h1.9v1.9h-1.9zM307.8 219.5h1.9v1.9h-1.9zM307.6 219.4h1.9v1.9h-1.9zM307.2 219.6h1.9v1.9h-1.9zM307.4 218.4h1.9v1.9h-1.9zM308.3 218.4h1.9v1.9h-1.9zM307.7 217.9h1.9v1.9h-1.9zM308.1 218.8h1.9v1.9h-1.9zM308.0 216.9h1.9v1.9h-1.9zM307.7 218.0h1.9v1.9h-1.9zM308.6 217.3h1.9v1.9h-1.9zM308.9 216.7h1.9v1.9h-1.9zM308.7 217.0h1.9v1.9h-1.9zM308.8 216.9h1.9v1.9h-1.9zM308.7 215.6h1.9v1.9h-1.9zM308.9 215.9h1.9v1.9h-1.9zM308.8 216.3h1.9v1.9h-1.9zM309.2 214.7h1.9v1.9h-1.9zM308.0 214.7h1.9v1.9h-1.9zM308.5 214.7h1.9v1.9h-1.9zM308.4 214.4h1.9v1.9h-1.9zM308.4 214.3h1.9v1.9h-1.9zM308.5 213.9h1.9v1.9h-1.9zM308.9 212.9h1.9v1.9h-1.9zM309.2 212.8h1.9v1.9h-1.9zM308.9 213.2h1.9v1.9h-1.9zM309.1 212.2h1.9v1.9h-1.9zM309.1 211.1h1.9v1.9h-1.9zM309.3 211.2h1.9v1.9h-1.9zM309.5 211.4h1.9v1.9h-1.9zM309.4 211.0h1.9v1.9h-1.9zM309.8 211.2h1.9v1.9h-1.9zM310.2 210.6h1.9v1.9h-1.9zM310.2 210.4h1.9v1.9h-1.9zM310.8 210.5h1.9v1.9h-1.9zM310.2 210.0h1.9v1.9h-1.9zM310.5 209.2h1.9v1.9h-1.9zM310.4 208.8h1.9v1.9h-1.9zM310.8 208.0h1.9v1.9h-1.9zM310.9 208.2h1.9v1.9h-1.9zM311.0 208.0h1.9v1.9h-1.9zM310.9 207.1h1.9v1.9h-1.9zM311.2 206.7h1.9v1.9h-1.9zM310.7 206.0h1.9v1.9h-1.9zM311.5 207.0h1.9v1.9h-1.9zM311.6 205.8h1.9v1.9h-1.9zM311.6 206.4h1.9v1.9h-1.9zM311.6 205.4h1.9v1.9h-1.9zM311.9 204.9h1.9v1.9h-1.9zM311.8 204.5h1.9v1.9h-1.9zM311.7 204.5h1.9v1.9h-1.9zM312.0 204.5h1.9v1.9h-1.9zM312.4 203.6h1.9v1.9h-1.9zM311.9 202.7h1.9v1.9h-1.9zM312.8 203.6h1.9v1.9h-1.9zM312.9 202.3h1.9v1.9h-1.9zM312.9 202.4h1.9v1.9h-1.9zM312.8 202.4h1.9v1.9h-1.9zM313.1 202.4h1.9v1.9h-1.9zM313.1 201.1h1.9v1.9h-1.9zM313.3 200.4h1.9v1.9h-1.9zM313.0 200.4h1.9v1.9h-1.9zM313.2 200.4h1.9v1.9h-1.9zM313.3 199.5h1.9v1.9h-1.9zM313.6 199.7h1.9v1.9h-1.9zM313.9 199.5h1.9v1.9h-1.9zM313.5 198.4h1.9v1.9h-1.9zM313.7 197.8h1.9v1.9h-1.9zM314.1 198.2h1.9v1.9h-1.9zM314.6 197.9h1.9v1.9h-1.9zM314.6 196.8h1.9v1.9h-1.9zM314.2 196.7h1.9v1.9h-1.9zM314.1 196.1h1.9v1.9h-1.9zM314.3 195.9h1.9v1.9h-1.9zM314.9 195.6h1.9v1.9h-1.9zM314.4 194.8h1.9v1.9h-1.9zM315.0 195.2h1.9v1.9h-1.9zM315.1 194.5h1.9v1.9h-1.9zM315.2 194.5h1.9v1.9h-1.9zM315.2 193.8h1.9v1.9h-1.9zM315.2 193.0h1.9v1.9h-1.9zM315.3 192.3h1.9v1.9h-1.9zM316.0 192.0h1.9v1.9h-1.9zM315.4 191.6h1.9v1.9h-1.9zM315.7 191.7h1.9v1.9h-1.9zM316.4 191.4h1.9v1.9h-1.9zM315.7 190.3h1.9v1.9h-1.9zM316.5 190.5h1.9v1.9h-1.9zM316.5 189.3h1.9v1.9h-1.9zM316.5 189.4h1.9v1.9h-1.9zM317.0 189.0h1.9v1.9h-1.9zM317.1 188.2h1.9v1.9h-1.9zM316.8 188.1h1.9v1.9h-1.9zM317.0 187.9h1.9v1.9h-1.9zM317.1 186.8h1.9v1.9h-1.9zM317.0 187.0h1.9v1.9h-1.9zM317.4 186.4h1.9v1.9h-1.9zM317.8 187.2h1.9v1.9h-1.9zM317.7 186.0h1.9v1.9h-1.9zM317.6 185.8h1.9v1.9h-1.9zM317.9 185.9h1.9v1.9h-1.9zM317.5 185.2h1.9v1.9h-1.9zM318.5 184.6h1.9v1.9h-1.9zM318.1 184.8h1.9v1.9h-1.9zM318.6 184.4h1.9v1.9h-1.9zM318.2 184.1h1.9v1.9h-1.9zM318.2 183.7h1.9v1.9h-1.9zM318.7 182.6h1.9v1.9h-1.9zM318.4 182.7h1.9v1.9h-1.9zM319.0 182.9h1.9v1.9h-1.9zM319.2 182.2h1.9v1.9h-1.9zM318.9 181.8h1.9v1.9h-1.9zM318.9 181.8h1.9v1.9h-1.9zM319.3 181.7h1.9v1.9h-1.9zM319.5 180.3h1.9v1.9h-1.9zM319.5 180.9h1.9v1.9h-1.9zM319.4 179.7h1.9v1.9h-1.9zM319.9 179.4h1.9v1.9h-1.9zM320.3 180.3h1.9v1.9h-1.9zM320.0 179.3h1.9v1.9h-1.9zM320.2 178.7h1.9v1.9h-1.9zM320.5 177.5h1.9v1.9h-1.9zM320.4 177.9h1.9v1.9h-1.9zM320.6 177.1h1.9v1.9h-1.9zM320.7 176.7h1.9v1.9h-1.9zM320.9 176.6h1.9v1.9h-1.9zM320.8 176.5h1.9v1.9h-1.9z"/>
<path fill="#12b09e" d="M233.3 287.1h1.9v1.9h-1.9zM233.4 286.7h1.9v1.9h-1.9zM233.2 286.3h1.9v1.9h-1.9zM233.4 286.2h1.9v1.9h-1.9zM233.8 285.3h1.9v1.9h-1.9zM234.1 284.9h1.9v1.9h-1.9zM234.3 285.2h1.9v1.9h-1.9zM234.2 283.7h1.9v1.9h-1.9zM234.1 284.5h1.9v1.9h-1.9zM234.1 284.1h1.9v1.9h-1.9zM234.5 282.7h1.9v1.9h-1.9zM234.1 283.3h1.9v1.9h-1.9zM234.7 281.7h1.9v1.9h-1.9zM234.3 281.9h1.9v1.9h-1.9zM235.0 281.1h1.9v1.9h-1.9zM234.9 280.3h1.9v1.9h-1.9zM234.9 279.9h1.9v1.9h-1.9zM234.8 279.8h1.9v1.9h-1.9zM235.3 279.2h1.9v1.9h-1.9zM234.9 278.4h1.9v1.9h-1.9zM235.7 278.5h1.9v1.9h-1.9zM235.5 278.1h1.9v1.9h-1.9zM236.0 277.7h1.9v1.9h-1.9zM236.1 277.0h1.9v1.9h-1.9zM236.1 276.8h1.9v1.9h-1.9zM235.8 276.3h1.9v1.9h-1.9zM236.1 276.2h1.9v1.9h-1.9zM236.4 275.5h1.9v1.9h-1.9zM236.8 274.5h1.9v1.9h-1.9zM236.8 274.3h1.9v1.9h-1.9zM236.5 274.7h1.9v1.9h-1.9zM236.9 274.4h1.9v1.9h-1.9zM236.9 273.6h1.9v1.9h-1.9zM237.5 273.3h1.9v1.9h-1.9zM237.6 272.8h1.9v1.9h-1.9zM237.4 272.6h1.9v1.9h-1.9zM237.7 272.4h1.9v1.9h-1.9zM237.6 271.4h1.9v1.9h-1.9zM238.2 271.7h1.9v1.9h-1.9zM237.8 270.8h1.9v1.9h-1.9zM238.3 270.1h1.9v1.9h-1.9zM237.9 270.9h1.9v1.9h-1.9zM238.4 270.1h1.9v1.9h-1.9zM238.4 270.6h1.9v1.9h-1.9zM238.4 269.1h1.9v1.9h-1.9zM238.5 268.9h1.9v1.9h-1.9zM238.9 269.0h1.9v1.9h-1.9zM239.0 267.7h1.9v1.9h-1.9zM238.8 268.5h1.9v1.9h-1.9zM238.7 268.0h1.9v1.9h-1.9zM239.0 267.2h1.9v1.9h-1.9zM239.2 267.6h1.9v1.9h-1.9zM239.2 266.9h1.9v1.9h-1.9zM239.5 266.9h1.9v1.9h-1.9zM239.6 266.5h1.9v1.9h-1.9zM239.3 266.0h1.9v1.9h-1.9zM239.6 266.7h1.9v1.9h-1.9zM239.8 266.0h1.9v1.9h-1.9zM239.8 264.8h1.9v1.9h-1.9zM240.2 264.9h1.9v1.9h-1.9zM240.3 264.8h1.9v1.9h-1.9zM240.6 264.7h1.9v1.9h-1.9zM240.1 264.0h1.9v1.9h-1.9zM240.8 263.5h1.9v1.9h-1.9zM240.5 263.5h1.9v1.9h-1.9zM240.9 263.6h1.9v1.9h-1.9zM240.9 263.2h1.9v1.9h-1.9zM241.0 262.6h1.9v1.9h-1.9zM241.4 262.5h1.9v1.9h-1.9zM241.3 262.0h1.9v1.9h-1.9zM241.5 262.4h1.9v1.9h-1.9zM240.9 261.5h1.9v1.9h-1.9zM241.7 261.6h1.9v1.9h-1.9zM242.2 261.6h1.9v1.9h-1.9zM242.4 261.3h1.9v1.9h-1.9zM242.3 261.5h1.9v1.9h-1.9zM241.8 261.1h1.9v1.9h-1.9zM242.0 260.3h1.9v1.9h-1.9zM242.6 259.9h1.9v1.9h-1.9zM241.9 259.9h1.9v1.9h-1.9zM242.1 259.3h1.9v1.9h-1.9zM242.4 259.3h1.9v1.9h-1.9zM242.7 258.7h1.9v1.9h-1.9zM242.6 258.2h1.9v1.9h-1.9zM242.9 258.4h1.9v1.9h-1.9zM243.3 258.4h1.9v1.9h-1.9zM243.6 257.7h1.9v1.9h-1.9zM243.5 258.0h1.9v1.9h-1.9zM243.5 256.5h1.9v1.9h-1.9zM243.9 257.3h1.9v1.9h-1.9zM244.0 256.9h1.9v1.9h-1.9zM243.8 256.6h1.9v1.9h-1.9zM244.3 256.8h1.9v1.9h-1.9zM244.2 256.6h1.9v1.9h-1.9zM244.4 255.9h1.9v1.9h-1.9zM244.5 256.2h1.9v1.9h-1.9zM244.6 255.4h1.9v1.9h-1.9zM244.4 254.7h1.9v1.9h-1.9zM244.9 254.5h1.9v1.9h-1.9zM245.2 254.7h1.9v1.9h-1.9zM244.7 254.5h1.9v1.9h-1.9zM245.3 254.9h1.9v1.9h-1.9zM245.2 253.5h1.9v1.9h-1.9zM245.2 253.7h1.9v1.9h-1.9zM245.6 253.3h1.9v1.9h-1.9zM245.4 253.2h1.9v1.9h-1.9zM245.3 252.9h1.9v1.9h-1.9zM245.8 253.2h1.9v1.9h-1.9zM245.8 252.2h1.9v1.9h-1.9zM246.3 252.2h1.9v1.9h-1.9zM245.6 251.6h1.9v1.9h-1.9zM246.3 251.9h1.9v1.9h-1.9zM246.4 251.8h1.9v1.9h-1.9zM247.0 251.9h1.9v1.9h-1.9zM246.5 251.1h1.9v1.9h-1.9zM246.5 251.3h1.9v1.9h-1.9zM247.0 251.1h1.9v1.9h-1.9zM247.5 250.8h1.9v1.9h-1.9zM246.8 250.7h1.9v1.9h-1.9zM247.4 249.9h1.9v1.9h-1.9zM246.9 250.3h1.9v1.9h-1.9zM247.2 250.0h1.9v1.9h-1.9zM247.6 249.7h1.9v1.9h-1.9zM247.5 249.6h1.9v1.9h-1.9zM247.6 249.5h1.9v1.9h-1.9zM247.7 249.3h1.9v1.9h-1.9zM247.9 248.8h1.9v1.9h-1.9zM248.4 249.3h1.9v1.9h-1.9zM247.9 249.2h1.9v1.9h-1.9zM248.3 248.6h1.9v1.9h-1.9zM248.5 248.5h1.9v1.9h-1.9zM248.9 248.0h1.9v1.9h-1.9zM248.5 248.0h1.9v1.9h-1.9zM249.0 248.1h1.9v1.9h-1.9zM248.9 248.1h1.9v1.9h-1.9zM249.3 247.6h1.9v1.9h-1.9zM249.0 247.5h1.9v1.9h-1.9zM249.4 247.2h1.9v1.9h-1.9zM249.6 247.1h1.9v1.9h-1.9zM249.5 247.4h1.9v1.9h-1.9zM249.6 247.0h1.9v1.9h-1.9zM249.8 246.6h1.9v1.9h-1.9zM249.9 246.6h1.9v1.9h-1.9zM250.3 246.5h1.9v1.9h-1.9zM250.1 246.3h1.9v1.9h-1.9zM250.0 246.3h1.9v1.9h-1.9zM251.0 245.8h1.9v1.9h-1.9zM250.2 245.5h1.9v1.9h-1.9zM250.9 245.9h1.9v1.9h-1.9zM251.1 245.2h1.9v1.9h-1.9zM250.7 244.9h1.9v1.9h-1.9zM251.3 245.2h1.9v1.9h-1.9zM251.3 245.8h1.9v1.9h-1.9zM251.2 246.0h1.9v1.9h-1.9zM251.4 245.8h1.9v1.9h-1.9zM251.2 244.5h1.9v1.9h-1.9zM251.6 245.3h1.9v1.9h-1.9zM250.9 244.6h1.9v1.9h-1.9zM251.7 244.1h1.9v1.9h-1.9zM252.2 244.6h1.9v1.9h-1.9zM251.8 244.1h1.9v1.9h-1.9zM251.9 244.6h1.9v1.9h-1.9zM252.2 244.5h1.9v1.9h-1.9zM252.6 244.1h1.9v1.9h-1.9zM252.6 243.9h1.9v1.9h-1.9zM252.6 244.2h1.9v1.9h-1.9zM252.6 244.0h1.9v1.9h-1.9zM252.6 244.4h1.9v1.9h-1.9zM253.0 243.8h1.9v1.9h-1.9zM253.0 242.9h1.9v1.9h-1.9zM253.5 243.1h1.9v1.9h-1.9zM253.4 243.1h1.9v1.9h-1.9zM253.6 243.6h1.9v1.9h-1.9zM253.6 243.0h1.9v1.9h-1.9zM253.3 243.4h1.9v1.9h-1.9zM253.6 243.4h1.9v1.9h-1.9zM253.8 244.0h1.9v1.9h-1.9zM253.6 243.2h1.9v1.9h-1.9zM254.0 242.6h1.9v1.9h-1.9zM254.0 243.1h1.9v1.9h-1.9zM254.0 242.7h1.9v1.9h-1.9zM254.6 243.1h1.9v1.9h-1.9zM254.6 242.3h1.9v1.9h-1.9zM254.3 242.8h1.9v1.9h-1.9zM254.7 242.0h1.9v1.9h-1.9zM255.3 242.7h1.9v1.9h-1.9zM255.1 242.1h1.9v1.9h-1.9zM255.4 242.9h1.9v1.9h-1.9zM254.9 242.3h1.9v1.9h-1.9zM255.9 242.3h1.9v1.9h-1.9zM255.4 241.8h1.9v1.9h-1.9zM255.6 241.4h1.9v1.9h-1.9zM255.8 243.0h1.9v1.9h-1.9zM256.1 241.7h1.9v1.9h-1.9zM256.2 240.9h1.9v1.9h-1.9zM256.3 242.3h1.9v1.9h-1.9zM256.3 241.6h1.9v1.9h-1.9zM256.3 241.1h1.9v1.9h-1.9zM256.2 241.5h1.9v1.9h-1.9zM256.2 241.1h1.9v1.9h-1.9zM256.5 241.4h1.9v1.9h-1.9zM256.3 241.1h1.9v1.9h-1.9zM256.8 240.9h1.9v1.9h-1.9zM256.9 240.3h1.9v1.9h-1.9zM256.9 240.3h1.9v1.9h-1.9zM257.2 240.7h1.9v1.9h-1.9zM257.4 240.4h1.9v1.9h-1.9zM257.0 240.9h1.9v1.9h-1.9zM257.5 241.2h1.9v1.9h-1.9zM257.4 240.1h1.9v1.9h-1.9zM257.6 239.9h1.9v1.9h-1.9zM257.6 240.4h1.9v1.9h-1.9zM257.9 240.5h1.9v1.9h-1.9zM257.4 240.4h1.9v1.9h-1.9zM257.8 240.4h1.9v1.9h-1.9zM258.3 239.6h1.9v1.9h-1.9zM257.9 239.5h1.9v1.9h-1.9zM258.0 239.5h1.9v1.9h-1.9zM258.3 239.7h1.9v1.9h-1.9zM258.2 239.5h1.9v1.9h-1.9zM258.5 239.5h1.9v1.9h-1.9zM259.1 239.8h1.9v1.9h-1.9zM259.0 239.2h1.9v1.9h-1.9zM258.7 239.5h1.9v1.9h-1.9zM259.1 239.8h1.9v1.9h-1.9zM259.2 239.5h1.9v1.9h-1.9zM259.1 239.6h1.9v1.9h-1.9zM258.7 240.0h1.9v1.9h-1.9zM259.9 239.7h1.9v1.9h-1.9zM259.6 239.4h1.9v1.9h-1.9zM259.8 239.6h1.9v1.9h-1.9zM260.0 239.6h1.9v1.9h-1.9zM260.2 238.7h1.9v1.9h-1.9zM259.8 239.3h1.9v1.9h-1.9zM260.0 239.2h1.9v1.9h-1.9zM260.1 239.2h1.9v1.9h-1.9zM260.1 239.3h1.9v1.9h-1.9zM260.2 239.1h1.9v1.9h-1.9zM260.4 239.1h1.9v1.9h-1.9zM260.6 239.4h1.9v1.9h-1.9zM260.8 239.2h1.9v1.9h-1.9zM260.7 238.9h1.9v1.9h-1.9zM261.2 239.6h1.9v1.9h-1.9zM260.9 238.7h1.9v1.9h-1.9zM260.7 239.3h1.9v1.9h-1.9zM261.4 239.3h1.9v1.9h-1.9zM261.3 239.0h1.9v1.9h-1.9zM261.0 239.1h1.9v1.9h-1.9zM262.1 239.0h1.9v1.9h-1.9zM262.0 239.1h1.9v1.9h-1.9zM261.9 238.6h1.9v1.9h-1.9zM262.3 238.5h1.9v1.9h-1.9zM262.4 238.9h1.9v1.9h-1.9zM262.2 238.5h1.9v1.9h-1.9zM262.3 238.8h1.9v1.9h-1.9zM262.6 238.9h1.9v1.9h-1.9zM262.2 238.7h1.9v1.9h-1.9zM262.7 239.0h1.9v1.9h-1.9zM262.7 238.5h1.9v1.9h-1.9zM263.1 238.5h1.9v1.9h-1.9zM263.1 238.5h1.9v1.9h-1.9zM263.2 238.4h1.9v1.9h-1.9zM263.1 238.9h1.9v1.9h-1.9zM263.1 238.8h1.9v1.9h-1.9zM263.4 238.5h1.9v1.9h-1.9zM263.6 238.6h1.9v1.9h-1.9zM263.8 238.5h1.9v1.9h-1.9zM263.6 238.3h1.9v1.9h-1.9zM263.9 238.2h1.9v1.9h-1.9zM264.6 238.4h1.9v1.9h-1.9zM264.2 238.0h1.9v1.9h-1.9zM264.1 238.4h1.9v1.9h-1.9zM264.5 238.3h1.9v1.9h-1.9zM264.4 238.2h1.9v1.9h-1.9zM264.4 238.6h1.9v1.9h-1.9zM265.0 238.1h1.9v1.9h-1.9zM265.1 238.3h1.9v1.9h-1.9zM265.4 238.0h1.9v1.9h-1.9zM265.3 238.2h1.9v1.9h-1.9zM265.1 238.1h1.9v1.9h-1.9zM265.1 238.2h1.9v1.9h-1.9zM265.4 238.4h1.9v1.9h-1.9zM265.7 238.0h1.9v1.9h-1.9zM265.3 238.0h1.9v1.9h-1.9zM265.9 238.2h1.9v1.9h-1.9zM265.4 237.9h1.9v1.9h-1.9zM265.5 237.8h1.9v1.9h-1.9zM266.1 237.9h1.9v1.9h-1.9zM266.2 237.7h1.9v1.9h-1.9zM266.1 237.8h1.9v1.9h-1.9zM266.2 237.8h1.9v1.9h-1.9zM266.1 238.0h1.9v1.9h-1.9zM266.7 238.0h1.9v1.9h-1.9zM266.8 237.9h1.9v1.9h-1.9zM267.1 237.9h1.9v1.9h-1.9zM267.3 237.8h1.9v1.9h-1.9zM267.1 237.9h1.9v1.9h-1.9zM267.1 238.2h1.9v1.9h-1.9zM267.2 238.1h1.9v1.9h-1.9zM267.4 237.8h1.9v1.9h-1.9zM267.8 237.7h1.9v1.9h-1.9zM268.2 237.9h1.9v1.9h-1.9zM267.7 237.7h1.9v1.9h-1.9zM267.7 237.9h1.9v1.9h-1.9zM268.1 238.0h1.9v1.9h-1.9zM268.4 237.6h1.9v1.9h-1.9zM268.5 238.1h1.9v1.9h-1.9zM268.3 237.7h1.9v1.9h-1.9zM268.9 237.5h1.9v1.9h-1.9zM269.0 237.4h1.9v1.9h-1.9zM268.7 237.7h1.9v1.9h-1.9zM269.2 237.6h1.9v1.9h-1.9zM269.8 237.7h1.9v1.9h-1.9zM269.1 237.7h1.9v1.9h-1.9zM269.3 237.7h1.9v1.9h-1.9zM269.1 237.8h1.9v1.9h-1.9zM269.6 237.9h1.9v1.9h-1.9zM269.6 237.7h1.9v1.9h-1.9zM269.6 237.7h1.9v1.9h-1.9zM270.2 238.0h1.9v1.9h-1.9zM269.9 237.8h1.9v1.9h-1.9zM269.8 237.6h1.9v1.9h-1.9zM269.6 237.6h1.9v1.9h-1.9zM270.2 237.9h1.9v1.9h-1.9zM270.5 237.7h1.9v1.9h-1.9zM270.4 237.7h1.9v1.9h-1.9zM270.7 237.7h1.9v1.9h-1.9zM270.9 238.0h1.9v1.9h-1.9zM271.2 237.9h1.9v1.9h-1.9zM270.8 237.9h1.9v1.9h-1.9zM270.9 237.6h1.9v1.9h-1.9zM271.4 237.7h1.9v1.9h-1.9zM271.6 237.8h1.9v1.9h-1.9zM271.7 237.8h1.9v1.9h-1.9zM271.8 237.7h1.9v1.9h-1.9zM271.7 237.8h1.9v1.9h-1.9zM271.8 237.6h1.9v1.9h-1.9zM271.4 237.7h1.9v1.9h-1.9zM272.0 238.0h1.9v1.9h-1.9zM272.2 238.1h1.9v1.9h-1.9zM272.5 237.7h1.9v1.9h-1.9zM272.5 237.7h1.9v1.9h-1.9zM272.8 237.8h1.9v1.9h-1.9zM272.6 237.8h1.9v1.9h-1.9zM272.7 237.8h1.9v1.9h-1.9zM272.7 237.9h1.9v1.9h-1.9zM273.0 237.9h1.9v1.9h-1.9zM273.3 237.6h1.9v1.9h-1.9zM273.4 237.8h1.9v1.9h-1.9zM273.5 237.8h1.9v1.9h-1.9zM273.4 237.5h1.9v1.9h-1.9zM273.5 237.8h1.9v1.9h-1.9zM273.2 237.6h1.9v1.9h-1.9zM273.5 237.8h1.9v1.9h-1.9zM273.7 237.7h1.9v1.9h-1.9zM274.1 237.7h1.9v1.9h-1.9zM273.7 237.9h1.9v1.9h-1.9zM274.7 238.0h1.9v1.9h-1.9zM274.2 237.7h1.9v1.9h-1.9zM275.1 237.6h1.9v1.9h-1.9zM274.8 237.8h1.9v1.9h-1.9zM275.0 237.8h1.9v1.9h-1.9zM274.7 237.7h1.9v1.9h-1.9zM275.0 237.7h1.9v1.9h-1.9zM275.4 237.8h1.9v1.9h-1.9zM275.1 237.9h1.9v1.9h-1.9zM275.1 237.6h1.9v1.9h-1.9zM275.6 237.8h1.9v1.9h-1.9zM276.0 237.8h1.9v1.9h-1.9zM276.1 237.6h1.9v1.9h-1.9zM275.4 237.8h1.9v1.9h-1.9zM275.8 237.7h1.9v1.9h-1.9zM276.4 237.9h1.9v1.9h-1.9zM275.8 237.7h1.9v1.9h-1.9zM276.1 237.8h1.9v1.9h-1.9zM276.5 237.9h1.9v1.9h-1.9zM276.2 237.8h1.9v1.9h-1.9zM276.2 237.8h1.9v1.9h-1.9zM277.2 237.9h1.9v1.9h-1.9zM277.0 237.9h1.9v1.9h-1.9zM277.0 237.8h1.9v1.9h-1.9zM277.1 237.8h1.9v1.9h-1.9zM277.1 237.7h1.9v1.9h-1.9zM277.1 237.6h1.9v1.9h-1.9zM277.6 237.7h1.9v1.9h-1.9zM277.5 238.0h1.9v1.9h-1.9zM277.8 237.5h1.9v1.9h-1.9zM278.2 237.6h1.9v1.9h-1.9zM278.2 237.8h1.9v1.9h-1.9zM277.8 237.5h1.9v1.9h-1.9zM278.0 237.8h1.9v1.9h-1.9zM278.4 237.8h1.9v1.9h-1.9zM278.6 237.9h1.9v1.9h-1.9zM278.8 238.0h1.9v1.9h-1.9zM278.8 237.9h1.9v1.9h-1.9zM278.7 237.9h1.9v1.9h-1.9zM279.0 237.9h1.9v1.9h-1.9zM279.1 237.6h1.9v1.9h-1.9zM278.9 237.8h1.9v1.9h-1.9zM279.0 238.0h1.9v1.9h-1.9zM279.7 237.8h1.9v1.9h-1.9zM279.6 237.6h1.9v1.9h-1.9zM279.5 237.8h1.9v1.9h-1.9zM279.6 237.5h1.9v1.9h-1.9zM279.9 237.9h1.9v1.9h-1.9zM280.0 237.7h1.9v1.9h-1.9zM280.3 237.6h1.9v1.9h-1.9zM280.3 238.1h1.9v1.9h-1.9zM280.1 237.9h1.9v1.9h-1.9zM280.3 237.8h1.9v1.9h-1.9zM280.4 237.8h1.9v1.9h-1.9zM280.5 237.4h1.9v1.9h-1.9zM280.9 237.8h1.9v1.9h-1.9zM280.6 237.8h1.9v1.9h-1.9zM280.7 237.9h1.9v1.9h-1.9zM281.2 237.7h1.9v1.9h-1.9zM281.4 237.9h1.9v1.9h-1.9zM281.1 237.6h1.9v1.9h-1.9zM280.9 237.8h1.9v1.9h-1.9zM282.1 237.7h1.9v1.9h-1.9zM281.2 238.1h1.9v1.9h-1.9zM281.4 237.6h1.9v1.9h-1.9zM282.0 237.7h1.9v1.9h-1.9zM282.5 237.7h1.9v1.9h-1.9zM282.0 237.6h1.9v1.9h-1.9zM282.1 237.9h1.9v1.9h-1.9zM282.3 237.8h1.9v1.9h-1.9zM282.3 237.8h1.9v1.9h-1.9zM282.7 237.6h1.9v1.9h-1.9zM283.0 237.9h1.9v1.9h-1.9zM282.7 237.4h1.9v1.9h-1.9zM283.0 237.7h1.9v1.9h-1.9zM283.5 238.0h1.9v1.9h-1.9zM283.1 237.6h1.9v1.9h-1.9zM283.4 237.7h1.9v1.9h-1.9zM283.5 237.7h1.9v1.9h-1.9zM284.1 237.8h1.9v1.9h-1.9zM283.7 237.7h1.9v1.9h-1.9zM283.6 237.4h1.9v1.9h-1.9zM284.2 237.6h1.9v1.9h-1.9zM284.3 237.5h1.9v1.9h-1.9zM283.6 237.7h1.9v1.9h-1.9zM284.4 237.8h1.9v1.9h-1.9zM284.0 238.0h1.9v1.9h-1.9zM284.7 237.8h1.9v1.9h-1.9zM283.9 237.8h1.9v1.9h-1.9zM284.1 237.7h1.9v1.9h-1.9zM285.1 237.8h1.9v1.9h-1.9zM285.1 237.8h1.9v1.9h-1.9zM285.3 237.7h1.9v1.9h-1.9zM285.0 237.8h1.9v1.9h-1.9zM286.0 237.8h1.9v1.9h-1.9zM285.0 237.5h1.9v1.9h-1.9zM285.8 237.9h1.9v1.9h-1.9zM285.8 237.5h1.9v1.9h-1.9zM285.4 237.9h1.9v1.9h-1.9zM286.2 237.6h1.9v1.9h-1.9zM286.1 237.7h1.9v1.9h-1.9zM285.9 237.6h1.9v1.9h-1.9zM286.4 238.0h1.9v1.9h-1.9zM286.7 237.9h1.9v1.9h-1.9zM286.5 237.8h1.9v1.9h-1.9zM286.5 238.0h1.9v1.9h-1.9zM286.5 237.9h1.9v1.9h-1.9zM286.8 237.8h1.9v1.9h-1.9zM286.7 237.8h1.9v1.9h-1.9zM287.1 237.6h1.9v1.9h-1.9zM287.7 237.8h1.9v1.9h-1.9zM287.3 237.7h1.9v1.9h-1.9zM287.6 238.0h1.9v1.9h-1.9zM287.5 237.9h1.9v1.9h-1.9zM287.3 237.6h1.9v1.9h-1.9zM287.8 237.7h1.9v1.9h-1.9zM287.3 238.0h1.9v1.9h-1.9zM287.8 237.6h1.9v1.9h-1.9zM288.0 237.5h1.9v1.9h-1.9zM288.8 237.8h1.9v1.9h-1.9zM288.5 237.9h1.9v1.9h-1.9zM288.5 237.8h1.9v1.9h-1.9zM288.8 237.9h1.9v1.9h-1.9zM288.7 237.6h1.9v1.9h-1.9zM288.4 237.9h1.9v1.9h-1.9zM288.7 237.6h1.9v1.9h-1.9zM288.9 237.7h1.9v1.9h-1.9zM289.4 237.7h1.9v1.9h-1.9zM289.5 238.1h1.9v1.9h-1.9zM289.1 237.8h1.9v1.9h-1.9zM289.4 237.8h1.9v1.9h-1.9zM289.5 237.8h1.9v1.9h-1.9zM289.6 237.8h1.9v1.9h-1.9zM290.1 237.8h1.9v1.9h-1.9zM289.9 237.6h1.9v1.9h-1.9zM290.2 238.0h1.9v1.9h-1.9zM290.3 238.1h1.9v1.9h-1.9zM290.7 237.7h1.9v1.9h-1.9zM290.1 237.9h1.9v1.9h-1.9zM290.6 237.7h1.9v1.9h-1.9zM290.3 237.7h1.9v1.9h-1.9zM290.9 237.5h1.9v1.9h-1.9zM290.9 238.1h1.9v1.9h-1.9zM291.1 237.6h1.9v1.9h-1.9zM291.3 237.6h1.9v1.9h-1.9zM291.4 238.0h1.9v1.9h-1.9zM291.6 237.5h1.9v1.9h-1.9zM291.8 237.4h1.9v1.9h-1.9zM291.8 237.4h1.9v1.9h-1.9zM291.6 237.8h1.9v1.9h-1.9zM291.8 237.9h1.9v1.9h-1.9zM291.8 237.9h1.9v1.9h-1.9zM292.4 237.8h1.9v1.9h-1.9zM292.1 237.7h1.9v1.9h-1.9zM292.4 238.2h1.9v1.9h-1.9zM292.6 237.4h1.9v1.9h-1.9zM292.6 237.6h1.9v1.9h-1.9zM292.6 237.9h1.9v1.9h-1.9zM292.9 237.6h1.9v1.9h-1.9zM292.7 237.5h1.9v1.9h-1.9zM293.2 237.6h1.9v1.9h-1.9zM293.3 237.4h1.9v1.9h-1.9zM293.4 237.6h1.9v1.9h-1.9zM293.4 237.2h1.9v1.9h-1.9zM293.7 237.4h1.9v1.9h-1.9zM293.2 237.7h1.9v1.9h-1.9zM293.6 237.4h1.9v1.9h-1.9zM293.7 237.5h1.9v1.9h-1.9zM294.3 237.5h1.9v1.9h-1.9zM294.6 237.1h1.9v1.9h-1.9zM294.5 237.5h1.9v1.9h-1.9zM294.6 237.2h1.9v1.9h-1.9zM294.4 237.4h1.9v1.9h-1.9zM294.7 237.4h1.9v1.9h-1.9zM294.9 236.8h1.9v1.9h-1.9zM295.5 236.4h1.9v1.9h-1.9zM295.2 237.2h1.9v1.9h-1.9zM295.5 237.0h1.9v1.9h-1.9zM295.6 236.8h1.9v1.9h-1.9zM295.5 236.3h1.9v1.9h-1.9zM295.5 236.6h1.9v1.9h-1.9zM295.9 236.1h1.9v1.9h-1.9zM296.0 236.8h1.9v1.9h-1.9zM296.0 235.9h1.9v1.9h-1.9zM295.8 236.3h1.9v1.9h-1.9zM296.4 236.2h1.9v1.9h-1.9zM296.3 235.7h1.9v1.9h-1.9zM296.6 235.8h1.9v1.9h-1.9zM296.8 236.1h1.9v1.9h-1.9zM297.2 235.7h1.9v1.9h-1.9zM296.8 235.6h1.9v1.9h-1.9zM296.7 235.9h1.9v1.9h-1.9zM297.5 235.1h1.9v1.9h-1.9zM297.5 234.7h1.9v1.9h-1.9zM297.8 234.2h1.9v1.9h-1.9zM297.5 235.2h1.9v1.9h-1.9zM297.7 235.2h1.9v1.9h-1.9zM297.9 235.2h1.9v1.9h-1.9zM298.2 234.4h1.9v1.9h-1.9zM298.2 234.2h1.9v1.9h-1.9zM298.4 234.2h1.9v1.9h-1.9zM298.0 234.1h1.9v1.9h-1.9zM299.1 234.3h1.9v1.9h-1.9zM298.6 233.9h1.9v1.9h-1.9zM298.6 233.1h1.9v1.9h-1.9zM298.7 233.6h1.9v1.9h-1.9zM299.4 232.7h1.9v1.9h-1.9zM299.5 233.7h1.9v1.9h-1.9zM299.9 232.9h1.9v1.9h-1.9zM299.9 233.8h1.9v1.9h-1.9zM299.3 232.1h1.9v1.9h-1.9zM299.1 233.6h1.9v1.9h-1.9zM299.8 232.3h1.9v1.9h-1.9zM299.9 232.5h1.9v1.9h-1.9zM300.0 231.8h1.9v1.9h-1.9zM300.1 232.7h1.9v1.9h-1.9zM300.4 231.9h1.9v1.9h-1.9zM300.2 232.1h1.9v1.9h-1.9zM300.6 231.6h1.9v1.9h-1.9zM301.0 231.6h1.9v1.9h-1.9zM301.0 231.5h1.9v1.9h-1.9zM300.8 231.6h1.9v1.9h-1.9zM301.0 231.1h1.9v1.9h-1.9zM301.5 231.5h1.9v1.9h-1.9zM301.4 230.2h1.9v1.9h-1.9zM301.2 230.6h1.9v1.9h-1.9zM301.4 231.4h1.9v1.9h-1.9zM301.7 230.8h1.9v1.9h-1.9zM301.9 229.7h1.9v1.9h-1.9zM301.8 230.6h1.9v1.9h-1.9zM302.1 230.1h1.9v1.9h-1.9zM301.8 229.2h1.9v1.9h-1.9zM302.3 230.0h1.9v1.9h-1.9zM302.1 229.7h1.9v1.9h-1.9zM302.7 229.6h1.9v1.9h-1.9zM302.9 229.2h1.9v1.9h-1.9zM302.6 229.6h1.9v1.9h-1.9zM302.5 229.1h1.9v1.9h-1.9zM303.1 229.0h1.9v1.9h-1.9zM302.9 229.3h1.9v1.9h-1.9zM303.1 228.2h1.9v1.9h-1.9zM303.1 228.5h1.9v1.9h-1.9zM303.1 228.2h1.9v1.9h-1.9zM303.5 228.1h1.9v1.9h-1.9zM303.4 229.0h1.9v1.9h-1.9zM304.3 228.2h1.9v1.9h-1.9zM303.9 227.3h1.9v1.9h-1.9zM303.7 227.9h1.9v1.9h-1.9zM303.9 228.2h1.9v1.9h-1.9zM304.5 228.2h1.9v1.9h-1.9zM304.5 227.1h1.9v1.9h-1.9zM304.6 226.4h1.9v1.9h-1.9zM305.0 226.3h1.9v1.9h-1.9zM305.1 226.8h1.9v1.9h-1.9zM305.1 225.8h1.9v1.9h-1.9zM304.8 226.2h1.9v1.9h-1.9zM304.8 225.8h1.9v1.9h-1.9zM305.1 226.2h1.9v1.9h-1.9zM305.4 225.2h1.9v1.9h-1.9zM305.5 225.9h1.9v1.9h-1.9zM305.1 226.4h1.9v1.9h-1.9zM305.5 224.9h1.9v1.9h-1.9zM305.6 225.8h1.9v1.9h-1.9zM305.5 224.5h1.9v1.9h-1.9zM305.8 224.4h1.9v1.9h-1.9zM306.4 224.3h1.9v1.9h-1.9zM306.3 224.8h1.9v1.9h-1.9zM306.1 223.8h1.9v1.9h-1.9zM306.7 223.2h1.9v1.9h-1.9zM306.7 222.5h1.9v1.9h-1.9zM306.5 222.3h1.9v1.9h-1.9zM306.6 223.0h1.9v1.9h-1.9zM306.8 223.2h1.9v1.9h-1.9zM306.8 222.4h1.9v1.9h-1.9zM307.1 221.8h1.9v1.9h-1.9zM307.7 221.8h1.9v1.9h-1.9zM307.5 221.9h1.9v1.9h-1.9zM307.2 221.4h1.9v1.9h-1.9zM307.6 221.4h1.9v1.9h-1.9zM307.9 220.7h1.9v1.9h-1.9zM308.0 219.8h1.9v1.9h-1.9zM307.8 220.0h1.9v1.9h-1.9zM308.2 219.9h1.9v1.9h-1.9zM308.8 219.2h1.9v1.9h-1.9zM308.0 219.8h1.9v1.9h-1.9zM308.0 219.4h1.9v1.9h-1.9zM308.1 219.2h1.9v1.9h-1.9zM309.1 218.7h1.9v1.9h-1.9zM308.2 219.0h1.9v1.9h-1.9zM308.9 218.2h1.9v1.9h-1.9zM308.8 217.5h1.9v1.9h-1.9zM309.2 217.7h1.9v1.9h-1.9zM308.9 217.7h1.9v1.9h-1.9zM309.0 216.7h1.9v1.9h-1.9zM309.6 217.2h1.9v1.9h-1.9zM309.6 216.4h1.9v1.9h-1.9zM309.8 216.2h1.9v1.9h-1.9zM310.2 215.2h1.9v1.9h-1.9zM309.7 215.5h1.9v1.9h-1.9zM309.7 215.8h1.9v1.9h-1.9zM310.0 214.7h1.9v1.9h-1.9zM310.1 214.3h1.9v1.9h-1.9zM310.6 214.3h1.9v1.9h-1.9zM310.5 214.0h1.9v1.9h-1.9zM311.0 213.4h1.9v1.9h-1.9zM310.9 213.4h1.9v1.9h-1.9zM310.8 212.9h1.9v1.9h-1.9zM310.6 213.1h1.9v1.9h-1.9zM310.6 213.2h1.9v1.9h-1.9zM311.4 212.4h1.9v1.9h-1.9zM311.7 212.6h1.9v1.9h-1.9zM311.2 211.2h1.9v1.9h-1.9zM311.4 211.3h1.9v1.9h-1.9zM312.0 210.9h1.9v1.9h-1.9zM311.6 210.9h1.9v1.9h-1.9zM311.8 210.0h1.9v1.9h-1.9zM312.1 210.1h1.9v1.9h-1.9zM312.3 208.4h1.9v1.9h-1.9zM312.4 209.5h1.9v1.9h-1.9zM312.5 209.2h1.9v1.9h-1.9zM312.0 208.3h1.9v1.9h-1.9zM312.7 208.5h1.9v1.9h-1.9zM312.9 207.7h1.9v1.9h-1.9zM313.4 207.0h1.9v1.9h-1.9zM313.0 206.9h1.9v1.9h-1.9zM312.7 206.7h1.9v1.9h-1.9zM313.0 206.5h1.9v1.9h-1.9zM313.1 205.7h1.9v1.9h-1.9zM313.4 205.6h1.9v1.9h-1.9zM313.8 205.6h1.9v1.9h-1.9zM313.6 204.7h1.9v1.9h-1.9zM314.0 204.8h1.9v1.9h-1.9zM314.0 204.4h1.9v1.9h-1.9zM314.1 204.3h1.9v1.9h-1.9zM314.0 202.8h1.9v1.9h-1.9zM314.2 203.7h1.9v1.9h-1.9zM314.5 203.3h1.9v1.9h-1.9zM314.4 202.9h1.9v1.9h-1.9zM314.4 202.2h1.9v1.9h-1.9zM315.1 202.3h1.9v1.9h-1.9zM314.6 201.8h1.9v1.9h-1.9zM315.1 201.1h1.9v1.9h-1.9zM315.2 200.7h1.9v1.9h-1.9zM315.3 200.5h1.9v1.9h-1.9zM315.9 199.3h1.9v1.9h-1.9zM315.3 200.3h1.9v1.9h-1.9zM315.3 198.9h1.9v1.9h-1.9zM315.6 199.7h1.9v1.9h-1.9zM315.8 198.8h1.9v1.9h-1.9zM315.7 197.5h1.9v1.9h-1.9zM315.8 198.1h1.9v1.9h-1.9zM315.5 197.3h1.9v1.9h-1.9zM316.0 196.6h1.9v1.9h-1.9zM316.4 196.7h1.9v1.9h-1.9zM316.1 195.5h1.9v1.9h-1.9zM316.5 195.8h1.9v1.9h-1.9zM316.1 195.2h1.9v1.9h-1.9zM316.7 195.4h1.9v1.9h-1.9zM317.4 194.6h1.9v1.9h-1.9zM316.9 194.8h1.9v1.9h-1.9zM317.3 194.1h1.9v1.9h-1.9zM317.6 193.1h1.9v1.9h-1.9zM317.2 192.2h1.9v1.9h-1.9zM317.2 193.7h1.9v1.9h-1.9zM317.7 192.4h1.9v1.9h-1.9zM317.4 192.2h1.9v1.9h-1.9zM317.7 191.6h1.9v1.9h-1.9zM318.3 191.2h1.9v1.9h-1.9zM318.0 191.3h1.9v1.9h-1.9zM318.2 190.9h1.9v1.9h-1.9zM318.4 190.1h1.9v1.9h-1.9zM318.6 189.9h1.9v1.9h-1.9zM318.5 189.8h1.9v1.9h-1.9zM319.2 189.5h1.9v1.9h-1.9zM319.0 188.7h1.9v1.9h-1.9zM319.0 187.9h1.9v1.9h-1.9zM319.1 188.4h1.9v1.9h-1.9zM319.4 187.5h1.9v1.9h-1.9zM318.7 187.2h1.9v1.9h-1.9zM319.1 187.1h1.9v1.9h-1.9zM319.5 186.3h1.9v1.9h-1.9zM319.3 185.6h1.9v1.9h-1.9zM320.1 185.4h1.9v1.9h-1.9zM319.6 185.2h1.9v1.9h-1.9zM320.4 184.4h1.9v1.9h-1.9zM320.7 183.8h1.9v1.9h-1.9zM319.8 184.8h1.9v1.9h-1.9zM320.0 183.2h1.9v1.9h-1.9zM320.4 183.0h1.9v1.9h-1.9zM320.6 182.7h1.9v1.9h-1.9zM320.6 181.9h1.9v1.9h-1.9zM321.0 183.0h1.9v1.9h-1.9zM320.7 181.8h1.9v1.9h-1.9zM321.2 181.4h1.9v1.9h-1.9zM321.4 181.6h1.9v1.9h-1.9zM321.7 180.8h1.9v1.9h-1.9zM321.8 180.6h1.9v1.9h-1.9zM321.8 180.2h1.9v1.9h-1.9zM321.3 179.8h1.9v1.9h-1.9zM321.7 179.8h1.9v1.9h-1.9zM322.1 179.7h1.9v1.9h-1.9zM322.0 179.3h1.9v1.9h-1.9zM322.5 178.1h1.9v1.9h-1.9zM322.6 178.4h1.9v1.9h-1.9zM322.2 177.9h1.9v1.9h-1.9zM322.6 177.7h1.9v1.9h-1.9zM322.3 177.1h1.9v1.9h-1.9zM322.8 176.5h1.9v1.9h-1.9z"/>
<path fill="#c8c400" d="M234.8 275.5h1.9v1.9h-1.9zM235.3 275.9h1.9v1.9h-1.9zM234.8 274.8h1.9v1.9h-1.9zM235.1 273.9h1.9v1.9h-1.9zM235.5 273.4h1.9v1.9h-1.9zM236.0 273.3h1.9v1.9h-1.9zM235.5 272.9h1.9v1.9h-1.9zM235.9 272.8h1.9v1.9h-1.9zM235.7 271.6h1.9v1.9h-1.9zM235.7 271.8h1.9v1.9h-1.9zM236.1 271.2h1.9v1.9h-1.9zM236.5 271.4h1.9v1.9h-1.9zM236.5 270.2h1.9v1.9h-1.9zM236.9 270.3h1.9v1.9h-1.9zM236.4 270.1h1.9v1.9h-1.9zM236.5 269.6h1.9v1.9h-1.9zM236.6 269.4h1.9v1.9h-1.9zM236.9 268.9h1.9v1.9h-1.9zM237.2 267.9h1.9v1.9h-1.9zM237.3 268.7h1.9v1.9h-1.9zM237.4 268.2h1.9v1.9h-1.9zM237.5 268.0h1.9v1.9h-1.9zM237.6 267.9h1.9v1.9h-1.9zM237.6 266.7h1.9v1.9h-1.9zM238.1 266.8h1.9v1.9h-1.9zM238.0 266.4h1.9v1.9h-1.9zM237.8 265.5h1.9v1.9h-1.9zM238.5 266.0h1.9v1.9h-1.9zM237.6 266.5h1.9v1.9h-1.9zM237.8 265.4h1.9v1.9h-1.9zM238.7 265.3h1.9v1.9h-1.9zM238.3 264.0h1.9v1.9h-1.9zM238.6 264.3h1.9v1.9h-1.9zM238.4 264.5h1.9v1.9h-1.9zM239.0 264.3h1.9v1.9h-1.9zM239.1 263.8h1.9v1.9h-1.9zM239.1 263.4h1.9v1.9h-1.9zM239.2 263.4h1.9v1.9h-1.9zM239.2 263.1h1.9v1.9h-1.9zM240.0 262.8h1.9v1.9h-1.9zM239.4 262.7h1.9v1.9h-1.9zM239.7 262.4h1.9v1.9h-1.9zM239.6 262.3h1.9v1.9h-1.9zM240.2 261.9h1.9v1.9h-1.9zM240.3 261.8h1.9v1.9h-1.9zM240.2 261.7h1.9v1.9h-1.9zM240.2 260.6h1.9v1.9h-1.9zM240.6 260.2h1.9v1.9h-1.9zM240.4 260.7h1.9v1.9h-1.9zM239.9 260.6h1.9v1.9h-1.9zM240.7 259.7h1.9v1.9h-1.9zM241.0 259.1h1.9v1.9h-1.9zM241.0 259.1h1.9v1.9h-1.9zM240.8 259.9h1.9v1.9h-1.9zM241.4 258.3h1.9v1.9h-1.9zM241.1 258.5h1.9v1.9h-1.9zM241.2 258.6h1.9v1.9h-1.9zM241.3 258.1h1.9v1.9h-1.9zM241.4 256.9h1.9v1.9h-1.9zM241.6 256.8h1.9v1.9h-1.9zM242.1 257.6h1.9v1.9h-1.9zM241.9 257.1h1.9v1.9h-1.9zM242.0 257.5h1.9v1.9h-1.9zM242.5 256.4h1.9v1.9h-1.9zM242.6 256.4h1.9v1.9h-1.9zM242.6 256.3h1.9v1.9h-1.9zM242.9 256.0h1.9v1.9h-1.9zM242.7 255.7h1.9v1.9h-1.9zM242.9 255.4h1.9v1.9h-1.9zM243.0 254.1h1.9v1.9h-1.9zM243.1 254.8h1.9v1.9h-1.9zM243.0 254.3h1.9v1.9h-1.9zM243.6 254.6h1.9v1.9h-1.9zM243.2 253.6h1.9v1.9h-1.9zM243.8 253.4h1.9v1.9h-1.9zM243.4 253.1h1.9v1.9h-1.9zM243.9 252.3h1.9v1.9h-1.9zM244.0 253.5h1.9v1.9h-1.9zM243.8 252.1h1.9v1.9h-1.9zM244.2 252.5h1.9v1.9h-1.9zM244.5 253.0h1.9v1.9h-1.9zM244.2 253.0h1.9v1.9h-1.9zM244.2 251.9h1.9v1.9h-1.9zM244.6 251.8h1.9v1.9h-1.9zM244.4 251.8h1.9v1.9h-1.9zM244.9 251.7h1.9v1.9h-1.9zM244.6 251.0h1.9v1.9h-1.9zM245.0 250.9h1.9v1.9h-1.9zM245.3 250.4h1.9v1.9h-1.9zM245.4 250.6h1.9v1.9h-1.9zM245.9 250.7h1.9v1.9h-1.9zM245.7 250.2h1.9v1.9h-1.9zM245.3 250.4h1.9v1.9h-1.9zM245.5 249.6h1.9v1.9h-1.9zM246.6 249.7h1.9v1.9h-1.9zM246.1 249.6h1.9v1.9h-1.9zM245.9 249.4h1.9v1.9h-1.9zM246.4 249.7h1.9v1.9h-1.9zM245.9 250.0h1.9v1.9h-1.9zM247.0 248.9h1.9v1.9h-1.9zM246.2 249.3h1.9v1.9h-1.9zM246.7 248.6h1.9v1.9h-1.9zM246.7 247.7h1.9v1.9h-1.9zM247.1 248.8h1.9v1.9h-1.9zM247.1 247.8h1.9v1.9h-1.9zM246.9 248.5h1.9v1.9h-1.9zM247.4 247.7h1.9v1.9h-1.9zM247.2 247.6h1.9v1.9h-1.9zM247.8 246.8h1.9v1.9h-1.9zM247.6 247.7h1.9v1.9h-1.9zM247.6 247.3h1.9v1.9h-1.9zM247.9 246.8h1.9v1.9h-1.9zM248.1 247.4h1.9v1.9h-1.9zM247.9 246.6h1.9v1.9h-1.9zM248.3 246.9h1.9v1.9h-1.9zM247.8 246.3h1.9v1.9h-1.9zM248.8 245.8h1.9v1.9h-1.9zM248.2 245.9h1.9v1.9h-1.9zM248.2 245.4h1.9v1.9h-1.9zM248.9 245.1h1.9v1.9h-1.9zM249.0 245.2h1.9v1.9h-1.9zM248.8 245.8h1.9v1.9h-1.9zM249.6 245.1h1.9v1.9h-1.9zM249.6 246.1h1.9v1.9h-1.9zM249.6 245.5h1.9v1.9h-1.9zM249.6 245.2h1.9v1.9h-1.9zM249.2 245.3h1.9v1.9h-1.9zM249.8 245.2h1.9v1.9h-1.9zM250.0 244.2h1.9v1.9h-1.9zM250.5 244.5h1.9v1.9h-1.9zM250.1 245.0h1.9v1.9h-1.9zM250.1 245.2h1.9v1.9h-1.9zM250.6 244.2h1.9v1.9h-1.9zM250.9 244.4h1.9v1.9h-1.9zM250.4 244.9h1.9v1.9h-1.9zM250.4 244.8h1.9v1.9h-1.9zM250.6 243.7h1.9v1.9h-1.9zM250.7 243.9h1.9v1.9h-1.9zM250.7 243.4h1.9v1.9h-1.9zM251.3 244.5h1.9v1.9h-1.9zM251.2 243.3h1.9v1.9h-1.9zM251.2 244.0h1.9v1.9h-1.9zM251.4 244.5h1.9v1.9h-1.9zM251.7 243.7h1.9v1.9h-1.9zM251.6 242.8h1.9v1.9h-1.9zM252.1 243.5h1.9v1.9h-1.9zM252.5 242.6h1.9v1.9h-1.9zM252.0 242.8h1.9v1.9h-1.9zM251.8 243.2h1.9v1.9h-1.9zM252.7 242.9h1.9v1.9h-1.9zM252.3 242.3h1.9v1.9h-1.9zM252.7 242.5h1.9v1.9h-1.9zM253.3 243.1h1.9v1.9h-1.9zM252.5 242.9h1.9v1.9h-1.9zM252.9 242.5h1.9v1.9h-1.9zM253.3 242.6h1.9v1.9h-1.9zM253.5 242.2h1.9v1.9h-1.9zM253.4 242.0h1.9v1.9h-1.9zM253.0 242.0h1.9v1.9h-1.9zM253.5 242.5h1.9v1.9h-1.9zM253.8 241.9h1.9v1.9h-1.9zM253.9 242.3h1.9v1.9h-1.9zM253.7 242.5h1.9v1.9h-1.9zM253.7 242.1h1.9v1.9h-1.9zM254.3 242.4h1.9v1.9h-1.9zM254.5 241.5h1.9v1.9h-1.9zM253.8 241.5h1.9v1.9h-1.9zM254.7 241.5h1.9v1.9h-1.9zM254.6 241.8h1.9v1.9h-1.9zM254.8 241.3h1.9v1.9h-1.9zM254.9 241.3h1.9v1.9h-1.9zM254.9 241.3h1.9v1.9h-1.9zM254.9 241.3h1.9v1.9h-1.9zM255.8 241.0h1.9v1.9h-1.9zM255.4 240.8h1.9v1.9h-1.9zM255.0 240.8h1.9v1.9h-1.9zM256.3 240.5h1.9v1.9h-1.9zM256.1 241.2h1.9v1.9h-1.9zM255.6 240.4h1.9v1.9h-1.9zM255.9 240.0h1.9v1.9h-1.9zM256.1 240.4h1.9v1.9h-1.9zM256.5 240.2h1.9v1.9h-1.9zM256.4 240.8h1.9v1.9h-1.9zM256.6 240.5h1.9v1.9h-1.9zM257.3 240.0h1.9v1.9h-1.9zM256.6 239.8h1.9v1.9h-1.9zM256.9 240.4h1.9v1.9h-1.9zM257.3 239.8h1.9v1.9h-1.9zM257.1 240.2h1.9v1.9h-1.9zM257.6 240.5h1.9v1.9h-1.9zM257.6 239.8h1.9v1.9h-1.9zM257.4 239.9h1.9v1.9h-1.9zM258.3 239.8h1.9v1.9h-1.9zM257.8 239.8h1.9v1.9h-1.9zM258.0 239.8h1.9v1.9h-1.9zM257.6 239.2h1.9v1.9h-1.9zM258.2 239.6h1.9v1.9h-1.9zM258.7 239.2h1.9v1.9h-1.9zM258.2 239.7h1.9v1.9h-1.9zM258.8 240.0h1.9v1.9h-1.9zM259.0 239.5h1.9v1.9h-1.9zM258.8 239.6h1.9v1.9h-1.9zM259.1 239.5h1.9v1.9h-1.9zM259.2 239.4h1.9v1.9h-1.9zM259.2 239.3h1.9v1.9h-1.9zM258.9 239.3h1.9v1.9h-1.9zM259.6 239.2h1.9v1.9h-1.9zM260.0 239.4h1.9v1.9h-1.9zM260.1 239.3h1.9v1.9h-1.9zM260.2 239.4h1.9v1.9h-1.9zM259.8 239.3h1.9v1.9h-1.9zM260.1 239.0h1.9v1.9h-1.9zM260.2 239.3h1.9v1.9h-1.9zM260.5 239.2h1.9v1.9h-1.9zM260.6 239.3h1.9v1.9h-1.9zM261.2 239.1h1.9v1.9h-1.9zM261.0 238.5h1.9v1.9h-1.9zM260.9 239.0h1.9v1.9h-1.9zM260.9 238.6h1.9v1.9h-1.9zM261.5 238.7h1.9v1.9h-1.9zM261.6 238.8h1.9v1.9h-1.9zM261.3 239.1h1.9v1.9h-1.9zM261.3 238.6h1.9v1.9h-1.9zM261.6 238.8h1.9v1.9h-1.9zM261.5 239.1h1.9v1.9h-1.9zM261.8 238.6h1.9v1.9h-1.9zM261.9 238.8h1.9v1.9h-1.9zM262.0 238.4h1.9v1.9h-1.9zM262.3 238.9h1.9v1.9h-1.9zM262.0 238.9h1.9v1.9h-1.9zM263.1 238.7h1.9v1.9h-1.9zM263.1 238.6h1.9v1.9h-1.9zM262.6 238.5h1.9v1.9h-1.9zM262.9 238.5h1.9v1.9h-1.9zM263.3 238.7h1.9v1.9h-1.9zM263.1 238.7h1.9v1.9h-1.9zM263.6 238.7h1.9v1.9h-1.9zM263.6 238.3h1.9v1.9h-1.9zM263.9 238.5h1.9v1.9h-1.9zM263.6 238.2h1.9v1.9h-1.9zM263.8 238.5h1.9v1.9h-1.9zM263.8 238.5h1.9v1.9h-1.9zM264.4 238.2h1.9v1.9h-1.9zM263.9 238.3h1.9v1.9h-1.9zM264.5 238.4h1.9v1.9h-1.9zM264.1 238.5h1.9v1.9h-1.9zM264.6 238.4h1.9v1.9h-1.9zM264.3 238.2h1.9v1.9h-1.9zM264.6 238.3h1.9v1.9h-1.9zM265.0 237.9h1.9v1.9h-1.9zM264.7 238.1h1.9v1.9h-1.9zM265.1 238.6h1.9v1.9h-1.9zM265.5 238.2h1.9v1.9h-1.9zM265.4 238.1h1.9v1.9h-1.9zM265.5 237.8h1.9v1.9h-1.9zM265.3 238.2h1.9v1.9h-1.9zM265.9 238.0h1.9v1.9h-1.9zM266.3 237.9h1.9v1.9h-1.9zM265.5 238.0h1.9v1.9h-1.9zM266.3 237.9h1.9v1.9h-1.9zM266.6 238.1h1.9v1.9h-1.9zM265.8 237.8h1.9v1.9h-1.9zM266.3 237.8h1.9v1.9h-1.9zM266.9 237.9h1.9v1.9h-1.9zM266.4 237.9h1.9v1.9h-1.9zM266.7 237.7h1.9v1.9h-1.9zM266.9 237.8h1.9v1.9h-1.9zM267.3 237.8h1.9v1.9h-1.9zM267.4 238.1h1.9v1.9h-1.9zM266.8 237.5h1.9v1.9h-1.9zM267.3 238.1h1.9v1.9h-1.9zM268.0 237.8h1.9v1.9h-1.9zM267.6 237.7h1.9v1.9h-1.9zM267.8 237.7h1.9v1.9h-1.9zM267.8 237.8h1.9v1.9h-1.9zM268.4 238.0h1.9v1.9h-1.9zM267.7 237.5h1.9v1.9h-1.9zM268.0 237.9h1.9v1.9h-1.9zM268.6 237.4h1.9v1.9h-1.9zM268.5 237.4h1.9v1.9h-1.9zM268.8 237.5h1.9v1.9h-1.9zM269.0 237.6h1.9v1.9h-1.9zM269.0 237.8h1.9v1.9h-1.9zM268.8 237.8h1.9v1.9h-1.9zM269.5 237.7h1.9v1.9h-1.9zM269.0 237.7h1.9v1.9h-1.9zM269.3 237.8h1.9v1.9h-1.9zM269.5 237.9h1.9v1.9h-1.9zM269.6 237.6h1.9v1.9h-1.9zM269.3 237.8h1.9v1.9h-1.9zM270.1 237.7h1.9v1.9h-1.9zM269.8 237.9h1.9v1.9h-1.9zM269.9 237.8h1.9v1.9h-1.9zM270.1 237.6h1.9v1.9h-1.9zM270.0 237.9h1.9v1.9h-1.9zM270.6 237.9h1.9v1.9h-1.9zM270.7 237.4h1.9v1.9h-1.9zM270.4 237.7h1.9v1.9h-1.9zM270.7 237.3h1.9v1.9h-1.9zM270.7 237.9h1.9v1.9h-1.9zM271.0 237.9h1.9v1.9h-1.9zM271.1 237.6h1.9v1.9h-1.9zM271.2 237.8h1.9v1.9h-1.9zM271.4 237.9h1.9v1.9h-1.9zM271.5 237.8h1.9v1.9h-1.9zM271.2 237.9h1.9v1.9h-1.9zM271.8 237.7h1.9v1.9h-1.9zM271.8 237.7h1.9v1.9h-1.9zM271.9 237.9h1.9v1.9h-1.9zM271.7 237.6h1.9v1.9h-1.9zM272.1 237.6h1.9v1.9h-1.9zM272.3 237.8h1.9v1.9h-1.9zM272.5 237.9h1.9v1.9h-1.9zM272.9 237.6h1.9v1.9h-1.9zM272.6 237.6h1.9v1.9h-1.9zM272.7 238.1h1.9v1.9h-1.9zM272.3 237.4h1.9v1.9h-1.9zM272.8 237.7h1.9v1.9h-1.9zM273.2 238.0h1.9v1.9h-1.9zM273.3 237.9h1.9v1.9h-1.9zM273.0 237.8h1.9v1.9h-1.9zM273.9 237.7h1.9v1.9h-1.9zM274.0 238.0h1.9v1.9h-1.9zM273.5 237.7h1.9v1.9h-1.9zM273.9 237.6h1.9v1.9h-1.9zM273.7 237.8h1.9v1.9h-1.9zM273.8 237.7h1.9v1.9h-1.9zM274.2 237.7h1.9v1.9h-1.9zM274.0 237.9h1.9v1.9h-1.9zM274.5 237.6h1.9v1.9h-1.9zM274.4 237.6h1.9v1.9h-1.9zM274.6 237.6h1.9v1.9h-1.9zM275.1 237.5h1.9v1.9h-1.9zM274.5 237.9h1.9v1.9h-1.9zM274.7 237.4h1.9v1.9h-1.9zM275.2 237.9h1.9v1.9h-1.9zM275.2 237.7h1.9v1.9h-1.9zM275.6 237.7h1.9v1.9h-1.9zM275.3 237.7h1.9v1.9h-1.9zM275.2 237.8h1.9v1.9h-1.9zM275.8 238.2h1.9v1.9h-1.9zM275.5 237.7h1.9v1.9h-1.9zM276.1 237.4h1.9v1.9h-1.9zM276.0 237.8h1.9v1.9h-1.9zM276.0 237.9h1.9v1.9h-1.9zM275.3 238.1h1.9v1.9h-1.9zM276.6 237.8h1.9v1.9h-1.9zM276.7 237.8h1.9v1.9h-1.9zM276.7 237.6h1.9v1.9h-1.9zM276.8 237.7h1.9v1.9h-1.9zM276.7 237.7h1.9v1.9h-1.9zM276.8 237.7h1.9v1.9h-1.9zM277.0 237.6h1.9v1.9h-1.9zM276.8 237.7h1.9v1.9h-1.9zM277.2 237.7h1.9v1.9h-1.9zM276.9 237.9h1.9v1.9h-1.9zM277.3 237.6h1.9v1.9h-1.9zM277.9 237.6h1.9v1.9h-1.9zM277.7 238.0h1.9v1.9h-1.9zM277.9 237.7h1.9v1.9h-1.9zM278.0 237.9h1.9v1.9h-1.9zM278.3 237.7h1.9v1.9h-1.9zM278.2 237.7h1.9v1.9h-1.9zM278.7 237.8h1.9v1.9h-1.9zM278.5 237.9h1.9v1.9h-1.9zM278.4 237.7h1.9v1.9h-1.9zM278.6 237.7h1.9v1.9h-1.9zM278.9 237.8h1.9v1.9h-1.9zM278.7 237.5h1.9v1.9h-1.9zM278.8 237.8h1.9v1.9h-1.9zM279.4 237.7h1.9v1.9h-1.9zM279.6 237.4h1.9v1.9h-1.9zM279.5 237.4h1.9v1.9h-1.9zM279.2 237.9h1.9v1.9h-1.9zM279.7 237.7h1.9v1.9h-1.9zM279.4 237.7h1.9v1.9h-1.9zM279.9 237.6h1.9v1.9h-1.9zM280.4 237.7h1.9v1.9h-1.9zM280.6 237.7h1.9v1.9h-1.9zM279.5 237.7h1.9v1.9h-1.9zM280.2 237.7h1.9v1.9h-1.9zM280.2 237.6h1.9v1.9h-1.9zM280.5 238.0h1.9v1.9h-1.9zM280.5 237.4h1.9v1.9h-1.9zM280.5 237.8h1.9v1.9h-1.9zM280.6 237.6h1.9v1.9h-1.9zM281.0 237.7h1.9v1.9h-1.9zM281.2 237.7h1.9v1.9h-1.9zM281.2 237.8h1.9v1.9h-1.9zM281.4 237.7h1.9v1.9h-1.9zM281.7 237.7h1.9v1.9h-1.9zM281.7 238.0h1.9v1.9h-1.9zM282.1 237.7h1.9v1.9h-1.9zM281.7 237.8h1.9v1.9h-1.9zM281.9 237.7h1.9v1.9h-1.9zM282.0 238.0h1.9v1.9h-1.9zM282.5 237.9h1.9v1.9h-1.9zM282.4 237.4h1.9v1.9h-1.9zM282.2 237.9h1.9v1.9h-1.9zM282.2 237.8h1.9v1.9h-1.9zM282.5 237.8h1.9v1.9h-1.9zM282.9 237.6h1.9v1.9h-1.9zM283.2 237.7h1.9v1.9h-1.9zM283.1 237.9h1.9v1.9h-1.9zM283.3 238.0h1.9v1.9h-1.9zM283.2 237.8h1.9v1.9h-1.9zM283.0 237.9h1.9v1.9h-1.9zM283.5 237.8h1.9v1.9h-1.9zM283.4 237.9h1.9v1.9h-1.9zM283.7 237.6h1.9v1.9h-1.9zM283.8 237.9h1.9v1.9h-1.9zM283.6 237.3h1.9v1.9h-1.9zM284.0 237.7h1.9v1.9h-1.9zM284.1 237.8h1.9v1.9h-1.9zM283.9 237.7h1.9v1.9h-1.9zM284.5 237.9h1.9v1.9h-1.9zM284.5 237.7h1.9v1.9h-1.9zM284.5 237.9h1.9v1.9h-1.9zM284.9 237.5h1.9v1.9h-1.9zM285.2 237.8h1.9v1.9h-1.9zM284.8 237.7h1.9v1.9h-1.9zM285.0 237.9h1.9v1.9h-1.9zM285.6 237.7h1.9v1.9h-1.9zM285.5 237.7h1.9v1.9h-1.9zM285.1 237.8h1.9v1.9h-1.9zM285.1 237.9h1.9v1.9h-1.9zM285.4 238.0h1.9v1.9h-1.9zM285.9 237.7h1.9v1.9h-1.9zM285.9 237.8h1.9v1.9h-1.9zM285.5 237.7h1.9v1.9h-1.9zM286.0 237.6h1.9v1.9h-1.9zM286.3 237.9h1.9v1.9h-1.9zM286.9 237.8h1.9v1.9h-1.9zM286.9 237.8h1.9v1.9h-1.9zM286.9 237.9h1.9v1.9h-1.9zM286.9 237.6h1.9v1.9h-1.9zM287.0 237.7h1.9v1.9h-1.9zM287.7 237.6h1.9v1.9h-1.9zM287.4 237.7h1.9v1.9h-1.9zM286.6 237.8h1.9v1.9h-1.9zM287.2 237.6h1.9v1.9h-1.9zM287.7 237.8h1.9v1.9h-1.9zM287.7 237.9h1.9v1.9h-1.9zM287.6 237.7h1.9v1.9h-1.9zM287.6 237.2h1.9v1.9h-1.9zM287.9 237.8h1.9v1.9h-1.9zM287.9 237.4h1.9v1.9h-1.9zM288.0 238.1h1.9v1.9h-1.9zM288.6 237.7h1.9v1.9h-1.9zM288.3 237.9h1.9v1.9h-1.9zM288.4 237.7h1.9v1.9h-1.9zM289.0 237.7h1.9v1.9h-1.9zM288.2 237.3h1.9v1.9h-1.9zM288.9 237.9h1.9v1.9h-1.9zM288.7 237.9h1.9v1.9h-1.9zM289.2 237.7h1.9v1.9h-1.9zM289.4 237.8h1.9v1.9h-1.9zM289.0 237.6h1.9v1.9h-1.9zM289.8 237.7h1.9v1.9h-1.9zM289.3 237.9h1.9v1.9h-1.9zM289.7 237.8h1.9v1.9h-1.9zM290.0 237.9h1.9v1.9h-1.9zM289.7 237.6h1.9v1.9h-1.9zM290.1 237.7h1.9v1.9h-1.9zM290.2 237.8h1.9v1.9h-1.9zM289.9 237.8h1.9v1.9h-1.9zM290.3 237.6h1.9v1.9h-1.9zM290.8 237.8h1.9v1.9h-1.9zM290.6 237.7h1.9v1.9h-1.9zM290.5 237.8h1.9v1.9h-1.9zM290.9 237.9h1.9v1.9h-1.9zM290.5 237.7h1.9v1.9h-1.9zM291.3 237.6h1.9v1.9h-1.9zM291.6 237.6h1.9v1.9h-1.9zM291.2 237.6h1.9v1.9h-1.9zM291.8 237.7h1.9v1.9h-1.9zM291.3 237.9h1.9v1.9h-1.9zM291.5 237.8h1.9v1.9h-1.9zM292.1 237.6h1.9v1.9h-1.9zM292.3 237.8h1.9v1.9h-1.9zM291.9 237.7h1.9v1.9h-1.9zM292.3 237.7h1.9v1.9h-1.9zM291.9 237.8h1.9v1.9h-1.9zM292.2 237.8h1.9v1.9h-1.9zM292.8 237.6h1.9v1.9h-1.9zM292.5 237.5h1.9v1.9h-1.9zM292.9 237.9h1.9v1.9h-1.9zM293.0 237.7h1.9v1.9h-1.9zM293.0 237.3h1.9v1.9h-1.9zM293.2 237.6h1.9v1.9h-1.9zM293.1 237.6h1.9v1.9h-1.9zM293.6 237.7h1.9v1.9h-1.9zM293.5 237.5h1.9v1.9h-1.9zM293.5 237.4h1.9v1.9h-1.9zM293.4 237.5h1.9v1.9h-1.9zM293.7 237.7h1.9v1.9h-1.9zM294.2 237.3h1.9v1.9h-1.9zM294.2 237.4h1.9v1.9h-1.9zM293.8 237.5h1.9v1.9h-1.9zM294.9 237.0h1.9v1.9h-1.9zM294.4 237.2h1.9v1.9h-1.9zM294.8 237.0h1.9v1.9h-1.9zM294.6 236.9h1.9v1.9h-1.9zM294.9 237.1h1.9v1.9h-1.9zM294.8 236.9h1.9v1.9h-1.9zM294.7 237.0h1.9v1.9h-1.9zM294.6 237.1h1.9v1.9h-1.9zM294.6 237.0h1.9v1.9h-1.9zM294.8 236.7h1.9v1.9h-1.9zM294.8 236.6h1.9v1.9h-1.9zM295.3 236.3h1.9v1.9h-1.9zM295.2 236.7h1.9v1.9h-1.9zM295.9 236.2h1.9v1.9h-1.9zM295.6 236.3h1.9v1.9h-1.9zM295.7 236.0h1.9v1.9h-1.9zM295.6 236.1h1.9v1.9h-1.9zM295.8 235.9h1.9v1.9h-1.9zM296.1 235.6h1.9v1.9h-1.9zM295.7 235.3h1.9v1.9h-1.9zM295.6 235.9h1.9v1.9h-1.9zM296.2 235.1h1.9v1.9h-1.9zM296.3 235.4h1.9v1.9h-1.9zM295.9 234.6h1.9v1.9h-1.9zM296.4 234.1h1.9v1.9h-1.9zM296.7 235.3h1.9v1.9h-1.9zM296.0 234.7h1.9v1.9h-1.9zM296.1 234.4h1.9v1.9h-1.9zM296.0 234.7h1.9v1.9h-1.9zM296.4 234.5h1.9v1.9h-1.9zM296.6 234.5h1.9v1.9h-1.9zM296.3 234.9h1.9v1.9h-1.9zM296.6 234.0h1.9v1.9h-1.9zM296.5 234.0h1.9v1.9h-1.9zM296.8 233.9h1.9v1.9h-1.9zM296.9 233.0h1.9v1.9h-1.9zM297.0 232.7h1.9v1.9h-1.9zM297.1 233.4h1.9v1.9h-1.9zM297.3 233.0h1.9v1.9h-1.9zM297.4 232.2h1.9v1.9h-1.9zM297.6 232.7h1.9v1.9h-1.9zM297.7 232.3h1.9v1.9h-1.9zM298.4 233.1h1.9v1.9h-1.9zM297.9 232.5h1.9v1.9h-1.9zM297.8 232.5h1.9v1.9h-1.9zM298.3 232.1h1.9v1.9h-1.9zM298.4 231.8h1.9v1.9h-1.9zM298.5 232.0h1.9v1.9h-1.9zM298.4 231.1h1.9v1.9h-1.9zM298.7 231.4h1.9v1.9h-1.9zM298.6 231.1h1.9v1.9h-1.9zM298.7 231.7h1.9v1.9h-1.9zM299.2 231.1h1.9v1.9h-1.9zM299.2 231.3h1.9v1.9h-1.9zM299.2 230.9h1.9v1.9h-1.9zM299.0 230.7h1.9v1.9h-1.9zM299.4 230.7h1.9v1.9h-1.9zM299.4 231.0h1.9v1.9h-1.9zM299.5 229.8h1.9v1.9h-1.9zM299.4 231.0h1.9v1.9h-1.9zM300.3 230.1h1.9v1.9h-1.9zM300.0 230.2h1.9v1.9h-1.9zM299.9 229.8h1.9v1.9h-1.9zM300.5 230.5h1.9v1.9h-1.9zM300.3 229.4h1.9v1.9h-1.9zM300.4 229.9h1.9v1.9h-1.9zM300.7 229.2h1.9v1.9h-1.9zM300.8 229.6h1.9v1.9h-1.9zM301.2 228.7h1.9v1.9h-1.9zM300.8 229.1h1.9v1.9h-1.9zM301.0 229.0h1.9v1.9h-1.9zM301.3 228.8h1.9v1.9h-1.9zM301.6 228.5h1.9v1.9h-1.9zM301.2 228.2h1.9v1.9h-1.9zM301.7 228.4h1.9v1.9h-1.9zM302.0 228.3h1.9v1.9h-1.9zM302.1 228.4h1.9v1.9h-1.9zM302.0 227.7h1.9v1.9h-1.9zM302.4 227.2h1.9v1.9h-1.9zM302.4 227.9h1.9v1.9h-1.9zM302.2 227.5h1.9v1.9h-1.9zM302.1 227.9h1.9v1.9h-1.9zM302.3 227.2h1.9v1.9h-1.9zM303.0 227.3h1.9v1.9h-1.9zM302.7 226.8h1.9v1.9h-1.9zM302.9 227.1h1.9v1.9h-1.9zM303.2 226.4h1.9v1.9h-1.9zM303.0 225.7h1.9v1.9h-1.9zM302.9 224.9h1.9v1.9h-1.9zM303.7 226.2h1.9v1.9h-1.9zM303.0 225.2h1.9v1.9h-1.9zM303.7 225.2h1.9v1.9h-1.9zM303.9 224.7h1.9v1.9h-1.9zM304.0 224.4h1.9v1.9h-1.9zM304.3 223.8h1.9v1.9h-1.9zM304.3 224.9h1.9v1.9h-1.9zM303.8 223.7h1.9v1.9h-1.9zM304.4 224.1h1.9v1.9h-1.9zM304.3 223.4h1.9v1.9h-1.9zM304.2 224.2h1.9v1.9h-1.9zM304.6 223.8h1.9v1.9h-1.9zM304.6 222.8h1.9v1.9h-1.9zM304.7 221.8h1.9v1.9h-1.9zM304.8 222.3h1.9v1.9h-1.9zM305.1 221.6h1.9v1.9h-1.9zM305.2 222.5h1.9v1.9h-1.9zM305.3 221.8h1.9v1.9h-1.9zM305.7 221.0h1.9v1.9h-1.9zM306.0 221.0h1.9v1.9h-1.9zM305.5 220.0h1.9v1.9h-1.9zM306.2 220.2h1.9v1.9h-1.9zM305.8 219.4h1.9v1.9h-1.9zM306.7 220.0h1.9v1.9h-1.9zM306.3 219.7h1.9v1.9h-1.9zM306.6 219.8h1.9v1.9h-1.9zM306.7 218.8h1.9v1.9h-1.9zM306.7 218.8h1.9v1.9h-1.9zM306.8 218.7h1.9v1.9h-1.9zM307.0 219.1h1.9v1.9h-1.9zM306.8 218.0h1.9v1.9h-1.9zM307.3 217.7h1.9v1.9h-1.9zM307.2 217.5h1.9v1.9h-1.9zM307.0 217.6h1.9v1.9h-1.9zM307.4 216.4h1.9v1.9h-1.9zM307.9 216.5h1.9v1.9h-1.9zM307.9 216.1h1.9v1.9h-1.9zM307.6 216.3h1.9v1.9h-1.9zM307.9 215.6h1.9v1.9h-1.9zM307.8 215.8h1.9v1.9h-1.9zM307.9 215.7h1.9v1.9h-1.9zM308.1 215.0h1.9v1.9h-1.9zM308.3 214.8h1.9v1.9h-1.9zM308.3 214.3h1.9v1.9h-1.9zM308.5 214.5h1.9v1.9h-1.9zM308.8 213.8h1.9v1.9h-1.9zM308.6 213.6h1.9v1.9h-1.9zM308.7 212.9h1.9v1.9h-1.9zM308.9 212.6h1.9v1.9h-1.9zM309.1 212.4h1.9v1.9h-1.9zM309.4 212.0h1.9v1.9h-1.9zM309.8 212.6h1.9v1.9h-1.9zM309.4 211.5h1.9v1.9h-1.9zM309.7 211.3h1.9v1.9h-1.9zM309.6 210.7h1.9v1.9h-1.9zM309.3 210.1h1.9v1.9h-1.9zM310.1 209.8h1.9v1.9h-1.9zM309.8 209.4h1.9v1.9h-1.9zM310.5 209.1h1.9v1.9h-1.9zM310.9 209.1h1.9v1.9h-1.9zM310.3 208.4h1.9v1.9h-1.9zM310.8 207.8h1.9v1.9h-1.9zM310.4 208.6h1.9v1.9h-1.9zM311.1 207.4h1.9v1.9h-1.9zM310.8 207.6h1.9v1.9h-1.9zM311.0 206.8h1.9v1.9h-1.9zM312.6 206.9h1.9v1.9h-1.9zM312.9 205.8h1.9v1.9h-1.9zM312.8 206.4h1.9v1.9h-1.9zM312.7 206.1h1.9v1.9h-1.9zM313.1 205.5h1.9v1.9h-1.9zM313.1 204.1h1.9v1.9h-1.9zM313.5 204.8h1.9v1.9h-1.9zM313.2 204.1h1.9v1.9h-1.9zM313.5 203.9h1.9v1.9h-1.9zM313.5 203.4h1.9v1.9h-1.9zM313.5 202.8h1.9v1.9h-1.9zM314.2 203.0h1.9v1.9h-1.9zM313.9 202.8h1.9v1.9h-1.9zM314.2 201.5h1.9v1.9h-1.9zM314.0 201.8h1.9v1.9h-1.9zM314.1 201.4h1.9v1.9h-1.9zM314.8 200.8h1.9v1.9h-1.9zM314.6 200.9h1.9v1.9h-1.9zM314.8 200.9h1.9v1.9h-1.9zM314.5 199.6h1.9v1.9h-1.9zM314.7 199.4h1.9v1.9h-1.9zM314.8 200.0h1.9v1.9h-1.9zM315.2 198.8h1.9v1.9h-1.9zM315.5 198.5h1.9v1.9h-1.9zM315.4 198.5h1.9v1.9h-1.9zM315.4 197.3h1.9v1.9h-1.9zM315.7 197.3h1.9v1.9h-1.9zM315.3 197.2h1.9v1.9h-1.9zM315.7 197.2h1.9v1.9h-1.9zM316.1 196.3h1.9v1.9h-1.9zM316.0 195.0h1.9v1.9h-1.9zM315.8 195.2h1.9v1.9h-1.9zM316.3 195.8h1.9v1.9h-1.9zM316.4 194.8h1.9v1.9h-1.9zM316.9 194.0h1.9v1.9h-1.9zM316.8 193.9h1.9v1.9h-1.9zM316.2 193.4h1.9v1.9h-1.9zM316.6 193.4h1.9v1.9h-1.9zM316.9 191.9h1.9v1.9h-1.9zM317.2 192.3h1.9v1.9h-1.9zM317.2 192.5h1.9v1.9h-1.9zM317.3 191.0h1.9v1.9h-1.9zM317.8 190.7h1.9v1.9h-1.9zM317.5 190.4h1.9v1.9h-1.9zM317.5 190.8h1.9v1.9h-1.9zM317.5 190.3h1.9v1.9h-1.9zM318.1 190.0h1.9v1.9h-1.9zM318.0 189.9h1.9v1.9h-1.9zM318.2 188.8h1.9v1.9h-1.9zM318.0 187.9h1.9v1.9h-1.9zM318.7 188.1h1.9v1.9h-1.9zM318.5 187.4h1.9v1.9h-1.9zM318.8 187.6h1.9v1.9h-1.9zM319.2 186.6h1.9v1.9h-1.9zM319.0 187.1h1.9v1.9h-1.9zM319.0 186.5h1.9v1.9h-1.9zM318.9 185.5h1.9v1.9h-1.9zM319.3 185.5h1.9v1.9h-1.9zM319.7 185.2h1.9v1.9h-1.9zM319.3 184.5h1.9v1.9h-1.9zM319.6 183.7h1.9v1.9h-1.9zM319.8 184.1h1.9v1.9h-1.9zM320.0 183.9h1.9v1.9h-1.9zM320.0 183.9h1.9v1.9h-1.9zM320.7 182.9h1.9v1.9h-1.9zM320.3 182.7h1.9v1.9h-1.9zM320.6 182.6h1.9v1.9h-1.9zM320.8 181.5h1.9v1.9h-1.9zM320.8 181.2h1.9v1.9h-1.9zM320.1 181.3h1.9v1.9h-1.9zM320.5 180.6h1.9v1.9h-1.9zM320.7 180.4h1.9v1.9h-1.9zM321.6 180.8h1.9v1.9h-1.9zM321.0 179.7h1.9v1.9h-1.9zM321.2 179.6h1.9v1.9h-1.9zM320.8 179.7h1.9v1.9h-1.9zM321.7 179.1h1.9v1.9h-1.9zM321.7 179.1h1.9v1.9h-1.9zM322.0 178.4h1.9v1.9h-1.9zM321.7 177.4h1.9v1.9h-1.9zM321.9 176.6h1.9v1.9h-1.9zM322.4 177.4h1.9v1.9h-1.9zM322.5 176.6h1.9v1.9h-1.9z"/>
<path fill="#ff6a22" d="M237.3 268.1h1.9v1.9h-1.9zM237.9 267.9h1.9v1.9h-1.9zM237.9 267.1h1.9v1.9h-1.9zM237.7 267.1h1.9v1.9h-1.9zM237.8 267.9h1.9v1.9h-1.9zM238.3 266.5h1.9v1.9h-1.9zM238.6 266.2h1.9v1.9h-1.9zM238.2 265.8h1.9v1.9h-1.9zM238.3 266.0h1.9v1.9h-1.9zM238.4 265.5h1.9v1.9h-1.9zM238.7 264.4h1.9v1.9h-1.9zM239.1 264.7h1.9v1.9h-1.9zM239.3 265.1h1.9v1.9h-1.9zM239.0 264.1h1.9v1.9h-1.9zM238.8 263.9h1.9v1.9h-1.9zM239.4 263.9h1.9v1.9h-1.9zM239.4 263.0h1.9v1.9h-1.9zM239.9 263.2h1.9v1.9h-1.9zM239.9 263.9h1.9v1.9h-1.9zM240.5 262.5h1.9v1.9h-1.9zM239.5 262.1h1.9v1.9h-1.9zM240.2 262.4h1.9v1.9h-1.9zM240.0 261.9h1.9v1.9h-1.9zM240.4 261.2h1.9v1.9h-1.9zM239.9 261.6h1.9v1.9h-1.9zM240.3 261.3h1.9v1.9h-1.9zM240.5 260.5h1.9v1.9h-1.9zM240.8 260.4h1.9v1.9h-1.9zM240.7 260.2h1.9v1.9h-1.9zM241.0 260.0h1.9v1.9h-1.9zM240.9 260.2h1.9v1.9h-1.9zM241.1 259.5h1.9v1.9h-1.9zM241.9 258.6h1.9v1.9h-1.9zM241.8 259.1h1.9v1.9h-1.9zM241.2 259.5h1.9v1.9h-1.9zM241.3 259.2h1.9v1.9h-1.9zM241.8 258.0h1.9v1.9h-1.9zM242.1 257.9h1.9v1.9h-1.9zM241.7 257.1h1.9v1.9h-1.9zM242.3 257.5h1.9v1.9h-1.9zM242.1 257.5h1.9v1.9h-1.9zM242.6 258.0h1.9v1.9h-1.9zM242.6 256.7h1.9v1.9h-1.9zM242.4 256.7h1.9v1.9h-1.9zM242.7 255.9h1.9v1.9h-1.9zM243.1 255.6h1.9v1.9h-1.9zM242.6 255.9h1.9v1.9h-1.9zM243.1 255.9h1.9v1.9h-1.9zM243.6 255.8h1.9v1.9h-1.9zM243.4 255.1h1.9v1.9h-1.9zM243.5 254.2h1.9v1.9h-1.9zM243.7 254.4h1.9v1.9h-1.9zM243.6 253.8h1.9v1.9h-1.9zM244.0 254.3h1.9v1.9h-1.9zM244.6 254.0h1.9v1.9h-1.9zM243.9 253.4h1.9v1.9h-1.9zM243.8 253.4h1.9v1.9h-1.9zM244.3 252.8h1.9v1.9h-1.9zM243.8 253.0h1.9v1.9h-1.9zM244.6 252.2h1.9v1.9h-1.9zM244.8 252.6h1.9v1.9h-1.9zM244.8 252.0h1.9v1.9h-1.9zM244.9 252.0h1.9v1.9h-1.9zM244.6 252.4h1.9v1.9h-1.9zM245.0 251.4h1.9v1.9h-1.9zM245.9 251.5h1.9v1.9h-1.9zM245.1 251.4h1.9v1.9h-1.9zM245.5 251.6h1.9v1.9h-1.9zM245.9 250.6h1.9v1.9h-1.9zM245.3 251.3h1.9v1.9h-1.9zM246.1 250.7h1.9v1.9h-1.9zM246.1 250.1h1.9v1.9h-1.9zM245.8 250.8h1.9v1.9h-1.9zM245.9 249.5h1.9v1.9h-1.9zM246.1 249.9h1.9v1.9h-1.9zM245.9 249.2h1.9v1.9h-1.9zM246.3 249.7h1.9v1.9h-1.9zM246.8 249.1h1.9v1.9h-1.9zM246.9 249.5h1.9v1.9h-1.9zM247.1 248.7h1.9v1.9h-1.9zM246.9 249.1h1.9v1.9h-1.9zM246.6 248.8h1.9v1.9h-1.9zM247.4 248.9h1.9v1.9h-1.9zM247.9 248.2h1.9v1.9h-1.9zM246.7 247.8h1.9v1.9h-1.9zM247.5 248.1h1.9v1.9h-1.9zM247.6 248.1h1.9v1.9h-1.9zM248.0 247.5h1.9v1.9h-1.9zM248.1 247.7h1.9v1.9h-1.9zM247.5 247.5h1.9v1.9h-1.9zM248.1 247.5h1.9v1.9h-1.9zM248.3 247.2h1.9v1.9h-1.9zM248.8 246.9h1.9v1.9h-1.9zM248.5 247.0h1.9v1.9h-1.9zM248.6 246.3h1.9v1.9h-1.9zM248.8 246.5h1.9v1.9h-1.9zM249.2 245.9h1.9v1.9h-1.9zM249.0 246.1h1.9v1.9h-1.9zM249.0 245.9h1.9v1.9h-1.9zM249.6 244.9h1.9v1.9h-1.9zM249.2 246.0h1.9v1.9h-1.9zM249.7 246.3h1.9v1.9h-1.9zM249.7 245.8h1.9v1.9h-1.9zM249.8 245.6h1.9v1.9h-1.9zM250.1 245.1h1.9v1.9h-1.9zM250.1 245.3h1.9v1.9h-1.9zM250.3 245.2h1.9v1.9h-1.9zM250.1 244.7h1.9v1.9h-1.9zM250.4 245.0h1.9v1.9h-1.9zM250.9 244.7h1.9v1.9h-1.9zM250.4 244.6h1.9v1.9h-1.9zM250.6 244.6h1.9v1.9h-1.9zM250.7 244.6h1.9v1.9h-1.9zM250.6 244.0h1.9v1.9h-1.9zM251.0 244.7h1.9v1.9h-1.9zM251.2 244.6h1.9v1.9h-1.9zM251.3 244.1h1.9v1.9h-1.9zM251.8 244.6h1.9v1.9h-1.9zM251.6 243.3h1.9v1.9h-1.9zM251.9 244.1h1.9v1.9h-1.9zM251.9 244.2h1.9v1.9h-1.9zM252.1 243.6h1.9v1.9h-1.9zM252.2 243.5h1.9v1.9h-1.9zM251.9 243.4h1.9v1.9h-1.9zM252.2 243.5h1.9v1.9h-1.9zM252.5 243.4h1.9v1.9h-1.9zM252.7 243.0h1.9v1.9h-1.9zM252.4 243.1h1.9v1.9h-1.9zM252.8 243.7h1.9v1.9h-1.9zM252.8 242.9h1.9v1.9h-1.9zM253.2 242.8h1.9v1.9h-1.9zM252.9 244.0h1.9v1.9h-1.9zM252.8 242.3h1.9v1.9h-1.9zM253.1 242.5h1.9v1.9h-1.9zM253.6 242.1h1.9v1.9h-1.9zM253.6 242.8h1.9v1.9h-1.9zM253.3 242.0h1.9v1.9h-1.9zM254.1 241.7h1.9v1.9h-1.9zM253.8 242.4h1.9v1.9h-1.9zM253.9 242.3h1.9v1.9h-1.9zM254.2 241.9h1.9v1.9h-1.9zM254.0 242.2h1.9v1.9h-1.9zM254.3 242.3h1.9v1.9h-1.9zM254.5 241.9h1.9v1.9h-1.9zM255.1 241.5h1.9v1.9h-1.9zM254.7 242.0h1.9v1.9h-1.9zM254.6 241.5h1.9v1.9h-1.9zM254.8 241.3h1.9v1.9h-1.9zM255.5 241.1h1.9v1.9h-1.9zM255.1 241.5h1.9v1.9h-1.9zM255.9 240.8h1.9v1.9h-1.9zM255.5 241.2h1.9v1.9h-1.9zM255.3 241.4h1.9v1.9h-1.9zM255.7 240.5h1.9v1.9h-1.9zM255.6 240.3h1.9v1.9h-1.9zM256.0 240.7h1.9v1.9h-1.9zM256.0 240.7h1.9v1.9h-1.9zM255.8 240.8h1.9v1.9h-1.9zM256.4 240.6h1.9v1.9h-1.9zM256.4 240.6h1.9v1.9h-1.9zM256.4 240.6h1.9v1.9h-1.9zM256.7 240.4h1.9v1.9h-1.9zM256.7 240.5h1.9v1.9h-1.9zM256.8 240.2h1.9v1.9h-1.9zM257.5 240.1h1.9v1.9h-1.9zM257.0 240.4h1.9v1.9h-1.9zM257.6 240.5h1.9v1.9h-1.9zM257.7 239.5h1.9v1.9h-1.9zM257.7 240.2h1.9v1.9h-1.9zM257.6 240.2h1.9v1.9h-1.9zM257.4 240.3h1.9v1.9h-1.9zM257.5 240.1h1.9v1.9h-1.9zM258.1 239.4h1.9v1.9h-1.9zM258.4 239.9h1.9v1.9h-1.9zM259.0 239.8h1.9v1.9h-1.9zM258.5 239.6h1.9v1.9h-1.9zM258.5 240.0h1.9v1.9h-1.9zM258.6 239.6h1.9v1.9h-1.9zM258.5 239.8h1.9v1.9h-1.9zM258.7 240.2h1.9v1.9h-1.9zM258.8 239.7h1.9v1.9h-1.9zM259.5 239.1h1.9v1.9h-1.9zM259.3 239.3h1.9v1.9h-1.9zM259.5 239.2h1.9v1.9h-1.9zM259.5 239.6h1.9v1.9h-1.9zM259.7 239.0h1.9v1.9h-1.9zM259.8 239.0h1.9v1.9h-1.9zM259.4 239.4h1.9v1.9h-1.9zM260.1 239.4h1.9v1.9h-1.9zM260.0 238.8h1.9v1.9h-1.9zM260.0 239.0h1.9v1.9h-1.9zM260.5 239.4h1.9v1.9h-1.9zM260.6 239.1h1.9v1.9h-1.9zM260.3 238.6h1.9v1.9h-1.9zM260.5 239.0h1.9v1.9h-1.9zM260.8 239.1h1.9v1.9h-1.9zM261.2 238.8h1.9v1.9h-1.9zM261.3 239.1h1.9v1.9h-1.9zM261.1 239.3h1.9v1.9h-1.9zM261.4 239.0h1.9v1.9h-1.9zM261.5 238.9h1.9v1.9h-1.9zM261.4 239.0h1.9v1.9h-1.9zM261.5 238.7h1.9v1.9h-1.9zM261.4 238.6h1.9v1.9h-1.9zM262.0 239.1h1.9v1.9h-1.9zM262.1 238.6h1.9v1.9h-1.9zM262.0 238.9h1.9v1.9h-1.9zM262.1 239.0h1.9v1.9h-1.9zM262.9 238.5h1.9v1.9h-1.9zM262.6 239.1h1.9v1.9h-1.9zM262.6 238.5h1.9v1.9h-1.9zM262.6 238.5h1.9v1.9h-1.9zM263.2 238.2h1.9v1.9h-1.9zM262.8 238.3h1.9v1.9h-1.9zM262.9 238.5h1.9v1.9h-1.9zM263.3 238.7h1.9v1.9h-1.9zM263.5 238.8h1.9v1.9h-1.9zM263.3 238.3h1.9v1.9h-1.9zM263.5 238.3h1.9v1.9h-1.9zM263.7 238.3h1.9v1.9h-1.9zM264.0 238.5h1.9v1.9h-1.9zM264.2 238.7h1.9v1.9h-1.9zM263.5 238.8h1.9v1.9h-1.9zM264.5 238.3h1.9v1.9h-1.9zM264.6 238.3h1.9v1.9h-1.9zM264.2 238.0h1.9v1.9h-1.9zM264.5 238.0h1.9v1.9h-1.9zM264.4 238.2h1.9v1.9h-1.9zM265.0 238.2h1.9v1.9h-1.9zM264.9 238.2h1.9v1.9h-1.9zM264.9 238.2h1.9v1.9h-1.9zM265.2 237.9h1.9v1.9h-1.9zM265.1 238.0h1.9v1.9h-1.9zM265.5 238.1h1.9v1.9h-1.9zM265.5 238.3h1.9v1.9h-1.9zM265.4 238.4h1.9v1.9h-1.9zM266.2 238.1h1.9v1.9h-1.9zM266.0 237.5h1.9v1.9h-1.9zM265.9 237.9h1.9v1.9h-1.9zM265.9 237.9h1.9v1.9h-1.9zM266.6 237.9h1.9v1.9h-1.9zM265.9 237.9h1.9v1.9h-1.9zM266.8 237.8h1.9v1.9h-1.9zM266.5 237.8h1.9v1.9h-1.9zM266.5 237.9h1.9v1.9h-1.9zM266.6 238.1h1.9v1.9h-1.9zM267.0 237.6h1.9v1.9h-1.9zM267.0 237.6h1.9v1.9h-1.9zM267.2 237.9h1.9v1.9h-1.9zM267.6 237.8h1.9v1.9h-1.9zM266.8 238.0h1.9v1.9h-1.9zM267.4 237.7h1.9v1.9h-1.9zM267.6 237.7h1.9v1.9h-1.9zM267.5 237.8h1.9v1.9h-1.9zM267.9 237.4h1.9v1.9h-1.9zM267.5 237.7h1.9v1.9h-1.9zM268.0 237.8h1.9v1.9h-1.9zM268.0 237.9h1.9v1.9h-1.9zM268.3 237.8h1.9v1.9h-1.9zM268.2 237.7h1.9v1.9h-1.9zM268.1 237.6h1.9v1.9h-1.9zM268.7 237.7h1.9v1.9h-1.9zM268.6 237.9h1.9v1.9h-1.9zM268.4 238.0h1.9v1.9h-1.9zM268.8 238.0h1.9v1.9h-1.9zM268.9 237.6h1.9v1.9h-1.9zM269.4 237.6h1.9v1.9h-1.9zM269.6 237.7h1.9v1.9h-1.9zM269.3 237.8h1.9v1.9h-1.9zM270.0 237.7h1.9v1.9h-1.9zM269.7 237.5h1.9v1.9h-1.9zM269.7 237.6h1.9v1.9h-1.9zM269.9 237.7h1.9v1.9h-1.9zM269.7 237.6h1.9v1.9h-1.9zM269.7 237.7h1.9v1.9h-1.9zM270.4 237.6h1.9v1.9h-1.9zM270.4 238.0h1.9v1.9h-1.9zM270.8 237.6h1.9v1.9h-1.9zM270.9 238.0h1.9v1.9h-1.9zM270.7 237.7h1.9v1.9h-1.9zM271.2 237.8h1.9v1.9h-1.9zM271.1 237.4h1.9v1.9h-1.9zM271.6 237.6h1.9v1.9h-1.9zM271.5 237.6h1.9v1.9h-1.9zM271.7 237.6h1.9v1.9h-1.9zM271.4 237.8h1.9v1.9h-1.9zM271.0 237.9h1.9v1.9h-1.9zM271.8 237.6h1.9v1.9h-1.9zM271.6 237.5h1.9v1.9h-1.9zM271.9 238.0h1.9v1.9h-1.9zM272.0 237.9h1.9v1.9h-1.9zM272.6 237.8h1.9v1.9h-1.9zM272.5 237.6h1.9v1.9h-1.9zM272.2 237.6h1.9v1.9h-1.9zM272.5 237.8h1.9v1.9h-1.9zM272.5 238.0h1.9v1.9h-1.9zM272.6 237.8h1.9v1.9h-1.9zM273.0 237.6h1.9v1.9h-1.9zM273.6 237.4h1.9v1.9h-1.9zM273.4 237.9h1.9v1.9h-1.9zM273.1 237.8h1.9v1.9h-1.9zM273.4 237.6h1.9v1.9h-1.9zM273.4 237.9h1.9v1.9h-1.9zM273.3 237.7h1.9v1.9h-1.9zM273.7 237.9h1.9v1.9h-1.9zM273.9 237.5h1.9v1.9h-1.9zM273.9 237.9h1.9v1.9h-1.9zM273.6 237.6h1.9v1.9h-1.9zM274.5 237.7h1.9v1.9h-1.9zM274.3 237.9h1.9v1.9h-1.9zM274.5 237.8h1.9v1.9h-1.9zM274.4 237.6h1.9v1.9h-1.9zM274.7 237.8h1.9v1.9h-1.9zM275.0 237.9h1.9v1.9h-1.9zM274.8 237.6h1.9v1.9h-1.9zM275.2 237.6h1.9v1.9h-1.9zM275.2 237.8h1.9v1.9h-1.9zM275.8 237.7h1.9v1.9h-1.9zM275.3 237.8h1.9v1.9h-1.9zM275.3 237.5h1.9v1.9h-1.9zM275.6 237.9h1.9v1.9h-1.9zM275.8 237.6h1.9v1.9h-1.9zM275.9 237.6h1.9v1.9h-1.9zM276.0 238.0h1.9v1.9h-1.9zM276.5 237.8h1.9v1.9h-1.9zM276.3 237.7h1.9v1.9h-1.9zM276.3 237.8h1.9v1.9h-1.9zM276.6 237.5h1.9v1.9h-1.9zM277.0 237.6h1.9v1.9h-1.9zM277.1 237.8h1.9v1.9h-1.9zM277.0 237.6h1.9v1.9h-1.9zM277.0 237.9h1.9v1.9h-1.9zM277.0 237.7h1.9v1.9h-1.9zM277.7 237.8h1.9v1.9h-1.9zM277.0 237.9h1.9v1.9h-1.9zM277.6 237.9h1.9v1.9h-1.9zM277.1 238.0h1.9v1.9h-1.9zM277.9 238.0h1.9v1.9h-1.9zM278.0 238.0h1.9v1.9h-1.9zM277.8 237.8h1.9v1.9h-1.9zM278.0 237.6h1.9v1.9h-1.9zM278.5 237.7h1.9v1.9h-1.9zM278.1 237.5h1.9v1.9h-1.9zM278.3 237.7h1.9v1.9h-1.9zM278.5 237.8h1.9v1.9h-1.9zM278.5 238.0h1.9v1.9h-1.9zM278.6 237.6h1.9v1.9h-1.9zM278.5 237.9h1.9v1.9h-1.9zM278.6 238.0h1.9v1.9h-1.9zM278.9 237.7h1.9v1.9h-1.9zM279.2 237.7h1.9v1.9h-1.9zM279.1 237.6h1.9v1.9h-1.9zM279.6 237.9h1.9v1.9h-1.9zM279.6 237.6h1.9v1.9h-1.9zM279.8 237.8h1.9v1.9h-1.9zM279.5 238.0h1.9v1.9h-1.9zM280.4 237.8h1.9v1.9h-1.9zM280.2 237.6h1.9v1.9h-1.9zM280.1 237.7h1.9v1.9h-1.9zM279.7 237.7h1.9v1.9h-1.9zM280.7 237.5h1.9v1.9h-1.9zM280.3 237.7h1.9v1.9h-1.9zM280.8 237.9h1.9v1.9h-1.9zM280.4 238.1h1.9v1.9h-1.9zM280.8 237.6h1.9v1.9h-1.9zM280.8 237.6h1.9v1.9h-1.9zM281.2 237.8h1.9v1.9h-1.9zM281.4 237.7h1.9v1.9h-1.9zM281.2 237.6h1.9v1.9h-1.9zM281.3 237.7h1.9v1.9h-1.9zM281.4 237.8h1.9v1.9h-1.9zM282.1 237.6h1.9v1.9h-1.9zM281.4 237.7h1.9v1.9h-1.9zM282.1 237.6h1.9v1.9h-1.9zM281.6 238.2h1.9v1.9h-1.9zM282.4 237.9h1.9v1.9h-1.9zM282.0 237.9h1.9v1.9h-1.9zM282.1 237.7h1.9v1.9h-1.9zM282.4 237.9h1.9v1.9h-1.9zM282.9 237.6h1.9v1.9h-1.9zM282.8 237.4h1.9v1.9h-1.9zM282.8 237.5h1.9v1.9h-1.9zM283.2 237.3h1.9v1.9h-1.9zM283.0 237.7h1.9v1.9h-1.9zM283.0 237.8h1.9v1.9h-1.9zM282.9 237.6h1.9v1.9h-1.9zM283.4 237.7h1.9v1.9h-1.9zM284.0 237.8h1.9v1.9h-1.9zM283.8 237.7h1.9v1.9h-1.9zM283.3 237.4h1.9v1.9h-1.9zM283.9 237.7h1.9v1.9h-1.9zM283.2 237.8h1.9v1.9h-1.9zM283.9 237.8h1.9v1.9h-1.9zM284.3 237.6h1.9v1.9h-1.9zM284.0 237.8h1.9v1.9h-1.9zM284.5 237.6h1.9v1.9h-1.9zM284.5 237.7h1.9v1.9h-1.9zM284.7 237.8h1.9v1.9h-1.9zM284.6 237.8h1.9v1.9h-1.9zM284.5 237.7h1.9v1.9h-1.9zM285.1 237.7h1.9v1.9h-1.9zM285.0 237.6h1.9v1.9h-1.9zM285.0 237.7h1.9v1.9h-1.9zM285.3 237.8h1.9v1.9h-1.9zM285.3 237.6h1.9v1.9h-1.9zM285.2 237.8h1.9v1.9h-1.9zM285.8 237.4h1.9v1.9h-1.9zM285.9 237.8h1.9v1.9h-1.9zM285.7 237.9h1.9v1.9h-1.9zM286.0 237.5h1.9v1.9h-1.9zM286.0 237.8h1.9v1.9h-1.9zM285.8 237.7h1.9v1.9h-1.9zM286.5 237.7h1.9v1.9h-1.9zM286.7 237.8h1.9v1.9h-1.9zM286.3 237.9h1.9v1.9h-1.9zM286.3 237.9h1.9v1.9h-1.9zM287.0 237.6h1.9v1.9h-1.9zM286.9 237.9h1.9v1.9h-1.9zM286.7 237.6h1.9v1.9h-1.9zM286.9 237.9h1.9v1.9h-1.9zM287.5 238.0h1.9v1.9h-1.9zM287.4 237.7h1.9v1.9h-1.9zM287.6 237.6h1.9v1.9h-1.9zM287.9 237.8h1.9v1.9h-1.9zM288.0 237.7h1.9v1.9h-1.9zM287.8 237.9h1.9v1.9h-1.9zM288.2 237.6h1.9v1.9h-1.9zM288.4 237.6h1.9v1.9h-1.9zM288.1 237.8h1.9v1.9h-1.9zM288.5 237.6h1.9v1.9h-1.9zM288.4 237.9h1.9v1.9h-1.9zM288.7 237.4h1.9v1.9h-1.9zM288.5 237.9h1.9v1.9h-1.9zM289.0 237.7h1.9v1.9h-1.9zM289.1 237.6h1.9v1.9h-1.9zM289.1 237.7h1.9v1.9h-1.9zM289.4 237.8h1.9v1.9h-1.9zM289.2 237.9h1.9v1.9h-1.9zM289.3 237.6h1.9v1.9h-1.9zM289.5 237.5h1.9v1.9h-1.9zM289.2 237.8h1.9v1.9h-1.9zM289.9 237.6h1.9v1.9h-1.9zM289.6 237.6h1.9v1.9h-1.9zM289.9 237.8h1.9v1.9h-1.9zM290.4 237.8h1.9v1.9h-1.9zM290.3 237.9h1.9v1.9h-1.9zM290.6 237.8h1.9v1.9h-1.9zM290.7 237.7h1.9v1.9h-1.9zM290.7 237.8h1.9v1.9h-1.9zM291.2 237.5h1.9v1.9h-1.9zM290.8 237.8h1.9v1.9h-1.9zM291.3 237.9h1.9v1.9h-1.9zM291.2 237.9h1.9v1.9h-1.9zM291.1 237.4h1.9v1.9h-1.9zM291.7 237.7h1.9v1.9h-1.9zM291.8 237.7h1.9v1.9h-1.9zM291.2 237.8h1.9v1.9h-1.9zM291.7 237.6h1.9v1.9h-1.9zM291.4 237.7h1.9v1.9h-1.9zM291.8 237.7h1.9v1.9h-1.9zM292.2 237.6h1.9v1.9h-1.9zM292.3 237.9h1.9v1.9h-1.9zM292.5 237.9h1.9v1.9h-1.9zM292.4 237.7h1.9v1.9h-1.9zM292.5 237.7h1.9v1.9h-1.9zM292.7 237.6h1.9v1.9h-1.9zM292.8 237.7h1.9v1.9h-1.9zM292.7 237.6h1.9v1.9h-1.9zM292.7 237.9h1.9v1.9h-1.9zM293.5 237.6h1.9v1.9h-1.9zM293.2 237.3h1.9v1.9h-1.9zM292.9 237.6h1.9v1.9h-1.9zM293.7 237.7h1.9v1.9h-1.9zM293.5 237.1h1.9v1.9h-1.9zM294.1 237.7h1.9v1.9h-1.9zM294.0 237.4h1.9v1.9h-1.9zM293.9 237.3h1.9v1.9h-1.9zM294.3 237.3h1.9v1.9h-1.9zM294.1 237.2h1.9v1.9h-1.9zM294.4 237.4h1.9v1.9h-1.9zM294.8 237.0h1.9v1.9h-1.9zM294.6 237.0h1.9v1.9h-1.9zM294.7 236.9h1.9v1.9h-1.9zM295.0 236.7h1.9v1.9h-1.9zM295.2 236.7h1.9v1.9h-1.9zM295.7 236.9h1.9v1.9h-1.9zM295.1 236.8h1.9v1.9h-1.9zM295.7 236.4h1.9v1.9h-1.9zM296.0 236.5h1.9v1.9h-1.9zM296.0 236.6h1.9v1.9h-1.9zM295.8 236.7h1.9v1.9h-1.9zM295.7 236.0h1.9v1.9h-1.9zM296.0 236.5h1.9v1.9h-1.9zM296.4 236.1h1.9v1.9h-1.9zM296.2 236.0h1.9v1.9h-1.9zM296.7 236.0h1.9v1.9h-1.9zM296.4 236.0h1.9v1.9h-1.9zM296.5 235.3h1.9v1.9h-1.9zM296.6 235.6h1.9v1.9h-1.9zM296.9 235.5h1.9v1.9h-1.9zM296.6 235.5h1.9v1.9h-1.9zM297.1 235.2h1.9v1.9h-1.9zM297.0 234.9h1.9v1.9h-1.9zM297.3 235.0h1.9v1.9h-1.9zM297.4 234.8h1.9v1.9h-1.9zM297.4 234.8h1.9v1.9h-1.9zM297.3 234.0h1.9v1.9h-1.9zM297.6 234.6h1.9v1.9h-1.9zM297.8 234.3h1.9v1.9h-1.9zM297.9 234.6h1.9v1.9h-1.9zM298.0 234.0h1.9v1.9h-1.9zM298.6 234.3h1.9v1.9h-1.9zM298.5 233.4h1.9v1.9h-1.9zM298.7 233.7h1.9v1.9h-1.9zM298.4 233.3h1.9v1.9h-1.9zM298.8 233.5h1.9v1.9h-1.9zM298.5 233.3h1.9v1.9h-1.9zM299.1 233.2h1.9v1.9h-1.9zM299.6 232.8h1.9v1.9h-1.9zM299.2 232.4h1.9v1.9h-1.9zM299.2 232.7h1.9v1.9h-1.9zM299.4 232.3h1.9v1.9h-1.9zM299.5 232.9h1.9v1.9h-1.9zM299.8 232.8h1.9v1.9h-1.9zM299.3 232.5h1.9v1.9h-1.9zM299.9 232.3h1.9v1.9h-1.9zM300.4 231.9h1.9v1.9h-1.9zM300.1 231.8h1.9v1.9h-1.9zM300.0 231.9h1.9v1.9h-1.9zM300.3 231.4h1.9v1.9h-1.9zM300.6 230.8h1.9v1.9h-1.9zM300.6 231.6h1.9v1.9h-1.9zM300.7 231.2h1.9v1.9h-1.9zM300.8 231.5h1.9v1.9h-1.9zM301.4 231.1h1.9v1.9h-1.9zM300.9 231.2h1.9v1.9h-1.9zM301.7 230.7h1.9v1.9h-1.9zM300.9 230.2h1.9v1.9h-1.9zM301.6 229.7h1.9v1.9h-1.9zM301.4 230.2h1.9v1.9h-1.9zM301.7 229.4h1.9v1.9h-1.9zM301.7 229.7h1.9v1.9h-1.9zM301.7 230.2h1.9v1.9h-1.9zM302.5 230.3h1.9v1.9h-1.9zM302.1 229.5h1.9v1.9h-1.9zM302.6 230.4h1.9v1.9h-1.9zM302.6 229.8h1.9v1.9h-1.9zM302.1 229.4h1.9v1.9h-1.9zM302.6 229.7h1.9v1.9h-1.9zM302.9 228.9h1.9v1.9h-1.9zM303.2 229.1h1.9v1.9h-1.9zM303.4 229.1h1.9v1.9h-1.9zM303.3 228.2h1.9v1.9h-1.9zM302.8 227.9h1.9v1.9h-1.9zM303.4 227.9h1.9v1.9h-1.9zM303.7 227.5h1.9v1.9h-1.9zM303.4 228.1h1.9v1.9h-1.9zM303.7 227.1h1.9v1.9h-1.9zM304.0 228.3h1.9v1.9h-1.9zM304.1 226.8h1.9v1.9h-1.9zM304.2 226.8h1.9v1.9h-1.9zM304.2 226.5h1.9v1.9h-1.9zM304.4 226.7h1.9v1.9h-1.9zM304.0 226.5h1.9v1.9h-1.9zM304.8 226.6h1.9v1.9h-1.9zM304.6 226.6h1.9v1.9h-1.9zM304.7 225.7h1.9v1.9h-1.9zM304.8 226.1h1.9v1.9h-1.9zM304.7 225.2h1.9v1.9h-1.9zM305.0 225.6h1.9v1.9h-1.9zM305.1 225.6h1.9v1.9h-1.9zM305.1 224.7h1.9v1.9h-1.9zM305.4 225.3h1.9v1.9h-1.9zM305.4 224.3h1.9v1.9h-1.9zM305.1 224.2h1.9v1.9h-1.9zM305.8 223.8h1.9v1.9h-1.9zM305.9 223.4h1.9v1.9h-1.9zM306.0 223.4h1.9v1.9h-1.9zM306.0 223.2h1.9v1.9h-1.9zM306.0 222.5h1.9v1.9h-1.9zM306.5 222.9h1.9v1.9h-1.9zM306.6 222.3h1.9v1.9h-1.9zM306.4 221.6h1.9v1.9h-1.9zM306.5 221.6h1.9v1.9h-1.9zM306.8 221.1h1.9v1.9h-1.9zM306.9 222.1h1.9v1.9h-1.9zM307.0 221.6h1.9v1.9h-1.9zM307.0 220.0h1.9v1.9h-1.9zM307.0 220.5h1.9v1.9h-1.9zM306.8 220.8h1.9v1.9h-1.9zM307.0 220.2h1.9v1.9h-1.9zM307.7 220.0h1.9v1.9h-1.9zM307.8 219.6h1.9v1.9h-1.9zM307.9 219.8h1.9v1.9h-1.9zM308.0 219.3h1.9v1.9h-1.9zM307.9 218.6h1.9v1.9h-1.9zM308.3 218.5h1.9v1.9h-1.9zM308.0 218.0h1.9v1.9h-1.9zM308.5 218.5h1.9v1.9h-1.9zM308.7 218.1h1.9v1.9h-1.9zM308.6 217.2h1.9v1.9h-1.9zM309.3 216.4h1.9v1.9h-1.9zM309.3 217.2h1.9v1.9h-1.9zM309.0 217.5h1.9v1.9h-1.9zM309.6 216.0h1.9v1.9h-1.9zM308.8 216.5h1.9v1.9h-1.9zM309.6 215.9h1.9v1.9h-1.9zM309.7 215.9h1.9v1.9h-1.9zM309.5 215.6h1.9v1.9h-1.9zM309.4 214.3h1.9v1.9h-1.9zM310.1 214.4h1.9v1.9h-1.9zM310.2 213.8h1.9v1.9h-1.9zM310.2 213.8h1.9v1.9h-1.9zM310.1 213.5h1.9v1.9h-1.9zM310.8 213.7h1.9v1.9h-1.9zM310.5 213.2h1.9v1.9h-1.9zM310.9 212.7h1.9v1.9h-1.9zM310.4 212.6h1.9v1.9h-1.9zM311.0 212.2h1.9v1.9h-1.9zM311.1 212.2h1.9v1.9h-1.9zM311.2 211.6h1.9v1.9h-1.9zM311.6 211.2h1.9v1.9h-1.9zM311.3 210.8h1.9v1.9h-1.9zM311.7 211.0h1.9v1.9h-1.9zM311.4 209.9h1.9v1.9h-1.9zM312.1 209.9h1.9v1.9h-1.9zM311.9 209.1h1.9v1.9h-1.9zM312.3 208.7h1.9v1.9h-1.9zM312.3 208.8h1.9v1.9h-1.9zM312.2 208.2h1.9v1.9h-1.9zM311.9 207.2h1.9v1.9h-1.9zM312.5 207.4h1.9v1.9h-1.9zM312.7 207.7h1.9v1.9h-1.9zM312.8 206.8h1.9v1.9h-1.9zM312.3 206.3h1.9v1.9h-1.9zM312.5 206.5h1.9v1.9h-1.9zM313.0 206.1h1.9v1.9h-1.9zM313.7 205.6h1.9v1.9h-1.9zM313.0 205.3h1.9v1.9h-1.9zM313.0 204.3h1.9v1.9h-1.9zM313.3 204.8h1.9v1.9h-1.9zM313.4 204.1h1.9v1.9h-1.9zM313.4 204.7h1.9v1.9h-1.9zM314.1 204.3h1.9v1.9h-1.9zM314.0 203.9h1.9v1.9h-1.9zM314.0 203.4h1.9v1.9h-1.9zM314.1 202.4h1.9v1.9h-1.9zM314.2 202.3h1.9v1.9h-1.9zM314.3 201.6h1.9v1.9h-1.9zM314.3 201.3h1.9v1.9h-1.9zM314.0 200.7h1.9v1.9h-1.9zM315.2 200.8h1.9v1.9h-1.9zM315.2 199.9h1.9v1.9h-1.9zM315.0 200.2h1.9v1.9h-1.9zM315.3 199.7h1.9v1.9h-1.9zM314.8 199.4h1.9v1.9h-1.9zM315.5 198.6h1.9v1.9h-1.9zM315.2 199.0h1.9v1.9h-1.9zM315.4 197.8h1.9v1.9h-1.9zM316.0 198.0h1.9v1.9h-1.9zM315.7 197.3h1.9v1.9h-1.9zM316.1 197.0h1.9v1.9h-1.9zM315.8 196.6h1.9v1.9h-1.9zM316.2 195.8h1.9v1.9h-1.9zM316.3 196.0h1.9v1.9h-1.9zM316.2 195.3h1.9v1.9h-1.9zM316.2 194.3h1.9v1.9h-1.9zM315.8 195.3h1.9v1.9h-1.9zM316.6 193.9h1.9v1.9h-1.9zM316.4 193.7h1.9v1.9h-1.9zM317.1 193.2h1.9v1.9h-1.9zM317.1 193.4h1.9v1.9h-1.9zM317.0 193.0h1.9v1.9h-1.9zM317.7 191.7h1.9v1.9h-1.9zM317.3 191.2h1.9v1.9h-1.9zM317.5 191.6h1.9v1.9h-1.9zM317.6 191.1h1.9v1.9h-1.9zM318.0 191.7h1.9v1.9h-1.9zM318.1 190.2h1.9v1.9h-1.9zM317.9 190.1h1.9v1.9h-1.9zM318.4 190.3h1.9v1.9h-1.9zM318.8 188.3h1.9v1.9h-1.9zM318.0 189.0h1.9v1.9h-1.9zM318.7 188.5h1.9v1.9h-1.9zM318.5 187.8h1.9v1.9h-1.9zM318.7 187.9h1.9v1.9h-1.9zM318.6 187.3h1.9v1.9h-1.9zM318.8 186.8h1.9v1.9h-1.9zM318.8 186.4h1.9v1.9h-1.9zM319.0 185.7h1.9v1.9h-1.9zM319.0 185.9h1.9v1.9h-1.9zM319.8 185.8h1.9v1.9h-1.9zM319.1 185.4h1.9v1.9h-1.9zM319.6 184.3h1.9v1.9h-1.9zM320.1 184.5h1.9v1.9h-1.9zM320.5 184.0h1.9v1.9h-1.9zM319.9 184.5h1.9v1.9h-1.9zM320.6 183.1h1.9v1.9h-1.9zM320.4 182.8h1.9v1.9h-1.9zM320.3 182.8h1.9v1.9h-1.9zM320.3 182.1h1.9v1.9h-1.9zM320.7 182.6h1.9v1.9h-1.9zM321.2 181.9h1.9v1.9h-1.9zM320.7 181.4h1.9v1.9h-1.9z"/>
<path fill="#dd0808" d="M239.3 264.4h2.1v2.1h-2.1zM239.3 264.4h2.1v2.1h-2.1zM239.9 264.4h2.1v2.1h-2.1zM239.9 262.8h2.1v2.1h-2.1zM240.0 263.1h2.1v2.1h-2.1zM240.1 263.0h2.1v2.1h-2.1zM239.8 262.6h2.1v2.1h-2.1zM240.2 262.1h2.1v2.1h-2.1zM240.1 261.3h2.1v2.1h-2.1zM240.4 260.7h2.1v2.1h-2.1zM240.2 261.8h2.1v2.1h-2.1zM240.7 261.8h2.1v2.1h-2.1zM240.9 261.1h2.1v2.1h-2.1zM241.1 260.5h2.1v2.1h-2.1zM241.1 260.8h2.1v2.1h-2.1zM241.1 260.5h2.1v2.1h-2.1zM240.9 259.4h2.1v2.1h-2.1zM241.4 259.3h2.1v2.1h-2.1zM240.9 258.9h2.1v2.1h-2.1zM241.8 259.0h2.1v2.1h-2.1zM241.5 258.7h2.1v2.1h-2.1zM242.2 258.2h2.1v2.1h-2.1zM241.6 258.1h2.1v2.1h-2.1zM241.8 259.0h2.1v2.1h-2.1zM241.9 257.6h2.1v2.1h-2.1zM242.0 256.7h2.1v2.1h-2.1zM242.5 257.2h2.1v2.1h-2.1zM242.9 257.6h2.1v2.1h-2.1zM242.5 257.0h2.1v2.1h-2.1zM243.3 256.5h2.1v2.1h-2.1zM242.4 256.4h2.1v2.1h-2.1zM243.1 256.1h2.1v2.1h-2.1zM242.9 256.2h2.1v2.1h-2.1zM243.8 255.9h2.1v2.1h-2.1zM243.3 254.8h2.1v2.1h-2.1zM243.3 254.8h2.1v2.1h-2.1zM243.1 255.0h2.1v2.1h-2.1zM243.3 254.3h2.1v2.1h-2.1zM243.5 255.0h2.1v2.1h-2.1zM243.7 253.5h2.1v2.1h-2.1zM244.0 253.5h2.1v2.1h-2.1zM244.4 253.9h2.1v2.1h-2.1zM244.5 252.8h2.1v2.1h-2.1zM244.2 252.6h2.1v2.1h-2.1zM244.3 252.9h2.1v2.1h-2.1zM244.7 252.1h2.1v2.1h-2.1zM244.4 252.6h2.1v2.1h-2.1zM244.7 251.7h2.1v2.1h-2.1zM244.8 252.4h2.1v2.1h-2.1zM244.7 251.5h2.1v2.1h-2.1zM245.2 251.0h2.1v2.1h-2.1zM245.5 250.7h2.1v2.1h-2.1zM245.6 251.7h2.1v2.1h-2.1zM245.8 251.2h2.1v2.1h-2.1zM245.9 251.0h2.1v2.1h-2.1zM245.8 250.8h2.1v2.1h-2.1zM245.7 250.3h2.1v2.1h-2.1zM246.0 250.2h2.1v2.1h-2.1zM246.2 250.1h2.1v2.1h-2.1zM246.1 249.7h2.1v2.1h-2.1zM246.2 249.4h2.1v2.1h-2.1zM246.3 250.1h2.1v2.1h-2.1zM246.2 249.0h2.1v2.1h-2.1zM246.6 249.5h2.1v2.1h-2.1zM246.8 249.0h2.1v2.1h-2.1zM246.9 249.4h2.1v2.1h-2.1zM246.9 248.7h2.1v2.1h-2.1zM246.9 247.7h2.1v2.1h-2.1zM247.3 248.3h2.1v2.1h-2.1zM247.7 248.1h2.1v2.1h-2.1zM247.2 248.0h2.1v2.1h-2.1zM247.9 248.3h2.1v2.1h-2.1zM247.5 248.0h2.1v2.1h-2.1zM247.5 246.9h2.1v2.1h-2.1zM247.9 247.4h2.1v2.1h-2.1zM247.7 247.0h2.1v2.1h-2.1zM248.1 246.8h2.1v2.1h-2.1zM248.2 246.8h2.1v2.1h-2.1zM248.1 247.0h2.1v2.1h-2.1zM248.4 246.6h2.1v2.1h-2.1zM248.8 245.9h2.1v2.1h-2.1zM248.8 246.2h2.1v2.1h-2.1zM249.1 246.2h2.1v2.1h-2.1zM249.0 246.7h2.1v2.1h-2.1zM248.9 245.5h2.1v2.1h-2.1zM248.8 246.1h2.1v2.1h-2.1zM249.5 246.2h2.1v2.1h-2.1zM249.4 245.2h2.1v2.1h-2.1zM250.1 245.7h2.1v2.1h-2.1zM249.6 245.1h2.1v2.1h-2.1zM249.8 245.2h2.1v2.1h-2.1zM250.1 245.1h2.1v2.1h-2.1zM250.4 245.0h2.1v2.1h-2.1zM250.4 244.6h2.1v2.1h-2.1zM250.2 244.6h2.1v2.1h-2.1zM249.8 245.3h2.1v2.1h-2.1zM250.9 244.4h2.1v2.1h-2.1zM250.7 244.4h2.1v2.1h-2.1zM250.7 245.0h2.1v2.1h-2.1zM250.5 244.1h2.1v2.1h-2.1zM251.0 243.4h2.1v2.1h-2.1zM251.5 244.0h2.1v2.1h-2.1zM251.5 244.5h2.1v2.1h-2.1zM251.4 243.9h2.1v2.1h-2.1zM251.8 243.9h2.1v2.1h-2.1zM251.7 244.3h2.1v2.1h-2.1zM251.6 242.8h2.1v2.1h-2.1zM251.6 244.1h2.1v2.1h-2.1zM252.5 243.4h2.1v2.1h-2.1zM252.1 243.8h2.1v2.1h-2.1zM252.0 244.0h2.1v2.1h-2.1zM252.3 243.0h2.1v2.1h-2.1zM252.1 244.0h2.1v2.1h-2.1zM252.4 242.9h2.1v2.1h-2.1zM252.7 242.7h2.1v2.1h-2.1zM253.2 242.9h2.1v2.1h-2.1zM253.2 242.2h2.1v2.1h-2.1zM253.1 242.9h2.1v2.1h-2.1zM253.7 242.9h2.1v2.1h-2.1zM253.4 243.0h2.1v2.1h-2.1zM253.4 242.3h2.1v2.1h-2.1zM252.9 241.7h2.1v2.1h-2.1zM253.2 242.2h2.1v2.1h-2.1zM253.1 241.7h2.1v2.1h-2.1zM254.4 241.8h2.1v2.1h-2.1zM254.0 242.1h2.1v2.1h-2.1zM253.6 242.7h2.1v2.1h-2.1zM254.5 241.9h2.1v2.1h-2.1zM254.3 241.9h2.1v2.1h-2.1zM254.1 241.4h2.1v2.1h-2.1zM254.6 241.4h2.1v2.1h-2.1zM254.6 241.8h2.1v2.1h-2.1zM254.9 241.5h2.1v2.1h-2.1zM254.9 242.0h2.1v2.1h-2.1zM255.2 241.3h2.1v2.1h-2.1zM255.5 241.1h2.1v2.1h-2.1zM255.1 241.2h2.1v2.1h-2.1zM255.4 241.7h2.1v2.1h-2.1zM254.9 240.2h2.1v2.1h-2.1zM256.3 240.8h2.1v2.1h-2.1zM255.5 240.6h2.1v2.1h-2.1zM256.3 240.8h2.1v2.1h-2.1zM256.4 240.1h2.1v2.1h-2.1zM256.1 240.5h2.1v2.1h-2.1zM256.6 240.7h2.1v2.1h-2.1zM256.4 240.3h2.1v2.1h-2.1zM257.1 240.3h2.1v2.1h-2.1zM256.6 239.6h2.1v2.1h-2.1zM256.6 240.0h2.1v2.1h-2.1zM257.1 240.2h2.1v2.1h-2.1zM257.2 240.1h2.1v2.1h-2.1zM256.4 240.1h2.1v2.1h-2.1zM257.2 240.0h2.1v2.1h-2.1zM257.4 239.8h2.1v2.1h-2.1zM257.8 240.0h2.1v2.1h-2.1zM257.4 240.1h2.1v2.1h-2.1zM257.9 240.2h2.1v2.1h-2.1zM257.4 240.0h2.1v2.1h-2.1zM258.3 240.1h2.1v2.1h-2.1zM258.3 239.4h2.1v2.1h-2.1zM258.0 239.5h2.1v2.1h-2.1zM258.1 239.8h2.1v2.1h-2.1zM258.6 240.0h2.1v2.1h-2.1zM258.5 239.1h2.1v2.1h-2.1zM258.6 239.4h2.1v2.1h-2.1zM258.9 239.6h2.1v2.1h-2.1zM258.6 239.6h2.1v2.1h-2.1zM258.7 239.4h2.1v2.1h-2.1zM259.1 239.4h2.1v2.1h-2.1zM259.8 239.4h2.1v2.1h-2.1zM259.0 239.4h2.1v2.1h-2.1zM259.5 239.6h2.1v2.1h-2.1zM259.2 239.6h2.1v2.1h-2.1zM259.6 239.2h2.1v2.1h-2.1zM259.7 239.1h2.1v2.1h-2.1zM260.2 239.2h2.1v2.1h-2.1zM260.2 238.9h2.1v2.1h-2.1zM260.2 239.0h2.1v2.1h-2.1zM260.7 238.7h2.1v2.1h-2.1zM260.5 238.5h2.1v2.1h-2.1zM260.4 239.0h2.1v2.1h-2.1zM260.6 239.1h2.1v2.1h-2.1zM260.8 239.4h2.1v2.1h-2.1zM260.7 239.2h2.1v2.1h-2.1zM261.3 238.9h2.1v2.1h-2.1zM261.1 239.0h2.1v2.1h-2.1zM261.6 238.5h2.1v2.1h-2.1zM261.2 238.8h2.1v2.1h-2.1zM261.5 238.9h2.1v2.1h-2.1zM261.4 239.1h2.1v2.1h-2.1zM261.9 238.8h2.1v2.1h-2.1zM262.0 238.7h2.1v2.1h-2.1zM262.2 238.4h2.1v2.1h-2.1zM262.2 238.9h2.1v2.1h-2.1zM262.4 238.5h2.1v2.1h-2.1zM262.3 238.3h2.1v2.1h-2.1zM262.6 238.9h2.1v2.1h-2.1zM262.6 238.6h2.1v2.1h-2.1zM262.9 238.3h2.1v2.1h-2.1zM262.5 238.2h2.1v2.1h-2.1zM263.0 238.4h2.1v2.1h-2.1zM263.2 238.2h2.1v2.1h-2.1zM263.6 238.1h2.1v2.1h-2.1zM263.4 238.6h2.1v2.1h-2.1zM263.3 238.1h2.1v2.1h-2.1zM263.5 238.2h2.1v2.1h-2.1zM263.6 238.0h2.1v2.1h-2.1zM264.1 238.3h2.1v2.1h-2.1zM263.7 238.4h2.1v2.1h-2.1zM264.2 238.2h2.1v2.1h-2.1zM264.0 238.0h2.1v2.1h-2.1zM264.4 238.3h2.1v2.1h-2.1zM264.6 237.8h2.1v2.1h-2.1zM264.1 238.1h2.1v2.1h-2.1zM264.5 237.8h2.1v2.1h-2.1zM264.7 238.1h2.1v2.1h-2.1zM265.0 238.1h2.1v2.1h-2.1zM265.1 238.0h2.1v2.1h-2.1zM265.8 237.8h2.1v2.1h-2.1zM265.2 238.0h2.1v2.1h-2.1zM265.5 238.0h2.1v2.1h-2.1zM265.5 238.1h2.1v2.1h-2.1zM265.3 237.9h2.1v2.1h-2.1zM265.7 238.0h2.1v2.1h-2.1zM266.5 237.9h2.1v2.1h-2.1zM266.0 237.9h2.1v2.1h-2.1zM266.1 237.9h2.1v2.1h-2.1zM266.1 237.8h2.1v2.1h-2.1zM266.4 238.0h2.1v2.1h-2.1zM266.5 237.5h2.1v2.1h-2.1zM266.3 237.5h2.1v2.1h-2.1zM266.4 237.7h2.1v2.1h-2.1zM266.8 237.5h2.1v2.1h-2.1zM266.7 237.4h2.1v2.1h-2.1zM267.0 237.9h2.1v2.1h-2.1zM266.9 237.5h2.1v2.1h-2.1zM267.6 237.9h2.1v2.1h-2.1zM267.1 237.8h2.1v2.1h-2.1zM267.5 237.5h2.1v2.1h-2.1zM267.7 237.7h2.1v2.1h-2.1zM267.2 237.6h2.1v2.1h-2.1zM267.2 237.9h2.1v2.1h-2.1zM267.8 238.0h2.1v2.1h-2.1zM268.0 237.7h2.1v2.1h-2.1zM268.5 237.6h2.1v2.1h-2.1zM267.9 237.5h2.1v2.1h-2.1zM268.3 237.7h2.1v2.1h-2.1zM268.6 237.6h2.1v2.1h-2.1zM268.2 237.7h2.1v2.1h-2.1zM269.0 237.5h2.1v2.1h-2.1zM269.1 237.5h2.1v2.1h-2.1zM269.0 237.6h2.1v2.1h-2.1zM269.3 237.9h2.1v2.1h-2.1zM269.2 237.6h2.1v2.1h-2.1zM269.0 237.5h2.1v2.1h-2.1zM269.5 237.7h2.1v2.1h-2.1zM269.1 237.8h2.1v2.1h-2.1zM269.5 237.7h2.1v2.1h-2.1zM269.8 238.0h2.1v2.1h-2.1zM269.9 237.7h2.1v2.1h-2.1zM269.8 237.8h2.1v2.1h-2.1zM270.1 237.6h2.1v2.1h-2.1zM270.3 237.7h2.1v2.1h-2.1zM270.6 237.5h2.1v2.1h-2.1zM270.6 237.7h2.1v2.1h-2.1zM270.4 237.7h2.1v2.1h-2.1zM271.2 237.4h2.1v2.1h-2.1zM270.7 237.6h2.1v2.1h-2.1zM271.6 237.6h2.1v2.1h-2.1zM270.9 237.6h2.1v2.1h-2.1zM271.6 237.5h2.1v2.1h-2.1zM271.4 237.7h2.1v2.1h-2.1zM271.4 237.5h2.1v2.1h-2.1zM271.3 237.7h2.1v2.1h-2.1zM271.4 237.6h2.1v2.1h-2.1zM271.1 237.3h2.1v2.1h-2.1zM271.5 237.6h2.1v2.1h-2.1zM272.1 237.6h2.1v2.1h-2.1zM272.3 237.6h2.1v2.1h-2.1zM272.1 237.8h2.1v2.1h-2.1zM272.1 237.6h2.1v2.1h-2.1zM272.6 237.8h2.1v2.1h-2.1zM272.8 237.6h2.1v2.1h-2.1zM272.6 237.7h2.1v2.1h-2.1zM273.2 237.6h2.1v2.1h-2.1zM272.7 237.6h2.1v2.1h-2.1zM272.9 237.4h2.1v2.1h-2.1zM273.4 237.6h2.1v2.1h-2.1zM273.0 237.9h2.1v2.1h-2.1zM273.2 237.7h2.1v2.1h-2.1zM273.4 237.7h2.1v2.1h-2.1zM273.9 237.5h2.1v2.1h-2.1zM273.8 237.4h2.1v2.1h-2.1zM274.2 237.8h2.1v2.1h-2.1zM273.5 237.5h2.1v2.1h-2.1zM274.4 237.7h2.1v2.1h-2.1zM274.0 237.5h2.1v2.1h-2.1zM274.5 237.7h2.1v2.1h-2.1zM274.3 237.8h2.1v2.1h-2.1zM274.5 237.4h2.1v2.1h-2.1zM274.7 238.0h2.1v2.1h-2.1zM274.5 237.6h2.1v2.1h-2.1zM275.0 237.9h2.1v2.1h-2.1zM275.3 237.8h2.1v2.1h-2.1zM275.1 237.7h2.1v2.1h-2.1zM275.3 237.7h2.1v2.1h-2.1zM275.3 237.5h2.1v2.1h-2.1zM275.4 237.8h2.1v2.1h-2.1zM275.7 237.9h2.1v2.1h-2.1zM275.3 237.5h2.1v2.1h-2.1zM275.7 237.9h2.1v2.1h-2.1zM275.8 238.0h2.1v2.1h-2.1zM276.1 237.6h2.1v2.1h-2.1zM276.1 237.9h2.1v2.1h-2.1zM276.4 237.7h2.1v2.1h-2.1zM276.6 237.9h2.1v2.1h-2.1zM276.6 237.5h2.1v2.1h-2.1zM276.7 237.6h2.1v2.1h-2.1zM276.6 237.7h2.1v2.1h-2.1zM276.5 237.9h2.1v2.1h-2.1zM277.1 237.7h2.1v2.1h-2.1zM277.0 237.7h2.1v2.1h-2.1zM277.4 237.7h2.1v2.1h-2.1zM277.6 237.5h2.1v2.1h-2.1zM277.7 237.3h2.1v2.1h-2.1zM277.6 237.5h2.1v2.1h-2.1zM277.9 237.7h2.1v2.1h-2.1zM277.8 237.5h2.1v2.1h-2.1zM277.7 237.9h2.1v2.1h-2.1zM278.2 237.4h2.1v2.1h-2.1zM278.2 237.5h2.1v2.1h-2.1zM278.2 237.4h2.1v2.1h-2.1zM278.3 237.8h2.1v2.1h-2.1zM278.6 237.4h2.1v2.1h-2.1zM279.1 237.6h2.1v2.1h-2.1zM278.6 237.7h2.1v2.1h-2.1zM279.4 237.9h2.1v2.1h-2.1zM279.2 237.8h2.1v2.1h-2.1zM279.1 237.7h2.1v2.1h-2.1zM279.4 237.8h2.1v2.1h-2.1zM279.4 237.7h2.1v2.1h-2.1zM279.6 237.8h2.1v2.1h-2.1zM279.9 237.8h2.1v2.1h-2.1zM280.0 237.7h2.1v2.1h-2.1zM280.2 237.5h2.1v2.1h-2.1zM280.3 237.6h2.1v2.1h-2.1zM279.8 237.4h2.1v2.1h-2.1zM280.2 237.8h2.1v2.1h-2.1zM280.3 237.9h2.1v2.1h-2.1zM280.3 238.1h2.1v2.1h-2.1zM280.5 237.6h2.1v2.1h-2.1zM281.0 237.6h2.1v2.1h-2.1zM281.1 237.8h2.1v2.1h-2.1zM280.5 237.7h2.1v2.1h-2.1zM281.4 237.7h2.1v2.1h-2.1zM281.4 237.8h2.1v2.1h-2.1zM281.4 237.7h2.1v2.1h-2.1zM281.2 237.9h2.1v2.1h-2.1zM281.8 237.6h2.1v2.1h-2.1zM281.7 237.7h2.1v2.1h-2.1zM282.0 237.9h2.1v2.1h-2.1zM282.1 237.8h2.1v2.1h-2.1zM281.9 238.0h2.1v2.1h-2.1zM281.9 237.7h2.1v2.1h-2.1zM282.3 237.7h2.1v2.1h-2.1zM282.2 237.7h2.1v2.1h-2.1zM282.7 237.8h2.1v2.1h-2.1zM282.7 237.9h2.1v2.1h-2.1zM282.5 237.5h2.1v2.1h-2.1zM282.9 237.8h2.1v2.1h-2.1zM282.5 237.9h2.1v2.1h-2.1zM283.3 237.9h2.1v2.1h-2.1zM283.2 237.8h2.1v2.1h-2.1zM283.4 237.6h2.1v2.1h-2.1zM283.4 237.4h2.1v2.1h-2.1zM283.5 237.8h2.1v2.1h-2.1zM283.4 237.6h2.1v2.1h-2.1zM283.7 237.7h2.1v2.1h-2.1zM283.7 237.8h2.1v2.1h-2.1zM283.6 237.7h2.1v2.1h-2.1zM284.0 237.7h2.1v2.1h-2.1zM284.3 237.8h2.1v2.1h-2.1zM284.2 237.7h2.1v2.1h-2.1zM284.7 237.7h2.1v2.1h-2.1zM284.7 237.8h2.1v2.1h-2.1zM285.1 237.4h2.1v2.1h-2.1zM284.7 237.6h2.1v2.1h-2.1zM285.2 237.8h2.1v2.1h-2.1zM285.2 237.6h2.1v2.1h-2.1zM284.9 237.6h2.1v2.1h-2.1zM285.5 237.6h2.1v2.1h-2.1zM285.3 237.8h2.1v2.1h-2.1zM285.6 237.5h2.1v2.1h-2.1zM285.5 237.6h2.1v2.1h-2.1zM286.0 237.6h2.1v2.1h-2.1zM286.3 237.7h2.1v2.1h-2.1zM286.1 237.8h2.1v2.1h-2.1zM286.4 237.4h2.1v2.1h-2.1zM286.2 237.5h2.1v2.1h-2.1zM286.7 238.0h2.1v2.1h-2.1zM286.5 237.5h2.1v2.1h-2.1zM286.9 237.8h2.1v2.1h-2.1zM286.6 237.7h2.1v2.1h-2.1zM286.3 237.6h2.1v2.1h-2.1zM286.9 237.7h2.1v2.1h-2.1zM287.2 237.6h2.1v2.1h-2.1zM287.1 237.5h2.1v2.1h-2.1zM287.4 237.6h2.1v2.1h-2.1zM287.2 237.7h2.1v2.1h-2.1zM287.6 237.6h2.1v2.1h-2.1zM288.1 237.7h2.1v2.1h-2.1zM287.8 237.7h2.1v2.1h-2.1zM287.8 237.8h2.1v2.1h-2.1zM287.9 237.7h2.1v2.1h-2.1zM288.2 237.5h2.1v2.1h-2.1zM288.0 237.9h2.1v2.1h-2.1zM288.2 237.5h2.1v2.1h-2.1zM288.5 237.6h2.1v2.1h-2.1zM288.8 237.4h2.1v2.1h-2.1zM288.6 237.8h2.1v2.1h-2.1zM288.4 237.6h2.1v2.1h-2.1zM288.9 237.6h2.1v2.1h-2.1zM289.1 237.7h2.1v2.1h-2.1zM289.0 237.7h2.1v2.1h-2.1zM289.5 237.5h2.1v2.1h-2.1zM289.3 237.9h2.1v2.1h-2.1zM289.3 237.9h2.1v2.1h-2.1zM289.7 237.4h2.1v2.1h-2.1zM290.1 237.7h2.1v2.1h-2.1zM289.9 237.9h2.1v2.1h-2.1zM289.9 237.9h2.1v2.1h-2.1zM289.7 237.5h2.1v2.1h-2.1zM290.4 237.5h2.1v2.1h-2.1zM290.2 237.5h2.1v2.1h-2.1zM290.5 237.5h2.1v2.1h-2.1zM291.1 237.7h2.1v2.1h-2.1zM290.9 237.6h2.1v2.1h-2.1zM290.6 237.6h2.1v2.1h-2.1zM290.8 237.9h2.1v2.1h-2.1zM291.3 237.4h2.1v2.1h-2.1zM291.3 237.8h2.1v2.1h-2.1zM291.4 237.5h2.1v2.1h-2.1zM291.6 237.7h2.1v2.1h-2.1zM291.7 237.7h2.1v2.1h-2.1zM291.8 237.6h2.1v2.1h-2.1zM291.5 237.5h2.1v2.1h-2.1zM292.3 237.5h2.1v2.1h-2.1zM291.8 237.4h2.1v2.1h-2.1zM292.5 237.3h2.1v2.1h-2.1zM292.4 237.6h2.1v2.1h-2.1zM292.1 237.3h2.1v2.1h-2.1zM292.4 237.5h2.1v2.1h-2.1zM292.6 237.5h2.1v2.1h-2.1zM292.9 237.3h2.1v2.1h-2.1zM292.9 237.6h2.1v2.1h-2.1zM293.1 237.4h2.1v2.1h-2.1zM293.2 237.4h2.1v2.1h-2.1zM293.2 237.3h2.1v2.1h-2.1zM293.6 237.9h2.1v2.1h-2.1zM293.9 237.4h2.1v2.1h-2.1zM293.9 237.2h2.1v2.1h-2.1zM293.5 237.6h2.1v2.1h-2.1zM293.7 237.6h2.1v2.1h-2.1zM293.7 237.2h2.1v2.1h-2.1zM294.5 237.0h2.1v2.1h-2.1zM294.2 237.5h2.1v2.1h-2.1zM294.2 237.2h2.1v2.1h-2.1zM294.9 237.0h2.1v2.1h-2.1zM294.3 236.9h2.1v2.1h-2.1zM294.5 236.9h2.1v2.1h-2.1zM295.0 236.8h2.1v2.1h-2.1zM295.3 236.7h2.1v2.1h-2.1zM295.2 237.2h2.1v2.1h-2.1zM295.3 236.6h2.1v2.1h-2.1zM295.4 236.9h2.1v2.1h-2.1zM295.3 236.7h2.1v2.1h-2.1zM295.4 236.4h2.1v2.1h-2.1zM296.1 236.3h2.1v2.1h-2.1zM295.4 236.6h2.1v2.1h-2.1zM295.9 235.3h2.1v2.1h-2.1zM295.8 236.3h2.1v2.1h-2.1zM295.9 235.5h2.1v2.1h-2.1zM296.2 235.7h2.1v2.1h-2.1zM296.5 235.7h2.1v2.1h-2.1zM296.5 235.3h2.1v2.1h-2.1zM296.4 234.8h2.1v2.1h-2.1zM296.5 235.0h2.1v2.1h-2.1zM296.7 235.3h2.1v2.1h-2.1zM297.4 234.9h2.1v2.1h-2.1zM296.8 234.8h2.1v2.1h-2.1zM297.4 234.8h2.1v2.1h-2.1zM297.3 234.8h2.1v2.1h-2.1zM297.3 234.6h2.1v2.1h-2.1zM297.4 234.8h2.1v2.1h-2.1zM297.9 234.4h2.1v2.1h-2.1zM297.9 234.0h2.1v2.1h-2.1zM297.9 233.6h2.1v2.1h-2.1zM298.1 234.0h2.1v2.1h-2.1zM298.8 233.5h2.1v2.1h-2.1zM298.4 233.6h2.1v2.1h-2.1zM298.3 233.3h2.1v2.1h-2.1zM298.6 233.1h2.1v2.1h-2.1zM298.6 233.9h2.1v2.1h-2.1zM298.7 232.6h2.1v2.1h-2.1zM298.5 232.7h2.1v2.1h-2.1zM298.9 233.2h2.1v2.1h-2.1zM298.9 232.9h2.1v2.1h-2.1zM299.2 232.4h2.1v2.1h-2.1zM299.6 232.9h2.1v2.1h-2.1zM299.3 232.1h2.1v2.1h-2.1zM300.1 231.7h2.1v2.1h-2.1zM300.0 232.2h2.1v2.1h-2.1zM299.6 231.5h2.1v2.1h-2.1zM300.1 231.1h2.1v2.1h-2.1zM300.1 231.6h2.1v2.1h-2.1zM300.3 231.3h2.1v2.1h-2.1zM300.6 231.6h2.1v2.1h-2.1zM300.4 231.3h2.1v2.1h-2.1zM300.8 231.1h2.1v2.1h-2.1zM300.9 231.1h2.1v2.1h-2.1zM300.9 231.3h2.1v2.1h-2.1zM301.2 231.0h2.1v2.1h-2.1zM300.9 230.6h2.1v2.1h-2.1zM301.3 230.2h2.1v2.1h-2.1zM301.4 231.2h2.1v2.1h-2.1zM301.2 230.0h2.1v2.1h-2.1zM301.2 230.3h2.1v2.1h-2.1zM301.8 229.5h2.1v2.1h-2.1zM301.4 230.1h2.1v2.1h-2.1zM301.8 228.9h2.1v2.1h-2.1zM302.3 229.3h2.1v2.1h-2.1zM302.3 229.7h2.1v2.1h-2.1zM302.4 229.3h2.1v2.1h-2.1zM302.5 229.1h2.1v2.1h-2.1zM302.8 229.3h2.1v2.1h-2.1zM302.7 228.8h2.1v2.1h-2.1zM302.8 228.6h2.1v2.1h-2.1zM303.0 228.4h2.1v2.1h-2.1zM302.8 228.2h2.1v2.1h-2.1zM303.3 228.2h2.1v2.1h-2.1zM303.2 229.1h2.1v2.1h-2.1zM303.3 227.7h2.1v2.1h-2.1zM303.7 227.8h2.1v2.1h-2.1zM303.3 227.5h2.1v2.1h-2.1zM303.9 227.7h2.1v2.1h-2.1zM303.5 227.2h2.1v2.1h-2.1zM303.8 227.6h2.1v2.1h-2.1zM303.9 226.4h2.1v2.1h-2.1zM303.7 226.6h2.1v2.1h-2.1zM304.2 226.2h2.1v2.1h-2.1zM304.3 226.6h2.1v2.1h-2.1zM304.5 226.5h2.1v2.1h-2.1zM304.9 226.2h2.1v2.1h-2.1zM304.8 225.7h2.1v2.1h-2.1zM304.4 225.2h2.1v2.1h-2.1zM304.7 225.0h2.1v2.1h-2.1zM305.2 225.8h2.1v2.1h-2.1zM304.8 225.1h2.1v2.1h-2.1zM305.6 225.0h2.1v2.1h-2.1zM305.5 224.1h2.1v2.1h-2.1zM305.2 224.6h2.1v2.1h-2.1zM305.8 224.1h2.1v2.1h-2.1zM305.8 223.5h2.1v2.1h-2.1zM306.2 223.7h2.1v2.1h-2.1zM305.9 222.9h2.1v2.1h-2.1zM306.1 222.4h2.1v2.1h-2.1zM306.1 222.1h2.1v2.1h-2.1zM306.4 222.9h2.1v2.1h-2.1zM306.1 222.7h2.1v2.1h-2.1zM306.3 220.9h2.1v2.1h-2.1zM307.1 221.8h2.1v2.1h-2.1zM307.1 221.4h2.1v2.1h-2.1zM307.4 221.4h2.1v2.1h-2.1zM307.3 221.6h2.1v2.1h-2.1zM307.2 220.5h2.1v2.1h-2.1zM307.5 220.6h2.1v2.1h-2.1zM307.2 220.7h2.1v2.1h-2.1zM307.4 219.2h2.1v2.1h-2.1zM307.5 219.5h2.1v2.1h-2.1zM307.4 219.8h2.1v2.1h-2.1zM308.0 218.8h2.1v2.1h-2.1zM307.6 219.4h2.1v2.1h-2.1zM308.3 219.0h2.1v2.1h-2.1zM307.6 218.6h2.1v2.1h-2.1zM308.5 217.8h2.1v2.1h-2.1zM308.6 218.4h2.1v2.1h-2.1zM308.6 217.8h2.1v2.1h-2.1zM308.9 217.2h2.1v2.1h-2.1zM308.8 216.7h2.1v2.1h-2.1zM308.5 216.9h2.1v2.1h-2.1zM309.0 216.1h2.1v2.1h-2.1zM309.1 215.7h2.1v2.1h-2.1zM309.4 216.6h2.1v2.1h-2.1zM309.5 215.8h2.1v2.1h-2.1zM309.6 214.9h2.1v2.1h-2.1zM309.8 214.9h2.1v2.1h-2.1zM309.5 215.8h2.1v2.1h-2.1zM310.2 213.7h2.1v2.1h-2.1zM310.7 214.4h2.1v2.1h-2.1zM310.2 213.7h2.1v2.1h-2.1zM310.5 213.2h2.1v2.1h-2.1zM310.4 212.8h2.1v2.1h-2.1zM310.3 213.2h2.1v2.1h-2.1zM310.9 212.4h2.1v2.1h-2.1zM310.6 212.6h2.1v2.1h-2.1zM310.8 211.5h2.1v2.1h-2.1zM311.1 211.1h2.1v2.1h-2.1zM311.4 211.3h2.1v2.1h-2.1zM310.9 211.5h2.1v2.1h-2.1zM311.0 210.4h2.1v2.1h-2.1zM311.5 210.3h2.1v2.1h-2.1zM311.9 209.6h2.1v2.1h-2.1zM312.0 209.4h2.1v2.1h-2.1zM311.5 208.3h2.1v2.1h-2.1zM311.5 209.2h2.1v2.1h-2.1zM311.9 208.7h2.1v2.1h-2.1zM311.9 207.6h2.1v2.1h-2.1zM311.8 208.5h2.1v2.1h-2.1zM312.4 207.9h2.1v2.1h-2.1zM312.2 207.1h2.1v2.1h-2.1zM312.2 206.3h2.1v2.1h-2.1zM312.6 205.9h2.1v2.1h-2.1zM312.3 206.0h2.1v2.1h-2.1zM312.7 205.9h2.1v2.1h-2.1zM313.3 205.7h2.1v2.1h-2.1zM313.2 205.4h2.1v2.1h-2.1zM312.7 204.5h2.1v2.1h-2.1zM313.1 204.3h2.1v2.1h-2.1zM313.5 204.2h2.1v2.1h-2.1zM313.7 203.9h2.1v2.1h-2.1zM313.8 203.2h2.1v2.1h-2.1zM313.8 202.9h2.1v2.1h-2.1zM313.9 202.4h2.1v2.1h-2.1zM314.0 201.8h2.1v2.1h-2.1zM314.3 202.0h2.1v2.1h-2.1zM314.4 201.6h2.1v2.1h-2.1zM314.7 201.2h2.1v2.1h-2.1zM314.2 200.7h2.1v2.1h-2.1zM314.9 200.4h2.1v2.1h-2.1zM314.7 199.9h2.1v2.1h-2.1zM314.7 199.6h2.1v2.1h-2.1zM315.0 199.0h2.1v2.1h-2.1zM315.2 199.3h2.1v2.1h-2.1zM315.1 198.4h2.1v2.1h-2.1zM315.4 198.6h2.1v2.1h-2.1zM315.3 197.6h2.1v2.1h-2.1zM315.7 197.5h2.1v2.1h-2.1zM316.2 196.8h2.1v2.1h-2.1zM315.5 196.3h2.1v2.1h-2.1zM316.1 196.4h2.1v2.1h-2.1zM316.3 195.9h2.1v2.1h-2.1zM316.3 195.2h2.1v2.1h-2.1zM316.3 195.3h2.1v2.1h-2.1zM316.4 195.3h2.1v2.1h-2.1zM317.0 194.0h2.1v2.1h-2.1zM316.9 193.7h2.1v2.1h-2.1zM316.9 193.1h2.1v2.1h-2.1zM317.4 192.7h2.1v2.1h-2.1zM316.9 193.0h2.1v2.1h-2.1zM317.0 192.7h2.1v2.1h-2.1zM317.1 191.6h2.1v2.1h-2.1zM317.5 191.7h2.1v2.1h-2.1zM317.3 191.7h2.1v2.1h-2.1zM317.5 191.0h2.1v2.1h-2.1zM317.6 190.2h2.1v2.1h-2.1zM317.9 190.3h2.1v2.1h-2.1zM317.9 189.8h2.1v2.1h-2.1zM318.0 189.4h2.1v2.1h-2.1zM318.4 189.3h2.1v2.1h-2.1zM318.5 189.0h2.1v2.1h-2.1zM318.8 188.1h2.1v2.1h-2.1zM318.6 188.3h2.1v2.1h-2.1zM318.2 187.7h2.1v2.1h-2.1zM318.9 187.3h2.1v2.1h-2.1zM318.9 186.1h2.1v2.1h-2.1zM319.2 186.3h2.1v2.1h-2.1zM319.0 185.9h2.1v2.1h-2.1zM319.5 186.1h2.1v2.1h-2.1zM319.0 185.2h2.1v2.1h-2.1zM319.7 185.1h2.1v2.1h-2.1zM320.0 184.8h2.1v2.1h-2.1zM319.9 184.2h2.1v2.1h-2.1zM320.2 184.0h2.1v2.1h-2.1zM320.0 183.1h2.1v2.1h-2.1zM320.3 182.9h2.1v2.1h-2.1zM320.2 182.9h2.1v2.1h-2.1zM320.6 182.6h2.1v2.1h-2.1zM320.3 181.9h2.1v2.1h-2.1zM320.3 181.9h2.1v2.1h-2.1zM321.0 181.4h2.1v2.1h-2.1zM320.9 180.6h2.1v2.1h-2.1zM321.1 180.7h2.1v2.1h-2.1zM321.2 179.8h2.1v2.1h-2.1zM320.8 180.0h2.1v2.1h-2.1zM321.3 180.3h2.1v2.1h-2.1zM321.5 178.8h2.1v2.1h-2.1zM321.4 179.2h2.1v2.1h-2.1zM321.7 178.8h2.1v2.1h-2.1zM321.7 178.2h2.1v2.1h-2.1z"/>
<text transform="matrix(0.9857,0.0000,0.0000,0.9833,-52.757,-40.517)" x="100" y="50" font-size="13">(a)</text>
<text transform="matrix(0.9000,0.0000,0.0000,1.0350,-59.585,-102.650)" x="100" y="130" font-size="14.5">2</text>
<text transform="matrix(0.9300,0.0000,0.0000,1.0050,-63.170,-153.150)" x="100" y="210" font-size="14.5">1</text>
<text transform="matrix(0.9625,0.0000,0.0000,1.0350,-65.950,-216.250)" x="100" y="290" font-size="14.5">0</text>
<text transform="matrix(0.8785,0.0000,0.0000,1.0050,-61.996,-261.950)" x="100" y="370" font-size="14.5">-1</text>
<text transform="matrix(0.9767,0.0000,0.0000,1.0700,-72.117,-345.800)" x="100" y="450" font-size="14.5">-2</text>
<text transform="matrix(0.0000,-1.0343,1.0917,0.0000,-555.658,198.929)" x="100" y="530" font-size="13"><tspan font-style="italic">I</tspan> (mA)</text>
<text transform="matrix(0.9182,0.0000,0.0000,0.9778,-24.336,-569.100)" x="100" y="610" font-size="8.5"><tspan font-style="italic">V</tspan><tspan font-size="5" dy="2">G</tspan><tspan dy="-2"> (V)</tspan></text>
<text transform="matrix(0.8333,0.0000,0.0000,1.0833,10.933,-720.600)" x="100" y="690" font-size="9">-2</text>
<text transform="matrix(0.9933,0.0000,0.0000,1.0833,6.767,-807.267)" x="100" y="770" font-size="9">-1.8</text>
<text transform="matrix(1.0133,0.0000,0.0000,1.0833,20.167,-893.933)" x="100" y="850" font-size="9">-1.6</text>
<text transform="matrix(0.8750,0.0000,0.0000,1.0833,51.000,-980.600)" x="100" y="930" font-size="9">-1.4</text>
<text transform="matrix(0.9333,0.0000,0.0000,1.0833,61.367,-1067.267)" x="100" y="1010" font-size="9">-1.2</text>
<text transform="matrix(0.8333,0.0000,0.0000,1.0833,89.383,-1153.933)" x="100" y="1090" font-size="9">-1</text>
<text transform="matrix(0.9733,0.0000,0.0000,1.0833,86.567,-1240.600)" x="100" y="1170" font-size="9">-0.8</text>
<text transform="matrix(0.8600,0.0000,0.0000,1.0833,119.000,-1327.267)" x="100" y="1250" font-size="9">0</text>
<text transform="matrix(1.0667,0.0000,0.0000,1.0833,108.333,-1413.933)" x="100" y="1330" font-size="9">0.8</text>
<text transform="matrix(0.8333,0.0000,0.0000,1.0833,152.183,-1500.600)" x="100" y="1410" font-size="9">1</text>
<text transform="matrix(0.9083,0.0000,0.0000,1.0833,158.067,-1587.267)" x="100" y="1490" font-size="9">1.2</text>
<text transform="matrix(0.8385,0.0000,0.0000,1.0833,179.454,-1673.933)" x="100" y="1570" font-size="9">1.4</text>
<text transform="matrix(0.9500,0.0000,0.0000,1.0833,183.200,-1760.600)" x="100" y="1650" font-size="9">1.6</text>
<text transform="matrix(0.8750,0.0000,0.0000,1.0833,207.400,-1847.267)" x="100" y="1730" font-size="9">1.8</text>
<text transform="matrix(0.8600,0.0000,0.0000,1.0833,226.500,-1933.933)" x="100" y="1810" font-size="9">2</text>
<text transform="matrix(0.9211,0.0000,0.0000,1.0000,-47.426,-1823.100)" x="100" y="1890" font-size="12"><tspan font-style="italic">T</tspan> = 3 K</text>
<text transform="matrix(0.9000,0.0000,0.0000,0.9000,203.400,-1636.900)" x="100" y="1970" font-size="12">200 mV</text>
<text transform="matrix(0.8400,0.0000,0.0000,1.0200,102.860,-1929.200)" x="100" y="2050" font-size="14"><tspan font-style="italic">V</tspan></text>
<text transform="matrix(1.0000,0.0000,0.0000,1.0167,-57.500,-1997.750)" x="100" y="2130" font-size="13">(b)</text>
<text transform="matrix(0.9280,0.0000,0.0000,1.0500,-73.960,-2140.500)" x="100" y="2210" font-size="14.5">2.0</text>
<text transform="matrix(0.9105,0.0000,0.0000,1.0700,-72.863,-2239.500)" x="100" y="2290" font-size="14.5">1.5</text>
<text transform="matrix(0.9316,0.0000,0.0000,1.0800,-74.989,-2318.500)" x="100" y="2370" font-size="14.5">1.0</text>
<text transform="matrix(0.9250,0.0000,0.0000,1.0500,-73.800,-2301.100)" x="100" y="2450" font-size="14.5">0.5</text>
<text transform="matrix(0.9400,0.0000,0.0000,1.0500,-75.400,-2354.700)" x="100" y="2530" font-size="14.5">0.0</text>
<text transform="matrix(0.8615,0.0000,0.0000,0.9700,-50.754,-2216.500)" x="100" y="2610" font-size="14.5">-3</text>
<text transform="matrix(0.9500,0.0000,0.0000,0.9700,-39.100,-2294.100)" x="100" y="2690" font-size="14.5">-2</text>
<text transform="matrix(0.8435,0.0000,0.0000,0.9700,-7.580,-2371.700)" x="100" y="2770" font-size="14.5">-1</text>
<text transform="matrix(0.9750,0.0000,0.0000,0.9700,2.300,-2449.300)" x="100" y="2850" font-size="14.5">0</text>
<text transform="matrix(0.9286,0.0000,0.0000,0.9700,28.314,-2526.900)" x="100" y="2930" font-size="14.5">1</text>
<text transform="matrix(0.9625,0.0000,0.0000,0.9700,45.750,-2604.500)" x="100" y="3010" font-size="14.5">2</text>
<text transform="matrix(1.0250,0.0000,0.0000,0.9700,59.300,-2682.100)" x="100" y="3090" font-size="14.5">3</text>
<text transform="matrix(0.0000,-1.1275,1.2833,0.0000,-4056.117,375.850)" x="100" y="3170" font-size="13"><tspan font-style="italic">I</tspan><tspan font-size="8" dy="3">c</tspan><tspan dy="-3" dx="1"> (mA)</tspan></text>
<text transform="matrix(1.0613,0.0000,0.0000,1.1000,-19.890,-3245.300)" x="100" y="3250" font-size="13"><tspan font-style="italic">V</tspan><tspan font-size="7" dy="4.5" dx="-0.5">G</tspan><tspan dy="-4.5" dx="1.8">(V)</tspan></text>
<text transform="matrix(0.8667,0.0000,0.0000,0.8900,-41.133,-2775.480)" x="100" y="3330" font-size="10"><tspan font-style="italic">T</tspan> (K)</text>
<text transform="matrix(0.9143,0.0000,0.0000,0.8875,-37.429,-2823.925)" x="100" y="3410" font-size="10">3.0</text>
<text transform="matrix(0.9143,0.0000,0.0000,0.8875,-37.429,-2880.805)" x="100" y="3490" font-size="10">3.4</text>
<text transform="matrix(0.9143,0.0000,0.0000,0.8875,-37.429,-2937.685)" x="100" y="3570" font-size="10">3.8</text>
<text transform="matrix(0.9143,0.0000,0.0000,0.8875,-37.429,-2994.565)" x="100" y="3650" font-size="10">4.2</text>
<text transform="matrix(0.9143,0.0000,0.0000,0.8875,-37.429,-3051.445)" x="100" y="3730" font-size="10">4.6</text>
<text transform="matrix(0.9143,0.0000,0.0000,0.8875,-37.429,-3108.325)" x="100" y="3810" font-size="10">5.0</text>
<text transform="matrix(0.9000,0.0000,0.0000,1.0167,134.600,-3787.083)" x="100" y="3890" font-size="13">(c)</text>
<text transform="matrix(0.9167,0.0000,0.0000,1.0250,102.833,-3888.750)" x="100" y="3970" font-size="14.5">600</text>
<text transform="matrix(0.9167,0.0000,0.0000,1.0000,102.833,-3838.600)" x="100" y="4050" font-size="14.5">300</text>
<text transform="matrix(0.8261,0.0000,0.0000,0.9500,127.687,-3680.800)" x="100" y="4130" font-size="14.5">0</text>
<text transform="matrix(0.9379,0.0000,0.0000,1.0200,95.807,-4020.000)" x="100" y="4210" font-size="14.5">-300</text>
<text transform="matrix(0.9379,0.0000,0.0000,1.0000,95.807,-3985.000)" x="100" y="4290" font-size="14.5">-600</text>
<text transform="matrix(0.9385,0.0000,0.0000,0.9200,121.254,-3705.100)" x="100" y="4370" font-size="14.5">-3</text>
<text transform="matrix(0.9417,0.0000,0.0000,0.9200,140.333,-3778.700)" x="100" y="4450" font-size="14.5">-2</text>
<text transform="matrix(0.8615,0.0000,0.0000,0.9200,167.846,-3852.300)" x="100" y="4530" font-size="14.5">-1</text>
<text transform="matrix(0.9000,0.0000,0.0000,0.9200,186.500,-3925.900)" x="100" y="4610" font-size="14.5">0</text>
<text transform="matrix(0.8714,0.0000,0.0000,0.9200,208.586,-3999.500)" x="100" y="4690" font-size="14.5">1</text>
<text transform="matrix(0.9250,0.0000,0.0000,0.9200,222.900,-4073.100)" x="100" y="4770" font-size="14.5">2</text>
<text transform="matrix(0.9000,0.0000,0.0000,0.9200,244.400,-4146.700)" x="100" y="4850" font-size="14.5">3</text>
<text transform="matrix(0.0000,-1.0000,1.2000,0.0000,-5726.100,358.100)" x="100" y="4930" font-size="13"><tspan font-style="italic">I</tspan><tspan font-size="7" dy="3.5">G</tspan><tspan dy="-3.5" dx="1"> (nA)</tspan></text>
<text transform="matrix(1.0424,0.0000,0.0000,1.1500,159.815,-5429.850)" x="100" y="5010" font-size="13"><tspan font-style="italic">V</tspan><tspan font-size="7" dy="4.5" dx="-0.5">G</tspan><tspan dy="-4.5" dx="3">(V)</tspan></text>
<text transform="matrix(0.8905,0.0000,0.0000,0.8900,147.562,-4337.880)" x="100" y="5090" font-size="10"><tspan font-style="italic">T</tspan> (K)</text>
<text transform="matrix(0.9357,0.0000,0.0000,0.8875,154.429,-4381.725)" x="100" y="5170" font-size="10">3.0</text>
<text transform="matrix(0.9357,0.0000,0.0000,0.8875,154.429,-4438.825)" x="100" y="5250" font-size="10">3.4</text>
<text transform="matrix(0.9357,0.0000,0.0000,0.8875,154.429,-4495.325)" x="100" y="5330" font-size="10">3.8</text>
<text transform="matrix(0.9357,0.0000,0.0000,0.8125,208.729,-4132.275)" x="100" y="5410" font-size="10">4.2</text>
<text transform="matrix(0.9357,0.0000,0.0000,0.8125,208.729,-4183.175)" x="100" y="5490" font-size="10">4.6</text>
<text transform="matrix(0.9357,0.0000,0.0000,0.8125,208.729,-4234.475)" x="100" y="5570" font-size="10">5.0</text>
</svg></body></html>
